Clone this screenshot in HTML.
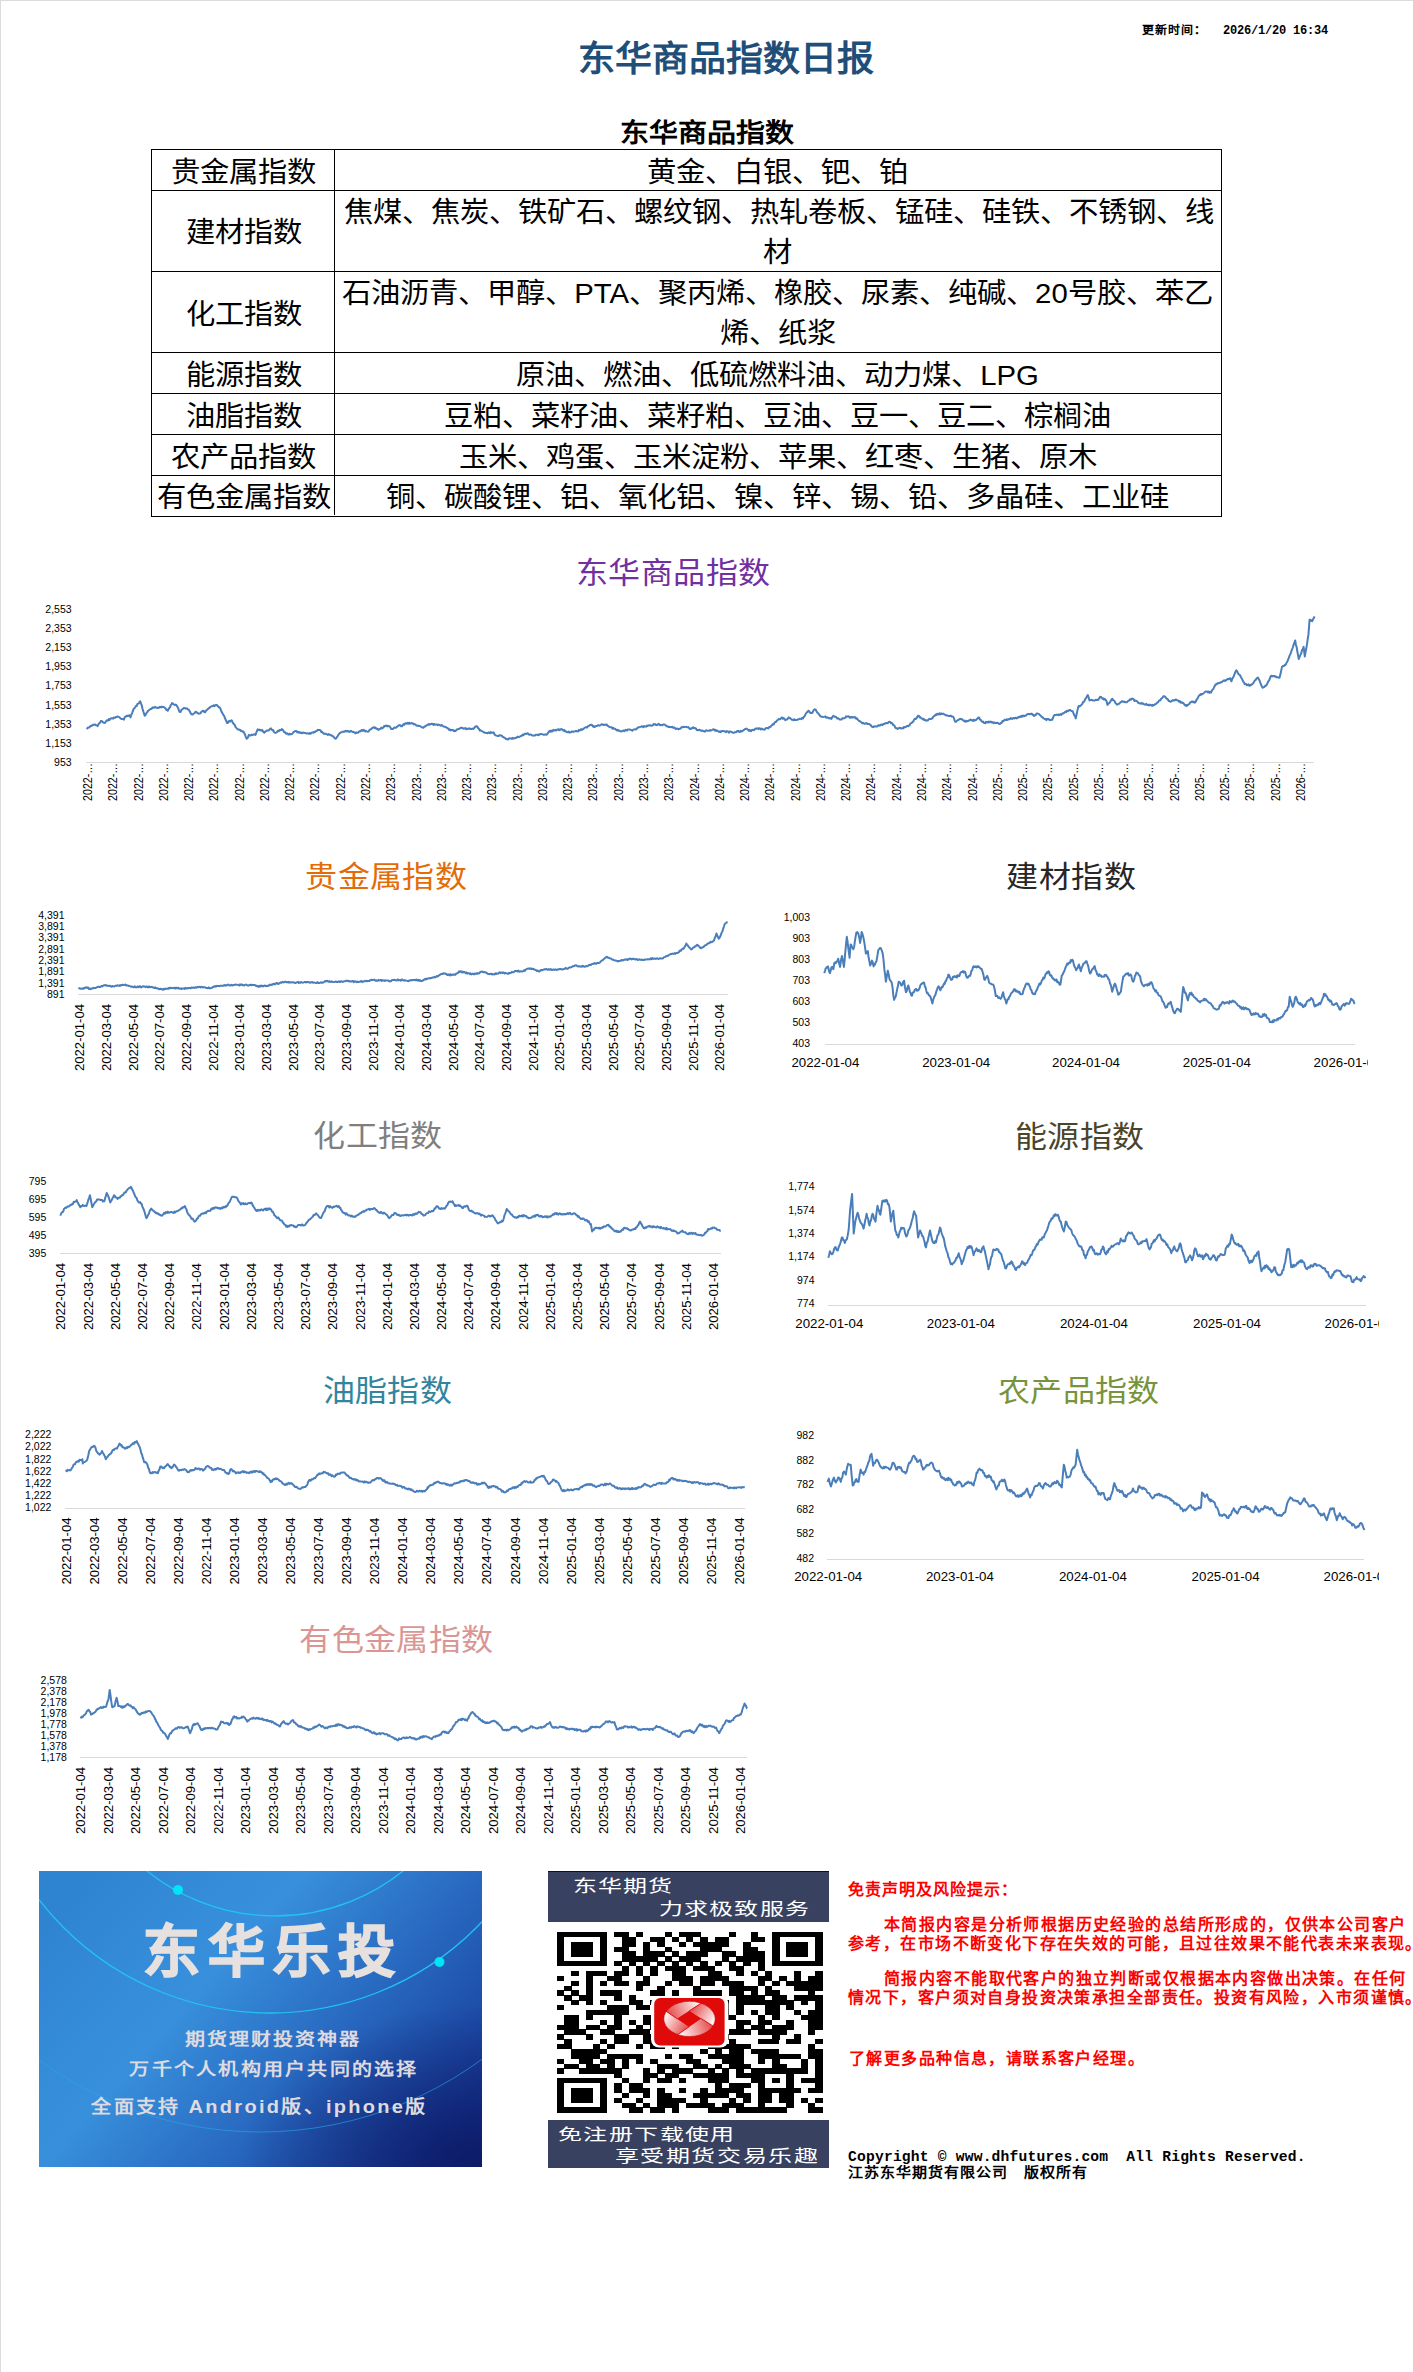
<!DOCTYPE html>
<html lang="zh-CN"><head><meta charset="utf-8"><title>东华商品指数日报</title>
<style>html,body{margin:0;padding:0;background:#fff;} body{position:relative;width:1413px;height:2372px;overflow:hidden;font-family:"Liberation Sans", sans-serif;}</style>
</head><body>
<div style="position:absolute;left:0;top:0;width:1413px;height:1px;background:#dcdcdc"></div>
<div style="position:absolute;left:0;top:0;width:1px;height:2372px;background:#dcdcdc"></div>
<div style="position:absolute;left:1142px;top:24px;font-size:12px;line-height:12px;color:#000;font-weight:bold;white-space:nowrap;font-family:'Liberation Sans', sans-serif;letter-spacing:1px;transform:scaleY(0.95);transform-origin:top;">更新时间：</div>
<div style="position:absolute;left:1223px;top:25px;font-size:12px;line-height:12px;color:#000;font-weight:bold;white-space:nowrap;font-family:'Liberation Mono', monospace;letter-spacing:-0.2px;">2026/1/20 16:34</div>
<div style="position:absolute;left:225.5px;width:1000px;top:41.5px;text-align:center;font-size:37px;line-height:37px;color:#1f4e79;font-weight:bold;white-space:nowrap;font-family:'Liberation Sans', sans-serif;transform:scaleY(0.94);transform-origin:top;">东华商品指数日报</div>
<div style="position:absolute;left:207.0px;width:1000px;top:119.5px;text-align:center;font-size:29px;line-height:29px;color:#000;font-weight:bold;white-space:nowrap;font-family:'Liberation Sans', sans-serif;transform:scaleY(0.9);transform-origin:top;">东华商品指数</div>
<div style="position:absolute;left:151px;top:149px;width:1069px;height:366px;border:1px solid #000;box-sizing:content-box"></div>
<div style="position:absolute;left:151px;top:190px;width:1070px;height:1px;background:#000"></div>
<div style="position:absolute;left:151px;top:271px;width:1070px;height:1px;background:#000"></div>
<div style="position:absolute;left:151px;top:352px;width:1070px;height:1px;background:#000"></div>
<div style="position:absolute;left:151px;top:393px;width:1070px;height:1px;background:#000"></div>
<div style="position:absolute;left:151px;top:434px;width:1070px;height:1px;background:#000"></div>
<div style="position:absolute;left:151px;top:474.5px;width:1070px;height:1px;background:#000"></div>
<div style="position:absolute;left:334px;top:149px;width:1px;height:366px;background:#000"></div>
<div style="position:absolute;left:-256.5px;width:1000px;top:156.5px;text-align:center;font-size:29.33px;line-height:29.33px;color:#000;font-weight:normal;white-space:nowrap;font-family:'Liberation Sans', sans-serif;transform:scaleY(0.96);">贵金属指数</div>
<div style="position:absolute;left:277.5px;width:1000px;top:156.5px;text-align:center;font-size:29.33px;line-height:29.33px;color:#000;font-weight:normal;white-space:nowrap;font-family:'Liberation Sans', sans-serif;transform:scaleY(0.96);">黄金、白银、钯、铂</div>
<div style="position:absolute;left:-256.5px;width:1000px;top:217.0px;text-align:center;font-size:29.33px;line-height:29.33px;color:#000;font-weight:normal;white-space:nowrap;font-family:'Liberation Sans', sans-serif;transform:scaleY(0.96);">建材指数</div>
<div style="position:absolute;left:278.5px;width:1000px;top:197.0px;text-align:center;font-size:29.33px;line-height:29.33px;color:#000;font-weight:normal;white-space:nowrap;font-family:'Liberation Sans', sans-serif;transform:scaleY(0.96);">焦煤、焦炭、铁矿石、螺纹钢、热轧卷板、锰硅、硅铁、不锈钢、线</div>
<div style="position:absolute;left:277.5px;width:1000px;top:236.8px;text-align:center;font-size:29.33px;line-height:29.33px;color:#000;font-weight:normal;white-space:nowrap;font-family:'Liberation Sans', sans-serif;transform:scaleY(0.96);">材</div>
<div style="position:absolute;left:-256.5px;width:1000px;top:298.5px;text-align:center;font-size:29.33px;line-height:29.33px;color:#000;font-weight:normal;white-space:nowrap;font-family:'Liberation Sans', sans-serif;transform:scaleY(0.96);">化工指数</div>
<div style="position:absolute;left:277.5px;width:1000px;top:278.0px;text-align:center;font-size:29.33px;line-height:29.33px;color:#000;font-weight:normal;white-space:nowrap;font-family:'Liberation Sans', sans-serif;transform:scaleY(0.96);">石油沥青、甲醇、PTA、聚丙烯、橡胶、尿素、纯碱、20号胶、苯乙</div>
<div style="position:absolute;left:277.5px;width:1000px;top:318.0px;text-align:center;font-size:29.33px;line-height:29.33px;color:#000;font-weight:normal;white-space:nowrap;font-family:'Liberation Sans', sans-serif;transform:scaleY(0.96);">烯、纸浆</div>
<div style="position:absolute;left:-256.5px;width:1000px;top:359.5px;text-align:center;font-size:29.33px;line-height:29.33px;color:#000;font-weight:normal;white-space:nowrap;font-family:'Liberation Sans', sans-serif;transform:scaleY(0.96);">能源指数</div>
<div style="position:absolute;left:277.5px;width:1000px;top:359.5px;text-align:center;font-size:29.33px;line-height:29.33px;color:#000;font-weight:normal;white-space:nowrap;font-family:'Liberation Sans', sans-serif;transform:scaleY(0.96);">原油、燃油、低硫燃料油、动力煤、LPG</div>
<div style="position:absolute;left:-256.5px;width:1000px;top:400.5px;text-align:center;font-size:29.33px;line-height:29.33px;color:#000;font-weight:normal;white-space:nowrap;font-family:'Liberation Sans', sans-serif;transform:scaleY(0.96);">油脂指数</div>
<div style="position:absolute;left:277.5px;width:1000px;top:400.5px;text-align:center;font-size:29.33px;line-height:29.33px;color:#000;font-weight:normal;white-space:nowrap;font-family:'Liberation Sans', sans-serif;transform:scaleY(0.96);">豆粕、菜籽油、菜籽粕、豆油、豆一、豆二、棕榈油</div>
<div style="position:absolute;left:-256.5px;width:1000px;top:441.5px;text-align:center;font-size:29.33px;line-height:29.33px;color:#000;font-weight:normal;white-space:nowrap;font-family:'Liberation Sans', sans-serif;transform:scaleY(0.96);">农产品指数</div>
<div style="position:absolute;left:277.5px;width:1000px;top:441.5px;text-align:center;font-size:29.33px;line-height:29.33px;color:#000;font-weight:normal;white-space:nowrap;font-family:'Liberation Sans', sans-serif;transform:scaleY(0.96);">玉米、鸡蛋、玉米淀粉、苹果、红枣、生猪、原木</div>
<div style="position:absolute;left:-256.5px;width:1000px;top:481.5px;text-align:center;font-size:29.33px;line-height:29.33px;color:#000;font-weight:normal;white-space:nowrap;font-family:'Liberation Sans', sans-serif;transform:scaleY(0.96);">有色金属指数</div>
<div style="position:absolute;left:277.5px;width:1000px;top:481.5px;text-align:center;font-size:29.33px;line-height:29.33px;color:#000;font-weight:normal;white-space:nowrap;font-family:'Liberation Sans', sans-serif;transform:scaleY(0.96);">铜、碳酸锂、铝、氧化铝、镍、锌、锡、铅、多晶硅、工业硅</div>
<div style="position:absolute;left:173.20000000000005px;width:1000px;top:556.5px;text-align:center;font-size:32px;line-height:32px;color:#7030a0;font-weight:normal;white-space:nowrap;font-family:'Liberation Sans', sans-serif;letter-spacing:0.4px;transform:scaleY(0.92);">东华商品指数</div>
<div style="position:absolute;left:-113.90000000000003px;width:1000px;top:860.5px;text-align:center;font-size:32px;line-height:32px;color:#e36c09;font-weight:normal;white-space:nowrap;font-family:'Liberation Sans', sans-serif;letter-spacing:0.4px;transform:scaleY(0.92);">贵金属指数</div>
<div style="position:absolute;left:571.2px;width:1000px;top:860.5px;text-align:center;font-size:32px;line-height:32px;color:#262626;font-weight:normal;white-space:nowrap;font-family:'Liberation Sans', sans-serif;letter-spacing:0.4px;transform:scaleY(0.92);">建材指数</div>
<div style="position:absolute;left:-122.0px;width:1000px;top:1120.0px;text-align:center;font-size:32px;line-height:32px;color:#7f7f7f;font-weight:normal;white-space:nowrap;font-family:'Liberation Sans', sans-serif;letter-spacing:0.4px;transform:scaleY(0.92);">化工指数</div>
<div style="position:absolute;left:579.8500000000001px;width:1000px;top:1121.0px;text-align:center;font-size:32px;line-height:32px;color:#4a452a;font-weight:normal;white-space:nowrap;font-family:'Liberation Sans', sans-serif;letter-spacing:0.4px;transform:scaleY(0.92);">能源指数</div>
<div style="position:absolute;left:-112.5px;width:1000px;top:1375.0px;text-align:center;font-size:32px;line-height:32px;color:#31859c;font-weight:normal;white-space:nowrap;font-family:'Liberation Sans', sans-serif;letter-spacing:0.4px;transform:scaleY(0.92);">油脂指数</div>
<div style="position:absolute;left:578.9000000000001px;width:1000px;top:1375.0px;text-align:center;font-size:32px;line-height:32px;color:#77933c;font-weight:normal;white-space:nowrap;font-family:'Liberation Sans', sans-serif;letter-spacing:0.4px;transform:scaleY(0.92);">农产品指数</div>
<div style="position:absolute;left:-103.5px;width:1000px;top:1623.5px;text-align:center;font-size:32px;line-height:32px;color:#d99694;font-weight:normal;white-space:nowrap;font-family:'Liberation Sans', sans-serif;letter-spacing:0.4px;transform:scaleY(0.92);">有色金属指数</div>
<svg style="position:absolute;left:0;top:0" width="1413" height="2372" font-family='"Liberation Sans", sans-serif' fill="#000"><text x="71.6" y="612.8" font-size="10.5" text-anchor="end">2,553</text><text x="71.6" y="632.0" font-size="10.5" text-anchor="end">2,353</text><text x="71.6" y="651.1" font-size="10.5" text-anchor="end">2,153</text><text x="71.6" y="670.2" font-size="10.5" text-anchor="end">1,953</text><text x="71.6" y="689.3" font-size="10.5" text-anchor="end">1,753</text><text x="71.6" y="708.5" font-size="10.5" text-anchor="end">1,553</text><text x="71.6" y="727.6" font-size="10.5" text-anchor="end">1,353</text><text x="71.6" y="746.7" font-size="10.5" text-anchor="end">1,153</text><text x="71.6" y="765.8" font-size="10.5" text-anchor="end">953</text><rect x="86" y="762" width="1228" height="1" fill="#d9d9d9"/><text transform="translate(92.0,801.0) rotate(-90)" font-size="12" textLength="38" lengthAdjust="spacingAndGlyphs">2022-…</text><text transform="translate(117.2,801.0) rotate(-90)" font-size="12" textLength="38" lengthAdjust="spacingAndGlyphs">2022-…</text><text transform="translate(142.5,801.0) rotate(-90)" font-size="12" textLength="38" lengthAdjust="spacingAndGlyphs">2022-…</text><text transform="translate(167.8,801.0) rotate(-90)" font-size="12" textLength="38" lengthAdjust="spacingAndGlyphs">2022-…</text><text transform="translate(193.1,801.0) rotate(-90)" font-size="12" textLength="38" lengthAdjust="spacingAndGlyphs">2022-…</text><text transform="translate(218.3,801.0) rotate(-90)" font-size="12" textLength="38" lengthAdjust="spacingAndGlyphs">2022-…</text><text transform="translate(243.6,801.0) rotate(-90)" font-size="12" textLength="38" lengthAdjust="spacingAndGlyphs">2022-…</text><text transform="translate(268.9,801.0) rotate(-90)" font-size="12" textLength="38" lengthAdjust="spacingAndGlyphs">2022-…</text><text transform="translate(294.1,801.0) rotate(-90)" font-size="12" textLength="38" lengthAdjust="spacingAndGlyphs">2022-…</text><text transform="translate(319.4,801.0) rotate(-90)" font-size="12" textLength="38" lengthAdjust="spacingAndGlyphs">2022-…</text><text transform="translate(344.7,801.0) rotate(-90)" font-size="12" textLength="38" lengthAdjust="spacingAndGlyphs">2022-…</text><text transform="translate(370.0,801.0) rotate(-90)" font-size="12" textLength="38" lengthAdjust="spacingAndGlyphs">2022-…</text><text transform="translate(395.2,801.0) rotate(-90)" font-size="12" textLength="38" lengthAdjust="spacingAndGlyphs">2023-…</text><text transform="translate(420.5,801.0) rotate(-90)" font-size="12" textLength="38" lengthAdjust="spacingAndGlyphs">2023-…</text><text transform="translate(445.8,801.0) rotate(-90)" font-size="12" textLength="38" lengthAdjust="spacingAndGlyphs">2023-…</text><text transform="translate(471.0,801.0) rotate(-90)" font-size="12" textLength="38" lengthAdjust="spacingAndGlyphs">2023-…</text><text transform="translate(496.3,801.0) rotate(-90)" font-size="12" textLength="38" lengthAdjust="spacingAndGlyphs">2023-…</text><text transform="translate(521.6,801.0) rotate(-90)" font-size="12" textLength="38" lengthAdjust="spacingAndGlyphs">2023-…</text><text transform="translate(546.8,801.0) rotate(-90)" font-size="12" textLength="38" lengthAdjust="spacingAndGlyphs">2023-…</text><text transform="translate(572.1,801.0) rotate(-90)" font-size="12" textLength="38" lengthAdjust="spacingAndGlyphs">2023-…</text><text transform="translate(597.4,801.0) rotate(-90)" font-size="12" textLength="38" lengthAdjust="spacingAndGlyphs">2023-…</text><text transform="translate(622.7,801.0) rotate(-90)" font-size="12" textLength="38" lengthAdjust="spacingAndGlyphs">2023-…</text><text transform="translate(647.9,801.0) rotate(-90)" font-size="12" textLength="38" lengthAdjust="spacingAndGlyphs">2023-…</text><text transform="translate(673.2,801.0) rotate(-90)" font-size="12" textLength="38" lengthAdjust="spacingAndGlyphs">2023-…</text><text transform="translate(698.5,801.0) rotate(-90)" font-size="12" textLength="38" lengthAdjust="spacingAndGlyphs">2024-…</text><text transform="translate(723.7,801.0) rotate(-90)" font-size="12" textLength="38" lengthAdjust="spacingAndGlyphs">2024-…</text><text transform="translate(749.0,801.0) rotate(-90)" font-size="12" textLength="38" lengthAdjust="spacingAndGlyphs">2024-…</text><text transform="translate(774.3,801.0) rotate(-90)" font-size="12" textLength="38" lengthAdjust="spacingAndGlyphs">2024-…</text><text transform="translate(799.6,801.0) rotate(-90)" font-size="12" textLength="38" lengthAdjust="spacingAndGlyphs">2024-…</text><text transform="translate(824.8,801.0) rotate(-90)" font-size="12" textLength="38" lengthAdjust="spacingAndGlyphs">2024-…</text><text transform="translate(850.1,801.0) rotate(-90)" font-size="12" textLength="38" lengthAdjust="spacingAndGlyphs">2024-…</text><text transform="translate(875.4,801.0) rotate(-90)" font-size="12" textLength="38" lengthAdjust="spacingAndGlyphs">2024-…</text><text transform="translate(900.6,801.0) rotate(-90)" font-size="12" textLength="38" lengthAdjust="spacingAndGlyphs">2024-…</text><text transform="translate(925.9,801.0) rotate(-90)" font-size="12" textLength="38" lengthAdjust="spacingAndGlyphs">2024-…</text><text transform="translate(951.2,801.0) rotate(-90)" font-size="12" textLength="38" lengthAdjust="spacingAndGlyphs">2024-…</text><text transform="translate(976.5,801.0) rotate(-90)" font-size="12" textLength="38" lengthAdjust="spacingAndGlyphs">2024-…</text><text transform="translate(1001.7,801.0) rotate(-90)" font-size="12" textLength="38" lengthAdjust="spacingAndGlyphs">2025-…</text><text transform="translate(1027.0,801.0) rotate(-90)" font-size="12" textLength="38" lengthAdjust="spacingAndGlyphs">2025-…</text><text transform="translate(1052.3,801.0) rotate(-90)" font-size="12" textLength="38" lengthAdjust="spacingAndGlyphs">2025-…</text><text transform="translate(1077.5,801.0) rotate(-90)" font-size="12" textLength="38" lengthAdjust="spacingAndGlyphs">2025-…</text><text transform="translate(1102.8,801.0) rotate(-90)" font-size="12" textLength="38" lengthAdjust="spacingAndGlyphs">2025-…</text><text transform="translate(1128.1,801.0) rotate(-90)" font-size="12" textLength="38" lengthAdjust="spacingAndGlyphs">2025-…</text><text transform="translate(1153.3,801.0) rotate(-90)" font-size="12" textLength="38" lengthAdjust="spacingAndGlyphs">2025-…</text><text transform="translate(1178.6,801.0) rotate(-90)" font-size="12" textLength="38" lengthAdjust="spacingAndGlyphs">2025-…</text><text transform="translate(1203.9,801.0) rotate(-90)" font-size="12" textLength="38" lengthAdjust="spacingAndGlyphs">2025-…</text><text transform="translate(1229.2,801.0) rotate(-90)" font-size="12" textLength="38" lengthAdjust="spacingAndGlyphs">2025-…</text><text transform="translate(1254.4,801.0) rotate(-90)" font-size="12" textLength="38" lengthAdjust="spacingAndGlyphs">2025-…</text><text transform="translate(1279.7,801.0) rotate(-90)" font-size="12" textLength="38" lengthAdjust="spacingAndGlyphs">2025-…</text><text transform="translate(1305.0,801.0) rotate(-90)" font-size="12" textLength="38" lengthAdjust="spacingAndGlyphs">2026-…</text><polyline points="86.6,729.0 87.4,728.2 88.2,727.4 89.1,727.6 89.9,726.8 90.6,725.8 91.3,726.1 92.1,725.5 92.8,724.7 93.5,725.0 94.3,724.6 95.1,724.4 95.9,725.3 96.7,725.2 97.6,726.2 98.4,724.3 99.2,723.5 100.0,722.8 100.8,721.1 101.7,721.0 102.5,721.6 103.3,722.6 104.1,722.9 105.0,722.8 105.8,721.7 106.6,720.7 107.4,720.2 108.1,720.6 108.8,719.1 109.5,720.0 110.2,718.9 111.0,718.5 111.7,718.2 112.4,718.2 113.1,718.7 113.8,717.5 114.5,717.8 115.2,717.7 115.9,717.0 116.6,717.0 117.3,716.7 118.1,716.5 118.9,717.0 119.8,717.6 120.6,718.5 121.4,719.0 122.2,718.9 123.1,719.0 123.9,719.6 125.0,716.7 125.7,716.6 126.4,716.1 127.2,715.7 127.9,716.1 128.6,715.7 129.4,715.2 130.5,717.4 131.3,714.8 132.1,713.1 132.9,710.8 133.8,708.6 134.5,708.3 135.2,707.3 135.9,705.9 136.7,706.1 137.4,704.0 138.1,703.7 138.9,703.3 139.6,701.7 140.3,701.4 141.1,703.8 141.8,705.5 142.5,708.8 143.3,711.4 144.0,713.5 144.7,715.8 145.5,715.1 146.4,713.1 147.2,712.3 148.0,710.8 148.7,710.4 149.5,709.8 150.2,709.1 150.9,709.1 151.7,708.7 152.4,707.5 153.2,707.5 154.0,707.7 154.9,706.9 155.7,707.5 156.5,707.7 157.2,707.6 158.0,708.1 158.8,707.8 159.5,707.0 160.3,707.1 161.1,707.4 161.8,706.5 162.6,707.1 163.4,707.1 164.1,707.2 164.8,707.8 165.6,708.3 166.3,709.9 167.0,709.7 167.8,710.8 168.5,709.2 169.2,708.1 170.0,707.5 170.7,705.1 171.4,704.3 172.1,703.1 172.9,703.6 173.6,704.4 174.3,704.7 175.1,705.1 175.8,704.6 176.5,705.3 177.4,706.8 178.2,708.4 179.0,710.8 179.8,711.9 180.6,711.9 181.3,710.1 182.0,709.5 182.7,708.9 183.5,708.2 184.2,707.9 184.9,708.2 185.7,708.7 186.4,708.5 187.1,708.4 187.9,709.3 188.6,709.7 189.4,710.7 190.2,712.2 191.1,714.0 191.9,714.5 192.6,714.4 193.4,713.7 194.1,713.4 194.8,713.0 195.5,711.7 196.3,711.9 197.1,712.9 197.9,713.2 198.7,713.7 199.6,713.6 200.4,713.4 201.2,712.1 202.0,711.4 202.9,710.8 203.6,710.8 204.3,712.0 205.1,712.3 205.8,711.0 206.5,710.3 207.2,709.7 208.0,708.9 208.7,708.4 209.4,707.9 210.2,707.0 210.9,706.6 211.6,706.4 212.4,706.0 213.1,706.0 213.8,705.2 214.6,706.1 215.3,705.4 216.0,704.9 216.8,705.0 217.5,705.8 218.2,706.5 218.9,707.2 219.7,707.5 220.4,708.6 221.1,710.7 221.9,712.5 222.6,713.3 223.3,714.9 224.1,715.9 224.8,717.6 225.5,719.5 226.3,720.9 227.0,722.9 227.7,722.9 228.5,721.5 229.2,720.9 229.9,721.7 230.7,720.7 231.4,720.2 232.1,721.0 232.8,722.8 233.6,724.0 234.3,724.2 235.0,725.8 235.8,727.4 236.5,728.1 237.2,728.8 238.0,729.4 238.7,729.4 239.5,729.9 240.3,729.9 241.1,731.1 241.9,731.1 242.7,731.7 243.4,731.6 244.3,733.2 245.1,734.8 245.9,737.3 246.7,738.7 247.5,738.1 248.2,736.7 248.9,734.9 249.7,735.4 250.4,735.4 251.1,735.3 251.9,734.5 252.6,735.0 253.3,734.7 254.1,734.3 254.8,734.3 255.5,734.9 256.2,732.8 257.0,730.9 257.7,729.4 258.4,729.8 259.2,730.2 259.9,729.6 260.6,730.3 261.4,730.5 262.1,729.9 262.8,731.5 263.6,731.6 264.3,732.7 265.0,731.9 265.8,731.4 266.5,730.8 267.2,730.4 267.9,730.5 268.7,730.4 269.4,729.8 270.1,728.8 270.9,728.3 271.6,729.3 272.3,730.2 273.1,730.0 273.8,731.5 274.5,732.6 275.3,732.7 276.0,732.7 276.7,732.3 277.5,731.5 278.2,730.6 278.9,731.1 279.6,730.0 280.4,730.3 281.1,730.1 281.8,729.0 282.6,729.7 283.3,730.5 284.0,732.0 284.8,732.5 285.5,732.6 286.2,733.8 287.0,733.4 287.7,733.5 288.4,734.6 289.2,734.6 289.9,733.7 290.6,734.3 291.4,734.2 292.1,733.9 292.8,733.0 293.5,732.0 294.3,731.8 295.0,731.2 295.7,730.9 296.5,730.9 297.2,732.4 297.9,732.1 298.7,732.1 299.4,732.8 300.1,732.3 300.9,733.1 301.6,732.7 302.3,733.3 303.1,732.5 303.8,732.7 304.5,732.9 305.2,732.9 306.0,733.4 306.8,733.6 307.6,733.3 308.4,733.6 309.3,733.8 310.0,733.0 310.7,733.8 311.4,732.8 312.1,732.6 312.8,732.5 313.5,732.7 314.2,731.7 314.9,732.2 315.6,731.3 316.3,731.1 317.0,730.8 317.7,729.8 318.4,730.1 319.1,729.9 319.9,730.0 320.6,730.4 321.3,732.1 322.1,731.8 322.8,732.8 323.5,733.4 324.3,733.9 325.0,733.8 325.7,733.7 326.5,734.1 327.2,734.4 327.9,734.9 328.6,734.1 329.4,734.9 330.1,734.7 330.8,734.9 331.6,735.8 332.3,735.6 333.1,736.4 333.9,737.2 334.8,738.3 335.6,738.7 336.3,738.2 337.1,736.6 337.8,735.9 338.5,734.7 339.3,733.7 340.0,732.7 340.8,732.7 341.5,732.1 342.3,731.9 343.1,731.6 343.9,731.9 344.7,731.3 345.5,730.8 346.2,731.4 346.9,731.6 347.7,730.7 348.4,731.2 349.1,731.9 349.9,731.8 350.6,730.9 351.3,731.0 352.0,731.6 352.9,732.0 353.7,731.9 354.5,732.6 355.3,733.4 356.1,732.4 356.9,732.9 357.6,732.7 358.4,732.5 359.2,731.2 359.9,731.6 360.7,731.2 361.5,730.1 362.3,730.8 363.0,729.9 363.8,730.8 364.5,730.1 365.2,731.4 365.9,730.9 366.7,731.3 367.4,731.6 368.1,731.8 368.9,731.1 369.6,729.7 370.3,729.6 371.1,729.2 371.8,728.5 372.5,727.8 373.3,727.5 374.0,727.2 374.7,728.0 375.5,727.5 376.2,728.6 376.9,728.9 377.6,728.8 378.4,729.9 379.1,729.2 379.8,729.2 380.6,728.7 381.3,727.6 382.0,728.5 382.8,727.8 383.5,727.6 384.2,726.0 385.0,726.2 385.7,725.8 386.5,725.5 387.2,726.5 388.0,725.8 388.8,726.2 389.6,726.3 390.4,727.5 391.2,728.9 392.1,729.0 392.9,729.1 393.7,728.0 394.5,727.5 395.4,727.7 396.2,727.7 397.0,726.7 397.8,726.3 398.6,725.5 399.5,725.1 400.3,725.2 401.1,726.3 401.9,726.2 402.8,725.3 403.6,724.1 404.4,724.6 405.2,723.3 406.0,723.5 406.8,723.7 407.5,722.7 408.3,723.8 409.1,722.7 409.8,723.8 410.6,723.2 411.4,723.1 412.1,723.4 412.9,723.3 413.7,724.4 414.6,724.1 415.4,724.4 416.2,725.5 416.9,725.8 417.7,725.6 418.4,725.7 419.1,726.0 419.9,726.1 420.6,726.5 421.3,726.9 422.1,727.2 422.8,727.7 423.5,727.7 424.3,726.6 425.1,726.6 425.9,725.7 426.6,725.6 427.4,724.8 428.2,724.7 428.9,724.0 429.7,724.7 430.5,724.0 431.2,724.1 431.9,723.7 432.7,724.1 433.4,724.9 434.1,723.8 434.8,724.8 435.6,724.4 436.3,724.5 437.0,724.6 437.8,725.2 438.5,724.6 439.2,724.8 440.0,725.2 440.7,725.7 441.4,725.1 442.2,725.2 442.9,726.3 443.6,726.4 444.4,726.7 445.1,726.7 445.8,727.2 446.6,727.7 447.5,727.9 448.3,728.7 449.1,729.9 449.9,729.4 450.7,730.5 451.5,729.9 452.2,729.9 453.0,729.9 453.8,731.1 454.6,730.8 455.4,731.0 456.1,730.4 456.9,729.5 457.7,729.2 458.4,728.9 459.2,728.9 460.0,728.1 460.7,728.2 461.5,727.7 462.3,727.7 463.1,728.5 463.8,728.7 464.6,728.3 465.4,728.1 466.2,729.3 467.0,728.5 467.8,729.0 468.5,728.8 469.3,728.3 470.1,728.8 470.9,729.0 471.7,729.0 472.5,728.6 473.2,729.0 474.1,728.3 474.9,726.9 475.7,726.5 476.5,726.2 477.4,726.7 478.2,728.2 479.0,728.8 479.8,730.5 480.6,730.2 481.4,730.9 482.2,731.1 483.0,731.9 483.7,732.1 484.5,732.8 485.3,732.7 486.1,732.9 486.8,733.0 487.6,733.2 488.4,732.5 489.1,732.4 489.9,733.3 490.7,732.1 491.5,732.9 492.2,732.7 493.0,732.5 493.8,732.6 494.6,734.5 495.5,735.4 496.3,735.6 497.1,735.8 497.8,735.9 498.6,736.0 499.4,735.1 500.2,735.6 501.0,735.6 501.8,735.6 502.5,736.6 503.3,737.1 504.1,737.6 504.9,737.8 505.7,738.8 506.5,739.0 507.2,739.3 508.0,739.5 508.7,738.7 509.4,738.3 510.2,738.4 510.9,738.6 511.6,738.7 512.4,737.9 513.1,738.8 513.8,738.2 514.6,738.2 515.3,738.0 516.0,737.9 516.8,737.4 517.5,736.6 518.2,737.1 518.9,737.2 519.7,736.8 520.4,736.2 521.1,735.9 521.9,735.8 522.6,734.6 523.3,735.3 524.1,734.3 524.8,733.7 525.5,733.7 526.3,734.0 527.0,733.4 527.7,733.2 528.5,734.2 529.2,734.8 529.9,734.4 530.7,734.4 531.4,734.8 532.1,735.4 532.8,735.7 533.6,735.6 534.3,735.6 535.0,735.6 535.8,734.7 536.5,734.7 537.2,734.7 538.0,735.3 538.7,734.5 539.4,734.8 540.2,733.9 540.9,733.9 541.6,734.1 542.4,734.3 543.1,734.6 543.8,734.7 544.5,734.7 545.3,734.3 546.0,734.7 546.7,734.7 547.5,733.6 548.2,732.6 548.9,731.6 549.7,730.9 550.4,731.8 551.1,730.6 551.9,731.5 552.6,731.3 553.3,729.8 554.1,730.2 554.8,730.5 555.5,729.9 556.2,730.5 557.0,729.7 557.7,729.4 558.4,729.3 559.2,730.3 559.9,729.2 560.6,729.7 561.4,729.0 562.1,729.4 562.8,729.8 563.6,730.8 564.3,730.0 565.0,731.4 565.8,731.3 566.5,731.6 567.2,732.3 567.9,732.1 568.7,731.6 569.4,732.6 570.1,732.2 570.9,732.3 571.6,731.5 572.3,731.4 573.1,731.9 573.8,731.7 574.5,731.4 575.3,731.1 576.0,731.2 576.7,731.1 577.5,731.2 578.2,731.4 578.9,729.9 579.6,730.6 580.4,730.4 581.1,729.1 581.8,729.9 582.6,729.3 583.3,729.2 584.0,728.3 584.8,727.7 585.5,727.4 586.2,727.1 587.0,727.6 587.7,726.6 588.4,726.0 589.2,725.7 589.9,725.1 590.6,725.1 591.4,724.7 592.1,725.1 592.8,726.4 593.5,725.9 594.3,727.1 595.0,726.8 595.7,726.2 596.5,725.9 597.2,725.9 597.9,725.2 598.7,725.2 599.4,725.7 600.1,725.3 600.9,724.9 601.6,724.2 602.3,724.4 603.1,724.9 603.8,725.0 604.5,724.5 605.2,724.9 606.0,724.6 606.7,724.4 607.4,725.8 608.2,725.9 608.9,726.7 609.6,727.0 610.4,727.2 611.1,727.2 611.8,727.2 612.6,728.7 613.3,727.9 614.0,728.7 614.8,728.8 615.5,729.0 616.2,729.9 616.9,730.5 617.7,729.8 618.4,730.7 619.1,730.5 619.9,731.1 620.6,731.2 621.3,731.6 622.1,730.9 622.8,730.7 623.5,730.5 624.3,731.2 625.0,730.4 625.7,729.8 626.5,730.5 627.2,730.4 627.9,729.4 628.6,729.6 629.4,729.4 630.1,729.7 630.8,729.7 631.6,730.3 632.3,730.8 633.0,729.8 633.8,729.6 634.5,729.3 635.2,729.3 636.0,729.4 636.7,728.8 637.4,727.9 638.2,727.5 638.9,727.2 639.6,727.2 640.3,726.9 641.1,726.7 641.8,726.2 642.5,726.4 643.3,727.2 644.0,726.0 644.7,726.4 645.5,726.4 646.2,726.7 646.9,725.6 647.7,725.9 648.4,725.5 649.1,725.3 649.9,725.4 650.6,725.3 651.3,725.8 652.0,725.5 652.8,725.4 653.5,724.1 654.2,724.6 655.0,724.0 655.7,724.9 656.4,725.2 657.2,724.6 657.9,724.7 658.6,723.9 659.4,724.5 660.1,725.2 660.8,725.1 661.6,725.1 662.3,725.3 663.0,724.6 663.8,724.5 664.5,724.6 665.2,724.9 665.9,725.7 666.7,726.2 667.4,726.2 668.1,726.9 668.9,726.8 669.6,726.9 670.3,727.2 671.1,726.9 671.8,727.2 672.5,726.7 673.3,727.9 674.0,727.7 674.7,727.6 675.5,728.9 676.2,728.8 676.9,728.6 677.6,728.6 678.4,729.4 679.1,728.7 679.8,728.9 680.6,728.6 681.3,727.4 682.0,727.0 682.8,727.2 683.3,726.8 684.0,726.9 684.8,727.1 685.5,726.9 686.2,726.7 686.9,727.3 687.7,727.2 688.4,727.1 689.1,728.1 689.9,729.0 690.7,728.5 691.5,728.8 692.3,727.9 693.2,727.2 693.9,728.2 694.6,728.1 695.4,728.2 696.1,728.6 696.8,730.1 697.6,729.9 698.3,730.3 699.0,729.9 699.7,729.7 700.5,730.5 701.2,730.9 701.9,730.6 702.7,730.6 703.4,731.3 704.1,731.2 704.9,731.7 705.6,730.7 706.3,730.3 707.1,730.7 707.8,730.7 708.5,730.8 709.3,730.8 710.1,730.0 710.9,730.6 711.7,730.3 712.4,729.8 713.2,729.2 714.0,729.4 714.7,730.5 715.5,729.9 716.2,731.0 716.9,730.5 717.7,730.9 718.4,731.6 719.2,731.9 720.0,731.2 720.7,732.1 721.5,731.4 722.3,730.9 723.1,730.9 723.9,731.2 724.6,731.2 725.3,731.6 726.1,732.2 726.8,731.1 727.5,731.6 728.3,731.5 729.0,732.6 729.7,731.6 730.5,731.6 731.2,731.7 731.9,732.3 732.7,732.5 733.4,732.9 734.1,732.6 734.8,732.2 735.6,732.3 736.3,732.0 737.0,731.2 737.8,731.0 738.5,730.9 739.2,732.0 740.0,731.8 740.7,730.9 741.4,731.6 742.2,731.4 742.9,730.6 743.6,730.1 744.4,729.6 745.1,729.0 745.8,729.0 746.5,728.6 747.3,729.3 748.0,729.7 748.7,730.8 749.5,729.9 750.2,730.8 751.0,731.2 751.7,729.9 752.5,729.8 753.3,730.2 754.0,730.0 754.8,729.2 755.6,728.4 756.3,728.8 757.1,728.4 757.9,728.3 758.7,729.1 759.5,728.2 760.2,728.6 761.0,729.5 761.8,728.5 762.6,729.2 763.4,729.4 764.1,729.7 764.8,729.5 765.6,728.3 766.3,728.1 767.0,727.9 767.8,728.3 768.5,728.4 769.2,726.9 770.0,727.0 770.7,726.7 771.4,725.4 772.1,725.1 772.9,724.1 773.6,724.4 774.3,723.2 775.1,722.1 775.8,722.1 776.5,721.1 777.3,720.3 778.1,719.7 778.9,718.8 779.7,719.3 780.5,719.0 781.2,718.1 782.0,717.4 782.8,718.7 783.7,718.1 784.5,719.1 785.3,720.2 786.1,719.5 787.0,719.4 787.8,718.7 788.6,717.4 789.4,717.8 790.2,718.2 791.1,719.1 791.9,719.8 792.6,719.7 793.4,720.3 794.1,719.2 794.8,720.0 795.5,719.9 796.3,719.9 797.0,719.8 797.7,719.5 798.5,719.4 799.2,719.0 799.9,718.8 800.7,718.7 801.4,719.2 802.1,718.0 802.9,718.5 803.6,717.0 804.4,716.6 805.2,714.8 806.0,713.5 806.8,712.3 807.6,712.0 808.3,710.8 809.2,711.1 810.0,712.6 810.8,713.0 811.6,713.0 812.5,712.7 813.3,710.8 814.1,709.6 814.9,709.3 815.7,709.7 816.5,711.3 817.3,712.6 818.1,713.2 818.8,713.9 819.6,715.2 820.4,716.3 821.1,716.5 821.9,716.7 822.6,716.8 823.3,717.1 824.1,716.9 824.8,716.7 825.5,716.4 826.3,717.7 827.0,717.2 827.7,717.8 828.5,717.8 829.2,718.5 829.9,718.0 830.7,718.3 831.4,718.9 832.1,717.5 832.8,716.4 833.6,715.8 834.3,716.8 835.0,716.8 835.8,716.8 836.5,717.4 837.2,718.6 838.0,718.3 838.7,718.4 839.4,719.6 840.2,719.6 840.9,719.5 841.6,719.6 842.4,718.1 843.1,718.3 843.8,718.4 844.5,718.1 845.3,717.9 846.0,716.4 846.7,716.7 847.5,716.5 848.2,716.3 848.9,716.4 849.7,717.6 850.4,717.1 851.1,717.6 851.9,716.9 852.6,717.7 853.3,717.1 854.1,716.9 854.8,717.7 855.5,717.4 856.2,718.7 857.0,718.3 857.7,719.6 858.4,720.3 859.2,721.0 859.9,721.0 860.6,721.9 861.4,722.2 862.1,723.3 862.8,723.0 863.6,723.1 864.3,723.7 865.0,723.8 865.8,723.3 866.5,723.1 867.2,723.6 867.9,724.1 868.7,724.0 869.4,724.1 870.1,724.8 870.9,725.2 871.6,726.6 872.3,726.8 873.1,727.2 873.8,726.5 874.5,726.3 875.3,726.6 876.0,726.6 876.7,726.5 877.5,726.2 878.2,725.3 878.9,725.2 879.6,725.7 880.4,725.1 881.1,724.6 881.8,724.4 882.6,725.1 883.3,723.9 884.0,724.0 884.8,723.7 885.6,723.1 886.4,722.9 887.2,723.2 888.0,723.1 888.7,721.9 889.5,721.8 890.3,721.9 891.0,723.2 891.7,723.0 892.4,723.3 893.2,725.1 893.9,725.1 894.6,726.0 895.4,727.7 896.1,728.3 896.9,728.2 897.7,728.9 898.5,728.3 899.2,727.9 900.0,727.7 900.8,728.4 901.6,728.3 902.3,728.3 903.1,728.4 903.8,727.0 904.5,727.5 905.2,726.9 906.0,726.9 906.7,726.1 907.4,726.1 908.2,726.2 908.9,725.5 909.6,725.3 910.4,723.4 911.1,723.2 911.8,722.9 912.6,721.8 913.3,721.6 914.1,719.6 914.9,718.7 915.7,719.0 916.5,718.2 917.3,716.7 918.0,715.8 918.8,715.7 919.6,717.4 920.3,717.1 921.1,718.3 921.9,718.4 922.7,719.2 923.4,718.7 924.2,720.1 925.0,719.8 925.7,720.7 926.5,720.3 927.2,720.7 927.9,720.4 928.6,719.2 929.4,719.1 930.1,719.1 930.8,719.0 931.6,718.6 932.3,718.5 933.1,717.0 933.9,716.1 934.8,715.8 935.6,714.5 936.4,715.0 937.1,713.7 937.9,714.3 938.7,714.5 939.4,713.4 940.2,714.5 941.0,713.4 941.7,714.0 942.5,713.8 943.3,713.6 944.0,714.3 944.7,714.4 945.5,715.2 946.2,715.2 947.0,715.6 947.8,715.5 948.5,716.0 949.3,715.9 950.1,716.0 950.8,715.6 951.6,716.6 952.4,716.5 953.1,716.7 953.9,718.0 954.6,720.5 955.3,721.8 956.1,721.7 956.9,720.9 957.7,720.1 958.5,720.1 959.3,719.2 960.0,718.8 960.8,718.9 961.6,719.3 962.3,719.3 963.0,720.3 963.8,720.8 964.5,720.6 965.2,721.8 965.9,721.7 966.7,720.7 967.4,721.3 968.1,721.1 968.9,720.5 969.6,720.2 970.4,719.6 971.2,720.2 972.0,720.1 972.7,720.9 973.5,719.7 974.3,720.7 975.1,720.2 975.9,720.2 976.7,719.1 977.6,718.5 978.4,717.4 979.2,717.7 979.9,719.6 980.7,719.7 981.5,721.1 982.3,721.9 983.1,721.6 983.9,722.9 984.6,723.1 985.3,723.2 986.0,721.8 986.7,722.1 987.5,722.5 988.2,721.6 988.9,722.4 989.6,721.8 990.4,721.6 991.1,722.5 991.8,721.8 992.6,722.4 993.3,723.2 994.1,722.3 994.8,722.6 995.5,723.1 996.3,723.0 997.0,722.8 997.8,723.1 998.5,723.3 999.2,723.9 1000.1,723.9 1000.9,723.0 1001.7,722.7 1002.5,721.0 1003.3,721.3 1004.1,720.3 1004.8,719.6 1005.5,720.0 1006.2,719.9 1006.9,719.3 1007.7,719.9 1008.4,719.2 1009.1,719.1 1009.8,719.3 1010.6,718.0 1011.3,718.4 1012.1,719.0 1012.9,718.4 1013.7,718.0 1014.5,718.5 1015.3,717.7 1016.1,717.9 1016.8,718.4 1017.5,717.6 1018.2,717.1 1018.9,717.5 1019.6,716.8 1020.4,716.3 1021.1,716.9 1021.8,715.7 1022.5,716.6 1023.2,715.6 1023.9,715.9 1024.6,716.2 1025.3,715.5 1026.0,715.4 1026.8,714.7 1027.5,714.1 1028.2,713.9 1028.9,713.9 1029.6,714.3 1030.3,713.9 1031.0,713.8 1031.7,713.6 1032.5,714.9 1033.3,714.7 1034.1,716.0 1034.9,715.1 1035.6,715.2 1036.3,713.9 1037.0,713.4 1037.7,713.6 1038.5,713.9 1039.2,714.2 1039.9,715.1 1040.6,715.5 1041.4,716.6 1042.1,717.2 1042.8,717.2 1043.5,718.4 1044.2,718.7 1045.0,719.3 1045.7,718.9 1046.4,720.1 1047.1,719.1 1047.9,719.0 1048.6,719.0 1049.3,719.8 1050.0,720.2 1050.7,720.1 1051.5,719.6 1052.2,719.8 1053.0,717.9 1053.8,715.9 1054.6,715.0 1055.3,715.1 1056.0,715.0 1056.8,714.6 1057.5,714.9 1058.2,714.6 1058.9,715.2 1059.6,714.8 1060.4,714.1 1061.1,714.9 1061.8,714.3 1062.5,713.2 1063.3,713.5 1064.0,712.9 1064.7,712.3 1065.4,711.6 1066.1,712.2 1066.9,710.7 1067.6,711.1 1068.3,711.2 1069.0,710.2 1069.7,709.9 1070.5,710.2 1071.2,710.9 1071.9,711.0 1072.6,711.2 1073.4,713.2 1074.2,715.2 1075.0,716.1 1075.8,718.4 1076.6,714.3 1077.4,710.6 1078.2,707.1 1079.0,705.8 1079.8,706.4 1080.6,705.6 1081.4,704.9 1082.3,703.9 1083.1,702.0 1083.8,701.9 1084.6,700.5 1085.4,698.8 1086.2,697.9 1087.0,696.2 1087.8,695.0 1088.6,697.4 1089.5,700.6 1090.2,700.0 1090.9,700.1 1091.6,699.8 1092.3,700.1 1093.0,700.6 1093.7,700.5 1094.4,700.6 1095.1,700.4 1095.8,699.7 1096.5,700.1 1097.2,699.8 1097.9,699.9 1098.7,699.2 1099.5,697.8 1100.3,696.7 1101.1,696.9 1101.8,697.9 1102.6,698.8 1103.3,698.3 1104.1,699.7 1104.8,698.9 1105.6,699.8 1106.3,700.6 1107.5,704.9 1108.3,703.5 1109.1,703.2 1109.9,702.4 1110.7,701.1 1111.5,699.5 1112.3,698.7 1113.1,700.2 1113.9,700.4 1114.7,701.3 1115.5,703.2 1116.3,703.8 1117.2,704.7 1118.0,704.3 1118.8,703.7 1119.6,703.5 1120.4,702.2 1121.2,702.1 1122.0,701.1 1122.8,701.5 1123.6,702.0 1124.4,701.6 1125.2,702.2 1126.0,702.2 1126.8,702.3 1127.6,701.4 1128.4,700.7 1129.2,700.6 1130.0,699.3 1130.8,699.8 1131.6,698.7 1132.3,698.6 1133.0,698.9 1133.8,699.4 1134.5,701.0 1135.2,700.6 1135.9,700.7 1136.6,701.0 1137.4,701.5 1138.1,702.8 1138.8,703.0 1139.5,703.3 1140.3,703.5 1141.0,703.7 1141.8,702.9 1142.5,703.8 1143.2,703.6 1144.0,704.3 1144.7,704.5 1145.5,704.7 1146.2,703.7 1147.0,704.9 1147.7,705.1 1148.4,704.7 1149.2,705.5 1149.9,704.6 1150.6,705.0 1151.3,705.1 1152.0,705.9 1152.8,704.8 1153.5,705.5 1154.3,705.0 1155.0,704.3 1155.8,704.1 1156.6,703.3 1157.3,702.4 1158.1,702.3 1158.8,700.9 1159.6,700.2 1160.3,700.4 1161.1,698.8 1161.8,698.2 1162.6,697.6 1163.3,696.3 1164.1,696.2 1164.8,696.6 1165.6,697.3 1166.3,698.5 1167.1,698.7 1167.8,699.3 1168.6,700.9 1169.3,700.9 1170.1,701.5 1170.8,701.8 1171.6,701.2 1172.3,700.2 1173.1,700.5 1173.8,700.2 1174.6,700.5 1175.4,699.6 1176.1,699.6 1176.9,700.3 1177.6,700.5 1178.4,700.5 1179.1,701.8 1179.9,701.1 1180.6,702.6 1181.4,702.1 1182.1,703.0 1182.9,702.8 1183.7,703.5 1184.5,704.8 1185.3,705.6 1186.1,704.7 1186.9,705.9 1187.7,705.1 1188.5,704.4 1189.3,704.1 1190.1,702.5 1190.9,702.3 1191.7,701.5 1192.5,701.5 1193.2,702.3 1193.9,701.6 1194.6,702.7 1195.4,702.3 1196.1,700.7 1196.8,699.3 1197.5,698.6 1198.2,697.1 1199.0,695.8 1199.7,694.8 1200.4,695.1 1201.1,693.9 1201.8,694.4 1202.6,693.9 1203.3,693.6 1204.0,692.9 1204.7,692.1 1205.5,691.7 1206.2,691.4 1207.0,691.5 1207.8,692.4 1208.6,691.5 1209.4,692.8 1210.2,691.8 1211.0,692.6 1211.8,690.8 1212.6,689.5 1213.4,689.0 1214.2,687.0 1215.0,685.5 1215.8,684.2 1216.6,684.4 1217.4,683.2 1218.2,683.2 1219.0,683.0 1219.8,683.0 1220.6,682.3 1221.4,682.3 1222.1,681.9 1222.8,681.1 1223.6,680.8 1224.3,680.2 1225.1,680.9 1225.8,680.3 1226.5,680.1 1227.3,679.0 1228.0,679.1 1228.8,679.2 1229.5,678.6 1230.2,678.2 1231.4,681.3 1232.2,679.0 1233.0,677.6 1233.8,676.3 1234.7,673.6 1235.5,671.7 1236.3,670.3 1237.1,671.2 1237.9,673.0 1238.7,674.4 1239.5,674.6 1240.3,675.8 1241.1,677.5 1241.8,678.5 1242.5,679.9 1243.2,681.6 1244.0,682.4 1244.7,684.2 1245.4,684.1 1246.2,684.1 1246.9,685.3 1247.7,685.1 1248.4,684.4 1249.2,685.8 1249.9,684.7 1250.7,685.4 1251.4,684.5 1252.1,684.5 1252.9,683.4 1253.6,682.6 1254.3,681.4 1255.0,680.2 1255.7,680.1 1256.5,678.5 1257.2,677.9 1257.9,677.5 1258.7,679.0 1259.5,680.3 1260.3,682.5 1261.1,684.8 1261.9,686.4 1262.7,687.8 1263.4,687.3 1264.2,687.0 1264.9,686.3 1265.6,685.4 1266.3,685.4 1267.1,684.0 1267.9,682.1 1268.7,680.9 1269.5,679.6 1270.3,677.3 1271.1,675.8 1271.9,676.0 1272.7,676.4 1273.6,676.0 1274.4,675.9 1275.2,676.7 1276.0,676.5 1276.7,677.2 1277.4,677.3 1278.1,677.4 1278.8,677.8 1279.6,677.5 1280.4,674.2 1281.2,670.6 1282.0,666.9 1282.7,666.4 1283.4,665.9 1284.1,665.9 1284.9,664.8 1285.6,665.0 1286.4,663.0 1287.2,661.8 1288.0,659.9 1288.8,657.9 1289.6,655.6 1290.4,654.1 1291.2,651.7 1292.0,649.5 1292.8,647.5 1293.6,644.9 1294.4,643.0 1295.2,640.4 1295.9,644.7 1296.7,647.4 1297.4,651.8 1298.1,655.6 1298.8,659.0 1299.6,656.8 1300.4,654.9 1301.2,653.6 1302.0,650.3 1302.8,649.0 1303.6,646.9 1304.8,656.5 1305.6,651.7 1306.3,648.3 1307.0,644.2 1307.7,639.2 1308.4,634.9 1309.6,619.7 1310.4,619.7 1311.2,620.8 1312.1,621.2 1312.9,619.6 1313.7,618.3 1314.5,616.4" fill="none" stroke="#4a7ebb" stroke-width="2" stroke-linejoin="round"/><text x="64.5" y="918.6" font-size="10.5" text-anchor="end">4,391</text><text x="64.5" y="929.9" font-size="10.5" text-anchor="end">3,891</text><text x="64.5" y="941.3" font-size="10.5" text-anchor="end">3,391</text><text x="64.5" y="952.6" font-size="10.5" text-anchor="end">2,891</text><text x="64.5" y="963.9" font-size="10.5" text-anchor="end">2,391</text><text x="64.5" y="975.2" font-size="10.5" text-anchor="end">1,891</text><text x="64.5" y="986.5" font-size="10.5" text-anchor="end">1,391</text><text x="64.5" y="997.8" font-size="10.5" text-anchor="end">891</text><rect x="78" y="994" width="650" height="1" fill="#d9d9d9"/><text transform="translate(84.4,1071.0) rotate(-90)" font-size="12" textLength="67" lengthAdjust="spacingAndGlyphs">2022-01-04</text><text transform="translate(111.0,1071.0) rotate(-90)" font-size="12" textLength="67" lengthAdjust="spacingAndGlyphs">2022-03-04</text><text transform="translate(137.7,1071.0) rotate(-90)" font-size="12" textLength="67" lengthAdjust="spacingAndGlyphs">2022-05-04</text><text transform="translate(164.4,1071.0) rotate(-90)" font-size="12" textLength="67" lengthAdjust="spacingAndGlyphs">2022-07-04</text><text transform="translate(191.0,1071.0) rotate(-90)" font-size="12" textLength="67" lengthAdjust="spacingAndGlyphs">2022-09-04</text><text transform="translate(217.7,1071.0) rotate(-90)" font-size="12" textLength="67" lengthAdjust="spacingAndGlyphs">2022-11-04</text><text transform="translate(244.4,1071.0) rotate(-90)" font-size="12" textLength="67" lengthAdjust="spacingAndGlyphs">2023-01-04</text><text transform="translate(271.0,1071.0) rotate(-90)" font-size="12" textLength="67" lengthAdjust="spacingAndGlyphs">2023-03-04</text><text transform="translate(297.7,1071.0) rotate(-90)" font-size="12" textLength="67" lengthAdjust="spacingAndGlyphs">2023-05-04</text><text transform="translate(324.4,1071.0) rotate(-90)" font-size="12" textLength="67" lengthAdjust="spacingAndGlyphs">2023-07-04</text><text transform="translate(351.0,1071.0) rotate(-90)" font-size="12" textLength="67" lengthAdjust="spacingAndGlyphs">2023-09-04</text><text transform="translate(377.7,1071.0) rotate(-90)" font-size="12" textLength="67" lengthAdjust="spacingAndGlyphs">2023-11-04</text><text transform="translate(404.4,1071.0) rotate(-90)" font-size="12" textLength="67" lengthAdjust="spacingAndGlyphs">2024-01-04</text><text transform="translate(431.0,1071.0) rotate(-90)" font-size="12" textLength="67" lengthAdjust="spacingAndGlyphs">2024-03-04</text><text transform="translate(457.7,1071.0) rotate(-90)" font-size="12" textLength="67" lengthAdjust="spacingAndGlyphs">2024-05-04</text><text transform="translate(484.4,1071.0) rotate(-90)" font-size="12" textLength="67" lengthAdjust="spacingAndGlyphs">2024-07-04</text><text transform="translate(511.0,1071.0) rotate(-90)" font-size="12" textLength="67" lengthAdjust="spacingAndGlyphs">2024-09-04</text><text transform="translate(537.7,1071.0) rotate(-90)" font-size="12" textLength="67" lengthAdjust="spacingAndGlyphs">2024-11-04</text><text transform="translate(564.4,1071.0) rotate(-90)" font-size="12" textLength="67" lengthAdjust="spacingAndGlyphs">2025-01-04</text><text transform="translate(591.0,1071.0) rotate(-90)" font-size="12" textLength="67" lengthAdjust="spacingAndGlyphs">2025-03-04</text><text transform="translate(617.7,1071.0) rotate(-90)" font-size="12" textLength="67" lengthAdjust="spacingAndGlyphs">2025-05-04</text><text transform="translate(644.4,1071.0) rotate(-90)" font-size="12" textLength="67" lengthAdjust="spacingAndGlyphs">2025-07-04</text><text transform="translate(671.0,1071.0) rotate(-90)" font-size="12" textLength="67" lengthAdjust="spacingAndGlyphs">2025-09-04</text><text transform="translate(697.7,1071.0) rotate(-90)" font-size="12" textLength="67" lengthAdjust="spacingAndGlyphs">2025-11-04</text><text transform="translate(724.4,1071.0) rotate(-90)" font-size="12" textLength="67" lengthAdjust="spacingAndGlyphs">2026-01-04</text><polyline points="78.4,988.0 79.1,988.2 79.9,988.5 80.6,988.8 81.3,988.6 82.0,988.7 82.8,988.4 83.6,988.8 84.4,987.7 85.2,988.0 86.0,987.4 86.8,987.3 87.6,988.0 88.3,987.6 89.0,989.0 89.7,988.7 90.5,989.2 91.2,988.5 92.0,988.5 92.7,988.5 93.5,987.8 94.2,988.1 95.0,987.9 95.7,988.0 96.5,987.5 97.2,987.2 97.9,986.9 98.7,986.6 99.4,987.1 100.2,987.1 100.9,986.5 101.7,985.9 102.4,986.4 103.1,985.7 103.9,985.3 104.6,985.1 105.4,985.6 106.1,985.1 106.9,985.7 107.7,985.7 108.5,985.7 109.3,986.0 110.1,985.8 110.9,986.3 111.6,986.8 112.3,986.0 113.1,986.3 113.8,986.4 114.5,986.3 115.2,985.9 116.0,985.6 116.7,985.8 117.4,985.2 118.1,985.6 118.9,985.9 119.6,985.3 120.4,985.8 121.1,985.0 121.9,985.0 122.6,984.8 123.4,984.9 124.1,984.9 124.8,984.7 125.5,984.6 126.2,985.6 126.9,985.3 127.6,985.4 128.3,985.6 129.1,986.0 129.8,986.1 130.5,986.5 131.2,986.7 131.9,986.5 132.6,986.8 133.3,987.3 134.0,987.2 134.7,986.3 135.4,987.2 136.1,987.3 136.8,987.2 137.6,986.4 138.3,987.2 139.0,987.0 139.7,986.2 140.4,986.2 141.1,987.4 141.8,987.0 142.5,986.5 143.3,986.3 144.0,986.4 144.7,986.5 145.4,987.1 146.1,986.6 146.8,986.4 147.5,987.3 148.2,987.2 149.0,986.4 149.7,987.3 150.4,986.9 151.1,987.1 151.8,986.8 152.5,987.2 153.3,987.7 154.0,987.7 154.7,988.0 155.4,987.4 156.1,988.2 156.9,988.2 157.6,988.6 158.3,988.5 159.0,989.2 159.7,989.0 160.5,988.8 161.2,989.0 161.9,989.1 162.6,989.7 163.3,989.5 164.0,988.8 164.7,989.2 165.4,988.6 166.1,988.9 166.8,988.7 167.5,988.6 168.3,988.8 169.0,987.7 169.7,988.5 170.4,987.9 171.1,987.8 171.8,987.9 172.5,988.1 173.2,988.3 173.9,987.8 174.6,987.9 175.3,988.6 176.0,987.6 176.7,988.3 177.4,988.3 178.1,987.6 178.8,988.4 179.6,988.5 180.3,988.8 181.0,988.2 181.7,989.0 182.4,988.5 183.1,988.5 183.8,988.4 184.5,988.9 185.2,987.8 185.9,988.5 186.6,988.4 187.3,988.0 188.0,988.5 188.8,987.9 189.5,988.0 190.2,988.0 190.9,988.2 191.6,987.5 192.3,987.7 193.0,987.6 193.7,987.7 194.4,988.0 195.1,987.5 195.9,987.2 196.6,987.7 197.4,987.1 198.1,987.2 198.9,986.8 199.6,987.0 200.4,987.5 201.1,986.8 201.9,987.1 202.6,987.5 203.4,987.1 204.1,987.2 204.9,987.3 205.6,987.8 206.4,988.0 207.2,988.0 208.0,988.3 208.8,987.4 209.6,988.2 210.4,988.3 211.2,987.9 212.0,987.8 212.8,986.9 213.6,986.9 214.4,986.2 215.2,986.1 216.0,986.7 216.8,985.8 217.5,985.9 218.2,986.0 218.9,986.1 219.6,986.2 220.3,985.8 221.0,985.7 221.7,985.7 222.4,985.8 223.1,985.6 223.8,985.7 224.5,985.1 225.2,985.6 225.9,985.3 226.6,985.6 227.3,984.8 228.0,984.8 228.7,984.6 229.4,985.5 230.1,985.6 230.8,985.2 231.5,984.8 232.2,985.4 232.9,985.3 233.6,984.9 234.3,985.0 235.0,984.6 235.8,984.7 236.5,984.8 237.2,984.7 237.9,984.9 238.6,985.1 239.3,985.5 240.0,984.4 240.7,985.1 241.5,984.4 242.2,984.5 242.9,985.4 243.6,985.1 244.3,985.5 245.0,985.0 245.7,984.5 246.5,984.9 247.2,985.2 247.9,985.6 248.6,985.6 249.3,985.1 250.0,985.0 250.7,984.6 251.4,985.3 252.2,984.8 252.9,985.1 253.7,984.9 254.5,984.9 255.3,985.1 256.1,986.1 256.9,985.7 257.7,986.3 258.4,986.9 259.2,985.8 259.9,986.7 260.6,985.7 261.4,985.6 262.1,986.4 262.9,985.8 263.6,986.3 264.3,985.6 265.1,985.4 265.8,986.2 266.6,986.1 267.3,985.8 268.1,986.0 268.8,985.6 269.6,984.6 270.3,985.0 271.1,984.9 271.8,984.4 272.6,984.7 273.3,983.9 274.1,983.6 274.8,984.4 275.6,984.0 276.3,983.1 277.1,983.0 277.8,983.7 278.6,983.9 279.3,983.4 280.1,982.6 280.8,982.6 281.5,982.8 282.2,981.9 282.9,982.0 283.7,982.5 284.4,982.0 285.1,981.6 285.8,982.0 286.6,982.2 287.3,982.1 288.0,982.4 288.7,981.8 289.4,982.6 290.2,982.2 290.9,982.5 291.6,982.5 292.3,982.3 293.1,982.3 293.8,982.5 294.5,982.8 295.2,983.0 295.9,982.7 296.7,982.5 297.4,982.1 298.1,981.8 298.8,982.9 299.5,982.5 300.3,982.7 301.0,982.0 301.7,982.3 302.4,982.8 303.2,982.6 303.9,982.3 304.6,981.9 305.3,982.0 306.0,982.5 306.8,981.9 307.5,982.2 308.2,982.0 309.0,982.2 309.8,982.7 310.6,982.7 311.4,982.2 312.2,982.0 313.0,982.7 313.8,982.4 314.5,982.6 315.2,982.8 316.0,983.0 316.7,983.1 317.5,982.1 318.2,983.0 318.9,982.9 319.7,983.0 320.4,982.6 321.2,982.2 321.9,982.9 322.6,982.5 323.4,982.4 324.3,981.7 325.1,981.0 325.8,981.6 326.5,981.0 327.3,980.8 328.0,981.4 328.8,981.8 329.5,981.1 330.2,981.9 331.0,982.1 331.7,981.4 332.5,981.9 333.2,982.1 333.9,981.9 334.7,982.0 335.4,981.6 336.1,981.6 336.8,982.1 337.5,982.1 338.2,981.7 338.9,981.2 339.6,982.0 340.3,981.9 341.0,981.2 341.8,981.5 342.5,981.9 343.2,981.8 343.9,981.3 344.6,981.2 345.3,981.3 346.0,980.7 346.7,981.0 347.4,980.7 348.1,980.8 348.8,981.4 349.5,981.1 350.2,981.4 351.0,981.3 351.7,981.5 352.4,981.1 353.1,981.0 353.8,982.2 354.5,981.5 355.2,981.2 355.9,981.9 356.6,982.2 357.3,981.5 358.0,982.1 358.7,982.0 359.4,981.7 360.2,981.8 360.9,981.1 361.6,981.0 362.3,982.1 363.0,981.8 363.7,981.3 364.4,981.3 365.1,980.8 365.8,981.3 366.5,980.8 367.2,981.3 367.9,981.0 368.6,981.0 369.4,981.1 370.1,980.1 370.8,980.3 371.5,979.8 372.2,980.0 372.9,979.9 373.7,979.8 374.4,979.8 375.1,980.4 375.8,980.8 376.5,980.3 377.3,980.8 378.0,980.8 378.7,979.8 379.4,980.4 380.2,980.2 380.9,979.9 381.6,980.9 382.3,980.0 383.0,980.4 383.8,980.5 384.5,980.9 385.2,980.3 386.0,980.6 386.8,980.4 387.6,980.6 388.4,980.4 389.2,981.5 390.0,981.0 390.8,981.4 391.6,980.3 392.4,979.9 393.2,979.9 394.0,979.9 394.8,979.8 395.6,980.3 396.3,980.4 397.1,980.3 397.8,979.4 398.5,980.3 399.3,980.2 400.0,980.1 400.8,980.6 401.5,979.5 402.2,979.6 403.0,980.3 403.7,980.6 404.5,980.1 405.4,980.6 406.3,980.5 407.2,981.0 407.9,981.0 408.7,981.2 409.4,980.3 410.1,980.4 410.8,980.3 411.5,980.0 412.3,980.3 413.0,979.9 413.7,979.9 414.4,980.1 415.1,979.7 415.8,980.4 416.5,979.6 417.2,980.5 417.9,979.9 418.6,979.8 419.3,980.9 420.1,980.1 420.8,981.0 421.5,980.9 422.2,981.0 422.9,980.6 423.6,979.7 424.3,979.7 425.0,978.9 425.7,979.5 426.5,978.6 427.2,978.9 427.9,978.6 428.6,978.3 429.4,978.1 430.1,978.5 430.8,978.0 431.5,978.1 432.2,977.4 433.0,977.4 433.7,977.7 434.5,976.8 435.3,977.3 436.1,976.8 436.9,976.0 437.7,976.5 438.5,975.7 439.3,975.1 440.1,974.8 440.9,974.1 441.7,973.9 442.5,974.1 443.3,973.3 444.1,973.4 444.9,973.4 445.7,974.0 446.5,974.1 447.3,975.0 448.1,974.8 448.8,974.3 449.6,975.4 450.3,974.2 451.0,975.3 451.7,975.0 452.5,974.4 453.2,974.8 453.9,974.5 454.6,974.5 455.3,974.8 456.1,973.7 456.8,973.3 457.5,973.3 458.2,972.7 459.0,971.4 459.7,972.0 460.5,971.2 461.2,971.5 462.0,972.4 462.7,971.5 463.5,972.4 464.2,972.0 465.0,972.4 465.8,973.2 466.6,972.4 467.4,973.6 468.2,973.3 469.0,973.3 469.8,974.1 470.5,973.4 471.2,974.4 471.9,974.0 472.7,973.6 473.4,973.9 474.1,974.4 474.8,973.6 475.6,973.9 476.3,973.4 477.0,973.8 477.8,973.1 478.6,973.5 479.4,973.1 480.2,972.2 481.0,971.7 481.8,971.9 482.5,971.5 483.3,972.2 484.0,972.2 484.7,972.0 485.4,972.4 486.1,972.4 486.9,973.2 487.6,973.6 488.3,974.1 489.0,974.1 489.8,974.2 490.6,973.8 491.4,973.7 492.2,974.5 493.0,974.1 493.8,974.3 494.6,974.4 495.3,973.4 496.0,974.1 496.7,973.3 497.4,973.7 498.2,973.6 498.9,972.9 499.6,972.2 500.3,973.1 501.1,972.4 501.8,972.5 502.5,973.1 503.2,972.5 503.9,972.6 504.7,973.5 505.4,973.1 506.1,973.0 506.8,973.4 507.6,973.8 508.3,973.8 509.0,972.9 509.7,973.3 510.4,972.9 511.2,972.7 511.9,971.9 512.6,972.3 513.3,972.2 514.1,971.9 514.8,971.0 515.5,970.9 516.2,971.2 516.9,970.9 517.7,971.4 518.4,970.6 519.1,971.6 519.8,971.8 520.5,971.3 521.3,971.3 522.0,971.4 522.7,971.4 523.5,971.1 524.2,970.1 525.0,970.9 525.7,969.6 526.5,969.2 527.2,968.8 528.0,968.6 528.7,968.5 529.5,969.0 530.2,968.2 531.0,968.4 531.7,969.2 532.5,968.8 533.2,968.7 534.0,969.5 534.7,969.5 535.5,970.0 536.2,970.3 536.9,970.9 537.6,970.5 538.4,971.4 539.1,971.6 539.9,971.2 540.6,970.1 541.4,970.0 542.1,970.2 542.9,970.0 543.6,969.5 544.4,969.5 545.1,969.0 545.8,969.4 546.5,969.0 547.3,969.6 548.0,969.9 548.7,969.1 549.4,969.6 550.1,969.8 550.9,969.1 551.6,969.9 552.3,970.0 553.0,969.4 553.8,969.4 554.5,969.9 555.2,969.5 555.9,969.4 556.6,970.0 557.4,969.8 558.1,969.3 558.8,969.5 559.5,969.1 560.3,969.1 561.0,969.1 561.8,969.6 562.5,969.3 563.2,969.3 564.0,969.1 564.7,969.0 565.5,967.9 566.2,968.4 567.0,968.8 567.7,968.7 568.4,968.0 569.2,967.5 569.9,967.5 570.6,967.5 571.3,966.9 572.0,966.9 572.8,966.1 573.5,966.3 574.2,966.1 574.9,965.3 575.6,965.6 576.4,965.3 577.1,966.3 577.9,966.2 578.6,966.5 579.4,966.2 580.1,966.5 580.8,966.6 581.6,966.7 582.3,965.7 583.1,966.5 583.8,966.2 584.5,966.7 585.3,966.6 586.0,966.1 586.7,966.1 587.4,966.3 588.2,965.7 588.9,965.0 589.6,965.0 590.3,964.7 591.0,965.0 591.8,964.0 592.5,964.0 593.2,963.6 593.9,963.9 594.7,963.1 595.4,963.6 596.1,963.9 596.8,963.2 597.5,962.8 598.3,962.9 599.0,962.9 599.7,962.7 600.4,961.7 601.2,961.1 601.9,960.5 602.6,960.1 603.3,959.6 604.0,958.9 604.8,958.2 605.5,957.4 606.2,957.4 606.9,956.7 607.7,957.5 608.5,957.7 609.3,958.0 610.1,958.5 610.9,958.4 611.7,959.1 612.5,959.7 613.2,959.7 614.0,960.1 614.7,960.5 615.5,960.6 616.3,960.7 617.0,960.9 617.8,961.5 618.5,961.0 619.3,961.1 620.0,960.8 620.8,960.8 621.5,959.9 622.3,960.1 623.0,960.5 623.8,959.9 624.5,959.5 625.2,959.7 625.9,959.6 626.7,959.2 627.4,960.0 628.1,959.0 628.8,959.5 629.5,958.7 630.3,958.5 631.0,958.9 631.7,959.4 632.5,959.0 633.2,958.6 634.0,959.1 634.7,959.2 635.4,959.6 636.2,958.9 636.9,959.2 637.7,960.1 638.4,959.9 639.1,959.3 639.9,959.6 640.6,959.9 641.3,959.6 642.1,959.9 642.8,959.8 643.5,960.0 644.2,959.9 644.9,959.4 645.7,959.6 646.4,959.6 647.1,959.5 647.8,959.1 648.6,959.4 649.3,959.2 650.0,959.4 650.7,958.4 651.4,959.2 652.2,958.1 652.9,959.0 653.6,958.7 654.3,958.5 655.1,958.4 655.8,959.0 656.5,958.5 657.2,958.3 657.9,958.8 658.7,958.9 659.4,958.5 660.1,958.3 660.8,958.4 661.5,958.4 662.3,958.4 663.0,958.3 663.7,957.4 664.4,957.1 665.2,956.9 665.9,956.4 666.6,955.9 667.3,956.1 668.0,955.8 668.8,955.0 669.5,954.6 670.2,954.4 670.9,953.9 671.7,953.9 672.4,953.6 673.1,953.9 673.8,953.8 674.5,953.1 675.3,953.9 676.0,953.1 676.7,953.1 677.4,953.1 678.2,952.6 678.9,952.2 679.6,950.8 680.3,950.6 681.0,950.7 681.8,949.2 682.5,948.7 683.2,948.9 683.9,948.3 684.7,946.7 685.5,945.6 686.3,943.5 687.1,944.8 687.9,945.5 688.7,947.1 689.5,947.5 690.3,948.5 691.1,949.5 691.9,949.1 692.6,948.2 693.4,947.5 694.2,947.2 694.9,946.3 695.7,946.4 696.4,945.5 697.2,944.7 697.9,945.5 698.6,945.7 699.3,946.7 700.0,947.5 700.8,948.3 701.5,947.9 702.2,947.4 702.9,947.3 703.7,946.9 704.4,945.9 705.1,945.4 705.8,945.1 706.5,945.1 707.3,943.8 708.0,943.5 708.7,943.2 709.5,943.2 710.2,942.0 711.0,941.8 711.7,942.3 712.5,941.7 713.3,941.0 714.0,940.6 714.8,937.7 715.6,936.3 716.4,933.4 717.2,935.4 718.0,937.3 718.8,938.7 719.5,937.8 720.3,936.3 721.0,934.3 721.7,932.5 722.4,931.5 723.2,928.6 724.0,926.3 724.8,923.8 725.6,923.4 726.3,922.7 727.0,922.3 727.7,922.3" fill="none" stroke="#4a7ebb" stroke-width="2" stroke-linejoin="round"/><text x="810.0" y="920.8" font-size="10.5" text-anchor="end">1,003</text><text x="810.0" y="941.9" font-size="10.5" text-anchor="end">903</text><text x="810.0" y="962.9" font-size="10.5" text-anchor="end">803</text><text x="810.0" y="984.0" font-size="10.5" text-anchor="end">703</text><text x="810.0" y="1005.0" font-size="10.5" text-anchor="end">603</text><text x="810.0" y="1026.1" font-size="10.5" text-anchor="end">503</text><text x="810.0" y="1047.1" font-size="10.5" text-anchor="end">403</text><rect x="825" y="1044" width="530" height="1" fill="#d9d9d9"/><clipPath id="cb"><rect x="0" y="0" width="1368" height="2372"/></clipPath><g clip-path="url(#cb)"><text x="791.4" y="1067.4" font-size="12" textLength="68" lengthAdjust="spacingAndGlyphs">2022-01-04</text><text x="922.2" y="1067.4" font-size="12" textLength="68" lengthAdjust="spacingAndGlyphs">2023-01-04</text><text x="1052.0" y="1067.4" font-size="12" textLength="68" lengthAdjust="spacingAndGlyphs">2024-01-04</text><text x="1182.8" y="1067.4" font-size="12" textLength="68" lengthAdjust="spacingAndGlyphs">2025-01-04</text><text x="1313.6" y="1067.4" font-size="12" textLength="68" lengthAdjust="spacingAndGlyphs">2026-01-04</text></g><polyline points="824.2,973.1 825.0,971.0 825.7,968.3 826.5,967.9 827.3,966.6 828.0,966.4 829.0,971.0 829.9,973.1 830.7,970.5 831.5,967.3 832.4,967.1 833.4,969.2 834.3,963.1 835.0,962.5 835.8,963.1 836.5,961.5 837.2,961.6 838.2,958.7 839.1,963.3 840.1,966.9 841.0,960.1 842.0,955.9 842.9,960.9 843.9,966.9 844.6,960.3 845.3,952.1 846.0,944.7 846.8,936.8 847.5,941.2 848.2,947.3 848.9,952.7 849.6,957.8 850.6,944.4 851.3,945.0 852.0,947.2 852.7,948.1 853.4,949.2 854.2,946.4 854.9,941.2 855.6,936.8 856.3,932.9 857.3,932.1 858.2,933.3 859.2,937.2 860.1,942.9 860.9,938.1 861.7,932.0 862.4,933.8 863.2,936.7 864.0,940.6 864.9,946.2 865.9,953.6 866.8,952.4 867.8,951.1 868.5,956.7 869.3,960.9 870.1,965.4 871.0,963.8 872.0,960.6 872.7,962.4 873.5,966.4 874.2,963.9 874.9,964.7 875.7,962.3 876.4,961.6 877.3,956.4 878.3,950.1 879.1,949.1 879.9,948.0 880.8,948.2 881.7,950.3 882.7,953.6 883.5,959.6 884.3,968.7 885.1,974.9 885.9,981.7 886.9,975.8 887.8,970.8 888.8,975.1 889.7,979.7 890.7,980.9 891.7,982.6 892.5,987.2 893.3,995.1 894.1,999.8 894.9,997.8 895.7,996.6 896.4,993.1 897.2,989.1 898.0,985.8 898.7,981.7 899.6,982.3 900.4,983.0 901.2,985.5 901.9,985.4 902.6,984.0 903.4,981.4 904.1,980.7 905.0,987.5 906.0,992.2 906.8,990.8 907.5,987.2 908.3,985.5 909.1,988.3 909.8,991.7 910.6,993.1 911.3,995.6 912.0,995.7 912.7,992.8 913.4,992.2 914.1,992.0 914.8,989.6 915.5,989.3 916.3,989.0 917.0,990.8 917.7,990.0 918.4,990.3 919.4,988.6 920.3,985.5 921.1,984.2 921.9,983.5 922.6,983.4 923.4,982.4 924.1,982.6 924.9,986.5 925.6,987.3 926.3,990.7 927.0,993.1 927.9,993.1 928.7,995.1 929.6,995.7 930.5,996.9 931.4,1000.0 932.4,1003.6 933.1,1000.0 933.9,997.6 934.7,996.0 935.4,994.9 936.2,991.8 937.0,989.6 937.7,987.5 938.5,986.4 939.4,987.8 940.4,990.3 941.1,988.4 941.8,986.8 942.5,987.2 943.3,985.3 944.0,983.6 944.7,983.9 945.4,981.2 946.1,981.1 946.9,978.3 947.7,977.6 948.4,974.6 949.2,975.3 950.1,977.9 950.9,979.7 951.6,979.9 952.3,979.1 953.0,976.7 953.8,976.9 954.6,976.3 955.4,977.1 956.2,976.1 957.0,977.4 957.7,975.3 958.5,975.9 959.3,976.1 960.0,974.0 960.7,972.4 961.4,972.1 962.2,972.0 962.9,971.1 963.7,972.6 964.5,971.5 965.2,972.1 966.2,976.0 967.1,977.8 967.9,977.6 968.6,976.5 969.3,975.7 970.0,975.9 970.7,974.1 971.4,970.9 972.2,970.4 972.9,967.3 973.6,966.2 974.3,967.1 975.0,967.1 975.7,966.3 976.5,967.4 977.2,966.3 977.9,966.9 978.6,966.4 979.4,967.5 980.1,967.8 980.9,969.0 981.7,969.1 982.4,971.2 983.4,974.6 984.3,979.7 985.1,979.7 985.8,977.4 986.5,977.3 987.2,975.9 988.2,978.3 989.1,982.6 989.9,983.4 990.7,983.4 991.5,984.3 992.3,984.4 993.1,984.4 993.9,986.1 994.9,990.5 995.8,996.0 996.6,995.8 997.4,996.0 998.2,998.0 999.0,997.3 999.8,998.1 1000.6,998.9 1001.4,997.7 1002.2,995.1 1003.1,992.2 1003.9,996.0 1004.7,998.8 1005.5,999.8 1006.3,1003.6 1007.0,1001.4 1007.8,999.1 1008.5,999.1 1009.2,996.9 1010.0,996.1 1010.8,994.0 1011.6,992.9 1012.4,992.3 1013.2,991.1 1014.0,989.3 1014.8,989.2 1015.6,991.3 1016.4,990.5 1017.1,991.8 1017.9,991.2 1018.7,992.6 1019.5,991.9 1020.3,994.2 1021.0,994.1 1021.8,994.3 1022.6,994.1 1023.3,990.8 1024.1,988.7 1024.9,986.9 1025.6,984.9 1026.4,983.6 1027.1,983.5 1027.8,984.2 1028.5,983.8 1029.2,985.5 1030.0,986.8 1030.7,989.4 1031.4,990.0 1032.1,992.6 1032.8,993.8 1033.5,993.5 1034.3,994.3 1035.0,994.1 1035.7,991.8 1036.4,990.6 1037.1,989.5 1037.8,987.4 1038.6,985.7 1039.4,983.5 1040.2,984.4 1041.0,983.0 1041.8,980.5 1042.6,979.7 1043.3,977.5 1044.1,978.5 1044.8,976.8 1045.5,974.3 1046.2,973.7 1046.9,972.3 1047.6,973.0 1048.4,971.2 1049.1,971.7 1049.9,974.9 1050.7,975.8 1051.4,975.4 1052.2,977.8 1052.9,978.8 1053.6,978.5 1054.3,979.9 1055.0,980.6 1055.8,979.7 1056.5,979.6 1057.2,982.3 1057.9,981.7 1058.7,982.4 1059.6,984.7 1060.4,984.5 1061.7,975.9 1062.5,974.7 1063.3,973.0 1064.1,971.5 1064.9,969.3 1065.7,967.0 1066.5,965.4 1067.2,963.5 1067.9,964.5 1068.7,963.1 1069.4,962.6 1070.1,962.9 1070.8,960.1 1071.5,961.1 1072.2,959.7 1073.0,960.6 1073.8,964.4 1074.5,966.8 1075.3,967.5 1076.1,970.2 1076.8,968.9 1077.5,968.5 1078.2,966.3 1078.9,964.5 1079.9,967.9 1080.8,971.2 1081.8,967.6 1082.8,965.4 1083.5,963.4 1084.3,963.4 1085.0,962.7 1085.8,961.3 1086.6,961.2 1087.4,963.8 1088.3,966.4 1089.2,971.0 1090.0,973.5 1090.8,972.7 1091.6,970.4 1092.4,969.1 1093.1,968.6 1093.9,967.2 1094.7,966.1 1095.5,970.0 1096.3,971.3 1097.1,974.5 1097.9,974.3 1098.6,976.0 1099.4,974.4 1100.1,975.7 1100.9,975.4 1101.6,976.9 1102.4,976.4 1103.2,976.6 1103.9,976.8 1104.7,974.9 1105.4,975.8 1106.2,974.9 1106.9,976.4 1107.7,977.2 1108.4,979.1 1109.2,979.6 1110.0,983.5 1110.7,984.6 1111.5,988.1 1112.2,991.7 1113.1,988.6 1114.0,985.5 1114.9,983.6 1115.7,985.2 1116.6,988.6 1117.4,991.2 1118.3,994.7 1119.2,994.2 1120.0,992.6 1120.9,991.7 1121.7,985.6 1122.5,981.1 1123.3,976.6 1124.1,976.0 1124.9,975.2 1125.7,974.2 1126.5,973.5 1127.4,974.1 1128.1,973.0 1128.9,975.6 1129.6,975.1 1130.4,974.5 1131.1,975.2 1131.9,978.6 1132.7,981.1 1133.4,981.6 1134.2,979.5 1134.9,976.0 1135.7,974.8 1136.4,972.5 1137.2,973.1 1137.9,973.2 1138.7,974.9 1139.5,975.6 1140.2,976.6 1141.0,981.4 1141.7,983.0 1142.5,985.0 1143.2,985.4 1143.9,986.3 1144.6,985.7 1145.4,984.7 1146.1,984.8 1146.8,984.6 1147.5,985.6 1148.3,983.7 1149.0,985.0 1149.7,984.5 1150.4,982.4 1151.2,982.2 1152.0,983.3 1152.9,986.3 1153.7,988.7 1154.6,989.7 1155.3,991.5 1156.1,990.3 1156.9,992.7 1157.6,992.7 1158.4,994.8 1159.2,995.7 1160.0,995.9 1160.8,996.7 1161.6,998.7 1162.5,1001.4 1163.3,1001.9 1164.1,1003.8 1164.9,1006.1 1165.7,1007.8 1166.4,1006.6 1167.1,1007.0 1167.8,1004.6 1168.6,1003.2 1169.3,1003.7 1170.0,1003.0 1170.7,1001.8 1171.6,1005.4 1172.4,1007.9 1173.3,1011.1 1174.1,1012.9 1174.9,1013.2 1175.6,1011.2 1176.3,1010.4 1177.1,1008.7 1177.8,1008.8 1178.5,1009.1 1179.3,1010.6 1180.0,1010.0 1180.8,1011.9 1181.6,1004.1 1182.4,994.4 1183.2,987.0 1184.0,989.1 1184.8,992.7 1185.5,992.6 1186.3,994.7 1187.1,998.0 1187.9,1000.4 1188.9,995.9 1189.9,993.1 1190.6,994.1 1191.4,992.6 1192.2,995.2 1192.9,994.7 1193.7,996.6 1194.4,997.5 1195.2,997.5 1195.9,998.7 1196.7,998.9 1197.5,1000.6 1198.4,1001.0 1199.2,1001.4 1200.0,1002.4 1200.8,1001.2 1201.6,1000.8 1202.4,1000.6 1203.2,1000.3 1204.0,998.7 1204.8,1000.4 1205.6,999.1 1206.4,1000.0 1207.2,1001.0 1208.0,1001.8 1208.8,1002.7 1209.5,1002.8 1210.2,1003.1 1210.9,1003.6 1211.6,1004.9 1212.4,1006.0 1213.1,1006.8 1213.8,1008.4 1214.5,1008.6 1215.2,1008.8 1216.0,1009.4 1216.7,1009.7 1217.4,1009.2 1218.1,1009.2 1218.9,1008.7 1219.7,1005.3 1220.5,1005.6 1221.3,1004.0 1222.2,1002.4 1222.9,1001.9 1223.7,1002.7 1224.4,1003.7 1225.2,1002.5 1225.9,1003.0 1226.7,1002.2 1227.4,1002.3 1228.2,1002.8 1229.0,1003.6 1229.7,1001.1 1230.5,1001.4 1231.2,1002.4 1232.0,1001.6 1232.7,1000.5 1233.5,1001.8 1234.3,1001.2 1235.0,1001.7 1235.8,1003.0 1236.5,1003.4 1237.3,1004.6 1238.0,1005.5 1238.8,1005.9 1239.5,1006.0 1240.3,1007.8 1241.1,1007.1 1241.8,1009.1 1242.6,1008.3 1243.3,1007.3 1244.1,1009.4 1244.8,1007.9 1245.6,1007.7 1246.4,1008.8 1247.1,1009.2 1247.9,1008.7 1248.6,1009.6 1249.4,1009.8 1250.4,1012.5 1251.4,1014.9 1252.1,1014.0 1252.8,1014.8 1253.6,1013.4 1254.3,1014.3 1255.0,1014.4 1255.7,1012.9 1256.4,1013.9 1257.2,1014.1 1257.9,1013.6 1258.6,1015.0 1259.3,1016.5 1260.0,1016.2 1260.8,1017.0 1261.5,1016.9 1262.2,1016.8 1263.0,1014.4 1263.8,1015.9 1264.5,1013.9 1265.3,1015.5 1266.0,1014.9 1266.8,1017.8 1267.5,1017.9 1268.3,1018.6 1269.0,1019.1 1269.8,1022.1 1270.6,1021.9 1271.3,1021.9 1272.1,1022.3 1272.8,1020.5 1273.6,1022.0 1274.3,1019.9 1275.1,1020.2 1275.9,1020.4 1276.6,1020.5 1277.3,1018.7 1278.1,1019.7 1278.8,1018.2 1279.5,1017.9 1280.2,1018.5 1280.9,1017.2 1281.7,1016.9 1282.5,1016.7 1283.3,1014.8 1284.1,1014.2 1284.9,1012.2 1285.7,1010.8 1286.4,1010.9 1287.2,1009.8 1288.0,1007.0 1288.7,1006.8 1289.7,996.7 1290.5,999.9 1291.2,1001.4 1292.0,1005.0 1292.7,1006.8 1293.5,1004.8 1294.3,1002.6 1295.0,998.3 1295.8,996.7 1296.5,998.0 1297.3,1000.6 1298.0,1002.7 1298.8,1003.2 1299.5,1004.3 1300.2,1003.0 1301.0,1005.0 1301.7,1004.2 1302.4,1005.9 1303.1,1007.1 1303.8,1006.8 1304.6,1004.8 1305.3,1005.9 1306.0,1004.2 1306.7,1002.1 1307.4,1001.0 1308.2,1000.6 1308.9,999.8 1309.6,1000.4 1310.4,999.5 1311.1,998.0 1311.9,998.7 1312.7,999.4 1313.4,1001.6 1314.2,1005.3 1314.9,1006.4 1315.7,1005.1 1316.4,1005.6 1317.2,1004.5 1318.0,1005.1 1318.7,1003.8 1319.5,1002.8 1320.2,1004.2 1321.0,1002.8 1321.7,1000.6 1322.5,998.7 1323.3,996.8 1324.0,993.7 1324.7,995.7 1325.4,994.2 1326.2,995.9 1326.9,996.3 1327.6,998.0 1328.3,999.9 1329.1,999.8 1329.9,1001.5 1330.7,1000.6 1331.5,1002.0 1332.3,1004.6 1333.1,1004.8 1333.9,1005.1 1334.7,1004.1 1335.5,1004.1 1336.3,1003.1 1337.1,1003.8 1337.9,1006.2 1338.6,1006.5 1339.4,1009.3 1340.1,1009.8 1340.9,1008.9 1341.7,1006.2 1342.4,1005.6 1343.2,1004.8 1343.9,1003.9 1344.7,1005.6 1345.4,1004.7 1346.2,1003.1 1347.0,1003.3 1347.7,1003.7 1348.5,1003.8 1349.2,1003.8 1350.2,1001.5 1351.2,998.7 1352.0,999.5 1352.7,1000.4 1353.4,1000.5 1354.1,1003.0 1354.9,1003.8" fill="none" stroke="#4a7ebb" stroke-width="2" stroke-linejoin="round"/><text x="46.3" y="1185.0" font-size="10.5" text-anchor="end">795</text><text x="46.3" y="1203.1" font-size="10.5" text-anchor="end">695</text><text x="46.3" y="1221.1" font-size="10.5" text-anchor="end">595</text><text x="46.3" y="1239.2" font-size="10.5" text-anchor="end">495</text><text x="46.3" y="1257.2" font-size="10.5" text-anchor="end">395</text><rect x="60" y="1253" width="661" height="1" fill="#d9d9d9"/><text transform="translate(65.4,1330.0) rotate(-90)" font-size="12" textLength="67" lengthAdjust="spacingAndGlyphs">2022-01-04</text><text transform="translate(92.6,1330.0) rotate(-90)" font-size="12" textLength="67" lengthAdjust="spacingAndGlyphs">2022-03-04</text><text transform="translate(119.8,1330.0) rotate(-90)" font-size="12" textLength="67" lengthAdjust="spacingAndGlyphs">2022-05-04</text><text transform="translate(146.9,1330.0) rotate(-90)" font-size="12" textLength="67" lengthAdjust="spacingAndGlyphs">2022-07-04</text><text transform="translate(174.1,1330.0) rotate(-90)" font-size="12" textLength="67" lengthAdjust="spacingAndGlyphs">2022-09-04</text><text transform="translate(201.3,1330.0) rotate(-90)" font-size="12" textLength="67" lengthAdjust="spacingAndGlyphs">2022-11-04</text><text transform="translate(228.5,1330.0) rotate(-90)" font-size="12" textLength="67" lengthAdjust="spacingAndGlyphs">2023-01-04</text><text transform="translate(255.7,1330.0) rotate(-90)" font-size="12" textLength="67" lengthAdjust="spacingAndGlyphs">2023-03-04</text><text transform="translate(282.9,1330.0) rotate(-90)" font-size="12" textLength="67" lengthAdjust="spacingAndGlyphs">2023-05-04</text><text transform="translate(310.1,1330.0) rotate(-90)" font-size="12" textLength="67" lengthAdjust="spacingAndGlyphs">2023-07-04</text><text transform="translate(337.3,1330.0) rotate(-90)" font-size="12" textLength="67" lengthAdjust="spacingAndGlyphs">2023-09-04</text><text transform="translate(364.5,1330.0) rotate(-90)" font-size="12" textLength="67" lengthAdjust="spacingAndGlyphs">2023-11-04</text><text transform="translate(391.7,1330.0) rotate(-90)" font-size="12" textLength="67" lengthAdjust="spacingAndGlyphs">2024-01-04</text><text transform="translate(418.9,1330.0) rotate(-90)" font-size="12" textLength="67" lengthAdjust="spacingAndGlyphs">2024-03-04</text><text transform="translate(446.1,1330.0) rotate(-90)" font-size="12" textLength="67" lengthAdjust="spacingAndGlyphs">2024-05-04</text><text transform="translate(473.2,1330.0) rotate(-90)" font-size="12" textLength="67" lengthAdjust="spacingAndGlyphs">2024-07-04</text><text transform="translate(500.4,1330.0) rotate(-90)" font-size="12" textLength="67" lengthAdjust="spacingAndGlyphs">2024-09-04</text><text transform="translate(527.6,1330.0) rotate(-90)" font-size="12" textLength="67" lengthAdjust="spacingAndGlyphs">2024-11-04</text><text transform="translate(554.8,1330.0) rotate(-90)" font-size="12" textLength="67" lengthAdjust="spacingAndGlyphs">2025-01-04</text><text transform="translate(582.0,1330.0) rotate(-90)" font-size="12" textLength="67" lengthAdjust="spacingAndGlyphs">2025-03-04</text><text transform="translate(609.2,1330.0) rotate(-90)" font-size="12" textLength="67" lengthAdjust="spacingAndGlyphs">2025-05-04</text><text transform="translate(636.4,1330.0) rotate(-90)" font-size="12" textLength="67" lengthAdjust="spacingAndGlyphs">2025-07-04</text><text transform="translate(663.6,1330.0) rotate(-90)" font-size="12" textLength="67" lengthAdjust="spacingAndGlyphs">2025-09-04</text><text transform="translate(690.8,1330.0) rotate(-90)" font-size="12" textLength="67" lengthAdjust="spacingAndGlyphs">2025-11-04</text><text transform="translate(718.0,1330.0) rotate(-90)" font-size="12" textLength="67" lengthAdjust="spacingAndGlyphs">2026-01-04</text><polyline points="60.3,1215.7 61.0,1214.2 61.7,1212.5 62.5,1212.0 63.2,1211.7 63.9,1209.0 64.6,1208.5 65.4,1207.5 66.2,1208.0 67.0,1206.9 67.8,1206.5 68.6,1206.5 69.4,1206.1 70.2,1205.1 70.9,1205.0 71.6,1204.3 72.3,1204.4 73.0,1203.9 73.8,1201.7 74.5,1202.0 75.2,1201.7 75.9,1201.3 76.7,1200.1 77.4,1202.0 78.1,1203.2 78.8,1204.6 79.5,1205.6 80.3,1207.3 81.1,1206.1 81.9,1206.2 82.7,1204.9 83.4,1205.7 84.1,1206.1 84.8,1205.9 85.6,1205.5 86.3,1206.1 87.0,1204.3 87.7,1202.1 88.4,1199.6 89.2,1197.6 89.9,1195.3 90.7,1199.0 91.5,1203.4 92.3,1207.3 93.1,1205.8 93.9,1203.9 94.7,1203.1 95.5,1201.7 96.3,1201.5 97.1,1199.4 97.8,1199.5 98.6,1199.5 99.3,1199.5 100.0,1199.7 100.7,1200.1 101.4,1199.9 102.2,1199.9 102.9,1201.5 103.6,1201.0 104.3,1201.3 105.1,1198.4 105.9,1195.8 106.7,1192.9 107.5,1194.5 108.2,1196.2 108.9,1197.9 109.6,1200.2 110.3,1202.5 111.1,1200.7 111.8,1200.0 112.5,1198.2 113.2,1197.4 114.0,1195.3 114.7,1195.7 115.4,1197.4 116.1,1197.6 116.8,1197.5 117.6,1198.9 118.3,1197.8 119.1,1197.8 119.8,1197.8 120.6,1196.2 121.3,1196.3 122.1,1195.1 122.8,1195.3 123.6,1194.1 124.3,1192.6 125.0,1192.6 125.7,1192.5 126.5,1190.8 127.2,1190.1 127.9,1189.0 128.6,1188.5 129.4,1187.9 130.1,1187.9 130.8,1186.8 131.5,1187.8 132.2,1189.6 133.0,1190.7 133.7,1192.8 134.4,1194.1 135.1,1196.1 135.8,1197.2 136.6,1197.9 137.3,1200.2 138.0,1201.3 138.7,1202.5 139.5,1202.4 140.2,1202.1 140.9,1203.7 141.6,1203.7 142.4,1206.7 143.2,1208.2 144.0,1210.3 144.8,1212.8 145.6,1215.8 146.4,1218.1 147.2,1217.1 148.0,1215.1 148.8,1214.0 149.6,1211.2 150.4,1209.8 151.2,1208.5 152.0,1209.7 152.9,1210.3 153.7,1210.8 154.5,1212.0 155.3,1212.2 156.1,1213.3 156.8,1212.9 157.6,1213.8 158.3,1213.5 159.1,1214.7 159.8,1214.5 160.6,1215.1 161.3,1215.6 162.1,1215.7 162.8,1214.6 163.5,1214.2 164.2,1212.8 165.0,1213.5 165.7,1212.1 166.4,1212.3 167.1,1213.0 167.8,1211.6 168.6,1212.6 169.3,1212.8 170.0,1212.3 170.7,1212.0 171.5,1212.1 172.2,1212.2 172.9,1212.8 173.7,1212.9 174.5,1211.5 175.3,1212.4 176.1,1211.4 176.9,1211.3 177.7,1210.9 178.4,1210.6 179.2,1210.0 179.9,1209.7 180.6,1209.1 181.3,1208.2 182.0,1208.4 182.8,1207.1 183.5,1207.4 184.2,1207.0 184.9,1206.1 185.7,1208.2 186.4,1209.2 187.1,1211.6 187.8,1213.6 188.5,1214.5 189.3,1215.3 190.0,1216.0 190.8,1217.3 191.5,1218.8 192.3,1218.4 193.1,1219.1 193.8,1220.8 194.6,1221.7 195.4,1221.0 196.2,1220.2 197.0,1218.5 197.8,1218.5 198.6,1216.3 199.4,1215.7 200.1,1215.8 200.9,1214.3 201.6,1213.9 202.3,1213.7 203.1,1213.2 203.8,1213.5 204.6,1213.2 205.3,1212.2 206.0,1213.1 206.8,1211.8 207.5,1211.1 208.3,1210.8 209.0,1210.9 209.7,1210.8 210.5,1210.7 211.2,1209.0 212.0,1208.3 212.8,1209.1 213.5,1207.8 214.3,1208.5 215.0,1207.3 215.8,1207.4 216.5,1207.8 217.3,1207.5 218.0,1208.4 218.8,1208.0 219.5,1207.9 220.3,1209.0 221.0,1208.5 221.8,1207.6 222.5,1208.3 223.3,1206.9 224.0,1207.5 224.8,1206.8 225.5,1207.3 226.3,1205.7 227.0,1206.1 227.8,1204.7 228.6,1202.9 229.4,1202.2 230.2,1200.7 231.1,1198.7 231.9,1196.9 232.7,1196.6 233.5,1196.8 234.3,1196.9 235.1,1197.3 235.9,1197.1 236.7,1197.7 237.4,1198.4 238.1,1200.5 238.8,1201.5 239.6,1202.2 240.3,1203.7 241.0,1204.5 241.7,1203.2 242.4,1203.8 243.2,1203.1 243.9,1204.3 244.6,1204.3 245.3,1203.3 246.0,1204.1 246.8,1204.2 247.5,1203.7 248.2,1203.1 248.9,1202.9 249.7,1202.9 250.4,1203.3 251.1,1202.5 251.9,1203.3 252.7,1205.4 253.5,1206.6 254.3,1207.7 255.1,1209.2 255.9,1210.4 256.7,1210.9 257.4,1209.8 258.2,1210.8 258.9,1209.8 259.7,1210.4 260.4,1210.5 261.2,1209.3 261.9,1209.7 262.6,1210.2 263.3,1210.4 264.0,1209.2 264.7,1208.7 265.4,1208.8 266.1,1210.1 266.8,1208.5 267.5,1209.9 268.2,1208.6 268.9,1209.5 269.6,1208.4 270.4,1209.0 271.2,1209.6 272.0,1211.5 272.8,1211.7 273.6,1213.2 274.4,1215.3 275.2,1215.7 275.9,1216.7 276.7,1217.5 277.4,1218.3 278.2,1217.4 278.9,1218.3 279.7,1219.8 280.4,1220.2 281.2,1220.5 282.0,1220.8 282.8,1222.5 283.6,1223.1 284.4,1224.4 285.2,1224.9 286.0,1226.5 286.7,1225.6 287.5,1227.0 288.2,1225.8 289.0,1226.5 289.8,1225.2 290.5,1225.6 291.3,1224.9 292.0,1225.3 292.7,1225.6 293.5,1225.6 294.2,1226.8 294.9,1226.3 295.6,1227.3 296.3,1227.2 297.1,1226.3 297.8,1225.2 298.5,1225.1 299.2,1224.9 300.0,1224.9 300.7,1225.5 301.5,1224.6 302.2,1224.4 303.0,1225.6 303.7,1225.5 304.5,1225.2 305.2,1224.9 306.0,1223.6 306.8,1222.5 307.6,1221.7 308.4,1220.5 309.3,1219.5 310.1,1219.3 310.8,1218.6 311.6,1217.7 312.3,1217.2 313.1,1216.1 313.8,1214.8 314.6,1215.1 315.3,1214.3 316.1,1213.3 316.9,1214.2 317.7,1215.0 318.5,1216.0 319.3,1217.3 320.1,1217.9 320.9,1218.1 321.6,1217.0 322.4,1215.0 323.1,1213.3 323.9,1212.0 324.6,1211.4 325.4,1208.9 326.1,1207.4 326.9,1206.1 327.7,1206.1 328.5,1205.9 329.3,1207.5 330.1,1206.1 330.9,1207.3 331.7,1207.3 332.4,1207.9 333.2,1206.7 333.9,1207.1 334.6,1206.6 335.3,1206.3 336.0,1206.1 336.8,1205.8 337.5,1206.9 338.2,1206.7 338.9,1206.1 339.6,1207.9 340.4,1207.8 341.1,1210.0 341.8,1210.6 342.5,1212.1 343.3,1212.7 344.1,1213.0 344.9,1213.0 345.7,1214.5 346.5,1213.3 347.3,1214.5 348.1,1215.1 348.8,1215.6 349.5,1215.3 350.2,1215.6 351.0,1216.5 351.7,1215.5 352.4,1216.4 353.1,1216.8 353.8,1216.5 354.6,1216.9 355.4,1216.7 356.2,1215.7 357.0,1215.4 357.8,1215.0 358.6,1214.6 359.4,1213.8 360.1,1213.1 360.8,1213.2 361.5,1212.6 362.3,1211.7 363.0,1211.9 363.7,1211.0 364.4,1211.6 365.2,1210.5 365.9,1210.5 366.6,1209.7 367.3,1209.6 368.0,1209.5 368.7,1209.0 369.4,1208.7 370.1,1209.9 370.8,1209.1 371.5,1209.0 372.2,1208.9 372.9,1209.3 373.6,1208.3 374.3,1208.1 375.0,1208.5 375.7,1209.7 376.5,1209.9 377.2,1210.9 377.9,1211.9 378.6,1212.1 379.4,1212.9 380.1,1213.0 380.9,1211.8 381.6,1212.5 382.4,1213.4 383.1,1213.5 383.9,1212.6 384.6,1213.3 385.4,1213.6 386.2,1214.5 387.1,1215.1 387.9,1216.3 388.7,1217.8 389.5,1218.1 390.2,1217.4 391.0,1216.5 391.8,1215.2 392.5,1214.9 393.3,1215.1 394.0,1213.9 394.8,1212.8 395.6,1213.2 396.4,1213.8 397.2,1214.8 398.0,1215.2 398.8,1214.7 399.6,1215.7 400.3,1216.0 401.0,1215.4 401.7,1215.7 402.5,1215.2 403.2,1215.4 403.9,1215.3 404.6,1215.3 405.3,1214.7 406.0,1215.0 406.7,1215.5 407.4,1214.7 408.1,1214.9 408.8,1215.7 409.5,1215.0 410.2,1215.0 410.9,1214.9 411.7,1215.2 412.4,1215.5 413.1,1214.1 413.8,1214.7 414.5,1214.8 415.2,1213.5 415.9,1213.5 416.6,1213.9 417.3,1213.3 418.0,1212.7 418.7,1211.9 419.4,1212.3 420.1,1212.1 420.8,1212.6 421.5,1213.9 422.2,1213.9 423.0,1214.8 423.7,1215.7 424.4,1215.4 425.2,1215.1 425.9,1213.9 426.7,1213.4 427.4,1213.1 428.2,1213.1 428.9,1211.4 429.7,1211.4 430.4,1212.0 431.1,1211.5 431.9,1210.9 432.6,1211.3 433.3,1210.9 434.0,1209.7 434.8,1208.3 435.5,1208.4 436.2,1206.9 436.9,1206.1 437.6,1206.7 438.4,1207.2 439.1,1208.5 439.8,1208.8 440.5,1209.0 441.3,1208.1 442.1,1208.8 442.9,1208.4 443.7,1208.3 444.5,1208.7 445.3,1208.0 446.1,1206.6 446.8,1205.5 447.5,1204.9 448.2,1202.9 449.0,1201.8 449.7,1201.7 450.4,1201.6 451.1,1202.0 451.8,1201.6 452.6,1201.3 453.4,1203.3 454.2,1204.3 455.0,1206.1 455.7,1205.1 456.4,1205.9 457.1,1205.5 457.9,1205.6 458.6,1204.9 459.3,1205.9 460.0,1205.5 460.7,1206.3 461.5,1206.7 462.2,1208.0 463.0,1208.1 463.8,1206.6 464.6,1206.2 465.4,1206.8 466.2,1206.1 467.0,1205.6 467.8,1206.5 468.6,1209.1 469.4,1210.4 470.1,1211.0 470.8,1211.0 471.6,1210.6 472.3,1211.9 473.0,1211.7 473.7,1212.3 474.5,1213.2 475.2,1213.2 475.9,1213.6 476.6,1213.3 477.3,1213.0 478.1,1213.5 478.8,1214.1 479.5,1213.5 480.2,1214.5 481.0,1215.6 481.7,1214.8 482.5,1215.0 483.2,1215.4 484.0,1215.6 484.7,1216.9 485.5,1216.7 486.2,1216.9 487.0,1216.7 487.8,1216.4 488.5,1215.6 489.3,1215.8 490.0,1216.5 490.8,1216.1 491.5,1216.0 492.3,1215.2 493.1,1216.0 493.8,1217.1 494.6,1218.0 495.4,1220.0 496.2,1220.9 497.0,1222.2 497.8,1223.4 498.6,1223.0 499.3,1222.7 500.1,1222.0 500.8,1222.2 501.6,1220.9 502.3,1221.6 503.1,1220.5 503.8,1218.3 504.5,1215.2 505.3,1213.3 506.0,1211.3 506.7,1209.0 507.4,1209.7 508.1,1210.8 508.9,1211.3 509.6,1212.1 510.3,1213.3 511.1,1214.5 511.9,1214.4 512.7,1215.8 513.5,1216.7 514.3,1217.1 515.1,1217.6 515.9,1217.3 516.7,1217.9 517.5,1216.8 518.3,1217.3 519.1,1215.7 519.9,1216.2 520.7,1216.0 521.5,1216.3 522.3,1215.2 523.1,1216.5 523.9,1215.1 524.7,1215.7 525.5,1216.3 526.3,1216.0 527.2,1217.6 528.0,1217.4 528.8,1218.2 529.6,1218.1 530.3,1217.8 531.0,1217.8 531.7,1217.5 532.4,1216.6 533.2,1216.2 533.9,1216.9 534.6,1215.5 535.3,1216.5 536.1,1215.1 536.8,1215.2 537.5,1214.8 538.2,1214.9 538.9,1216.2 539.7,1216.6 540.4,1215.9 541.1,1216.5 541.8,1216.0 542.6,1217.2 543.3,1217.0 544.0,1216.9 544.7,1216.4 545.5,1216.2 546.2,1217.2 547.0,1216.2 547.8,1217.5 548.5,1216.6 549.3,1216.5 550.0,1216.9 550.8,1216.4 551.6,1215.4 552.4,1215.2 553.2,1214.0 554.0,1214.6 554.8,1213.3 555.5,1213.1 556.2,1214.1 556.9,1213.1 557.6,1214.2 558.3,1214.6 559.0,1213.7 559.7,1213.3 560.4,1213.9 561.1,1214.4 561.8,1213.9 562.5,1214.5 563.2,1214.5 564.0,1213.7 564.7,1214.2 565.5,1214.4 566.3,1213.8 567.0,1214.0 567.8,1213.0 568.5,1214.0 569.3,1213.3 570.0,1212.8 570.8,1214.1 571.5,1214.3 572.3,1214.3 573.0,1213.7 573.8,1213.3 574.5,1213.5 575.3,1213.8 576.1,1214.9 576.9,1215.2 577.7,1216.6 578.5,1216.0 579.3,1217.4 580.1,1218.1 580.8,1218.9 581.5,1218.8 582.3,1218.9 583.0,1218.4 583.7,1218.7 584.4,1219.2 585.1,1220.4 585.9,1220.6 586.6,1219.9 587.3,1220.5 588.0,1221.9 588.7,1221.2 589.5,1222.9 590.2,1224.2 590.9,1224.1 592.1,1231.4 592.9,1230.1 593.7,1230.0 594.5,1228.2 595.2,1228.5 596.0,1227.5 596.7,1228.0 597.4,1228.1 598.1,1227.8 598.9,1228.6 599.6,1227.7 600.3,1228.7 601.0,1227.9 601.7,1228.2 602.5,1227.1 603.2,1227.5 604.0,1226.3 604.7,1226.6 605.5,1226.6 606.3,1225.9 607.0,1225.2 607.8,1224.9 608.5,1224.8 609.2,1226.2 609.9,1226.2 610.6,1227.7 611.4,1227.5 612.1,1228.9 612.8,1229.2 613.5,1229.9 614.3,1231.0 615.0,1231.4 615.7,1230.8 616.5,1230.8 617.2,1232.1 618.0,1231.1 618.7,1231.9 619.5,1232.0 620.2,1231.3 621.0,1231.4 621.7,1230.1 622.4,1229.3 623.2,1229.8 623.9,1227.9 624.6,1227.7 625.4,1228.1 626.1,1228.5 626.9,1228.2 627.6,1229.1 628.4,1229.0 629.1,1230.0 629.9,1230.3 630.6,1230.6 631.4,1230.1 632.2,1229.6 633.0,1229.6 633.8,1229.0 634.6,1228.6 635.4,1229.0 636.2,1227.3 637.0,1227.1 637.8,1225.3 638.6,1224.8 639.4,1222.2 640.2,1221.7 641.0,1223.7 641.7,1224.3 642.4,1226.1 643.1,1227.0 643.8,1228.2 644.7,1228.3 645.5,1227.2 646.3,1227.8 647.1,1226.6 647.9,1226.4 648.7,1226.5 649.4,1225.8 650.1,1226.5 650.8,1226.7 651.5,1226.4 652.3,1227.4 653.0,1226.2 653.7,1227.0 654.4,1226.5 655.2,1227.1 655.9,1227.5 656.6,1227.4 657.3,1226.4 658.0,1226.8 658.8,1227.4 659.5,1227.3 660.2,1228.2 660.9,1226.8 661.6,1227.9 662.3,1228.1 663.0,1228.5 663.7,1227.9 664.4,1228.7 665.1,1228.3 665.8,1229.2 666.5,1227.9 667.2,1229.5 667.9,1229.0 668.6,1229.1 669.4,1229.3 670.1,1229.1 670.8,1229.6 671.5,1230.7 672.2,1230.9 673.0,1230.3 673.7,1230.9 674.4,1230.8 675.1,1231.2 675.9,1231.5 676.6,1232.0 677.3,1233.3 678.0,1233.6 678.7,1233.0 679.5,1233.0 680.2,1232.0 680.9,1231.6 681.6,1231.6 682.3,1230.6 683.2,1231.8 684.0,1232.1 684.8,1232.4 685.6,1232.2 686.4,1233.4 687.2,1233.8 687.9,1234.2 688.7,1234.0 689.4,1232.8 690.2,1233.8 690.9,1233.1 691.7,1232.7 692.4,1233.9 693.2,1233.0 693.9,1233.5 694.7,1233.8 695.4,1233.0 696.1,1234.3 696.9,1234.7 697.6,1234.8 698.4,1234.7 699.1,1235.1 699.8,1235.2 700.6,1235.0 701.3,1235.0 702.1,1235.8 702.8,1235.4 703.6,1235.1 704.3,1234.4 705.1,1232.7 705.8,1232.9 706.6,1231.4 707.3,1231.3 708.1,1229.1 708.8,1229.0 709.6,1229.5 710.4,1229.0 711.2,1228.0 712.0,1228.7 712.8,1227.5 713.6,1227.7 714.4,1227.6 715.1,1228.3 715.8,1228.2 716.5,1228.9 717.2,1229.8 718.0,1229.8 718.7,1230.1 719.4,1229.9 720.1,1230.8 720.8,1230.6" fill="none" stroke="#4a7ebb" stroke-width="2" stroke-linejoin="round"/><text x="814.5" y="1190.2" font-size="10.5" text-anchor="end">1,774</text><text x="814.5" y="1213.6" font-size="10.5" text-anchor="end">1,574</text><text x="814.5" y="1237.0" font-size="10.5" text-anchor="end">1,374</text><text x="814.5" y="1260.4" font-size="10.5" text-anchor="end">1,174</text><text x="814.5" y="1283.7" font-size="10.5" text-anchor="end">974</text><text x="814.5" y="1307.1" font-size="10.5" text-anchor="end">774</text><rect x="828" y="1305" width="538" height="1" fill="#d9d9d9"/><clipPath id="ce"><rect x="0" y="0" width="1379" height="2372"/></clipPath><g clip-path="url(#ce)"><text x="795.3" y="1328.4" font-size="12" textLength="68" lengthAdjust="spacingAndGlyphs">2022-01-04</text><text x="926.8" y="1328.4" font-size="12" textLength="68" lengthAdjust="spacingAndGlyphs">2023-01-04</text><text x="1059.9" y="1328.4" font-size="12" textLength="68" lengthAdjust="spacingAndGlyphs">2024-01-04</text><text x="1193.0" y="1328.4" font-size="12" textLength="68" lengthAdjust="spacingAndGlyphs">2025-01-04</text><text x="1324.5" y="1328.4" font-size="12" textLength="68" lengthAdjust="spacingAndGlyphs">2026-01-04</text></g><polyline points="828.3,1257.7 829.1,1255.3 829.9,1251.3 830.9,1253.3 831.9,1254.3 832.6,1253.8 833.4,1251.8 834.1,1248.9 834.9,1247.4 835.6,1247.0 836.3,1249.3 837.1,1250.6 837.8,1250.4 838.6,1247.3 839.4,1245.5 840.2,1243.6 841.0,1240.9 841.8,1237.5 842.5,1237.5 843.3,1240.2 844.0,1240.3 844.8,1243.0 845.8,1240.1 846.8,1239.5 847.7,1235.4 848.7,1229.5 850.1,1209.7 851.1,1201.6 852.1,1193.9 852.9,1214.0 853.7,1233.5 854.5,1227.4 855.3,1221.6 856.1,1218.2 856.9,1214.9 857.7,1212.7 858.4,1214.8 859.1,1218.6 859.9,1220.5 860.6,1222.6 861.4,1223.5 862.1,1224.4 862.9,1226.4 863.6,1228.6 864.3,1225.4 865.1,1221.0 865.8,1217.9 866.6,1213.7 867.3,1217.5 868.1,1218.6 868.8,1223.1 869.5,1225.6 870.3,1221.3 871.0,1220.5 871.8,1215.8 872.5,1213.7 873.3,1215.0 874.0,1218.9 874.7,1219.3 875.5,1221.6 876.5,1212.9 877.5,1205.8 878.2,1209.1 879.0,1210.5 879.7,1213.6 880.4,1214.7 881.4,1207.4 882.4,1200.8 883.2,1200.6 884.0,1201.7 884.8,1200.2 885.6,1201.4 886.4,1199.8 887.1,1200.7 887.9,1204.2 888.6,1204.1 889.4,1206.8 890.2,1214.3 890.9,1221.6 891.7,1216.6 892.5,1213.4 893.3,1210.7 894.3,1221.9 895.3,1230.5 896.1,1232.1 896.8,1234.9 897.5,1235.0 898.3,1237.5 899.0,1234.6 899.8,1231.4 900.5,1230.2 901.3,1227.6 902.0,1228.8 902.7,1228.1 903.5,1228.0 904.2,1228.6 905.2,1233.7 906.2,1236.5 907.0,1235.8 907.7,1233.5 908.4,1230.1 909.2,1229.5 910.2,1226.9 911.2,1223.6 911.9,1220.4 912.6,1218.7 913.4,1214.0 914.1,1211.3 915.1,1213.9 916.1,1215.7 917.1,1226.9 918.1,1237.5 919.1,1233.7 920.1,1230.5 920.8,1232.1 921.6,1234.0 922.3,1236.1 923.1,1236.5 923.8,1239.2 924.5,1241.5 925.3,1246.0 926.0,1247.4 926.8,1242.8 927.6,1241.6 928.4,1237.8 929.2,1234.1 930.0,1230.5 930.7,1233.4 931.5,1237.2 932.2,1240.5 933.0,1242.4 933.7,1243.1 934.4,1243.1 935.2,1241.1 935.9,1242.4 936.7,1239.0 937.5,1235.5 938.3,1234.8 939.1,1231.6 939.9,1227.6 940.6,1228.8 941.4,1232.3 942.1,1234.5 942.9,1236.5 943.7,1238.2 944.5,1242.1 945.2,1246.1 946.0,1248.8 946.8,1251.3 947.6,1253.3 948.4,1257.2 949.2,1258.5 950.0,1261.8 950.8,1264.2 951.6,1263.4 952.4,1264.4 953.2,1262.9 954.0,1262.7 954.8,1261.3 955.6,1260.2 956.3,1257.7 957.1,1257.8 957.9,1255.5 958.7,1253.3 959.5,1256.6 960.2,1258.2 961.0,1260.6 961.7,1264.2 962.4,1262.2 963.2,1260.7 963.9,1258.4 964.7,1255.3 965.4,1252.8 966.2,1250.1 966.9,1249.1 967.6,1247.0 968.4,1248.0 969.2,1246.0 970.0,1247.7 970.8,1246.1 971.6,1247.0 972.6,1250.6 973.6,1255.3 974.3,1252.3 975.1,1251.3 975.8,1249.8 976.6,1248.4 977.4,1250.5 978.1,1251.3 978.9,1249.9 979.7,1251.0 980.5,1252.3 981.3,1252.1 982.0,1248.5 982.8,1247.4 983.5,1246.4 984.2,1249.4 985.0,1251.7 985.7,1255.4 986.5,1259.3 987.5,1263.9 988.5,1269.2 989.2,1266.0 989.9,1264.8 990.6,1260.0 991.3,1257.0 992.0,1256.2 992.7,1252.1 993.4,1249.4 994.2,1250.3 995.0,1249.7 995.8,1250.1 996.6,1248.8 997.4,1249.4 998.2,1249.4 999.0,1252.1 999.7,1252.3 1000.5,1253.5 1001.3,1254.3 1002.1,1257.6 1002.9,1260.6 1003.7,1262.0 1004.5,1265.0 1005.3,1268.2 1006.0,1268.4 1006.8,1266.3 1007.5,1264.6 1008.3,1264.2 1009.1,1264.2 1009.9,1262.8 1010.6,1263.8 1011.4,1261.4 1012.2,1262.2 1013.0,1264.9 1013.7,1265.9 1014.5,1267.0 1015.2,1269.2 1016.0,1270.0 1016.8,1267.7 1017.6,1267.3 1018.4,1266.4 1019.2,1267.2 1019.9,1265.8 1020.7,1264.9 1021.4,1263.2 1022.1,1261.3 1022.9,1262.0 1023.6,1264.1 1024.4,1263.1 1025.1,1265.2 1025.8,1263.4 1026.5,1263.1 1027.2,1262.7 1027.9,1260.5 1028.7,1259.4 1029.4,1258.3 1030.1,1256.3 1030.8,1254.8 1031.6,1255.1 1032.3,1253.3 1033.0,1250.9 1033.8,1249.8 1034.5,1249.7 1035.3,1247.2 1036.0,1246.4 1036.8,1244.1 1037.6,1244.7 1038.4,1242.3 1039.2,1240.9 1040.0,1239.5 1040.8,1239.5 1041.6,1239.8 1042.4,1237.2 1043.1,1237.4 1043.9,1237.5 1044.7,1234.3 1045.4,1233.3 1046.2,1231.5 1046.9,1230.5 1047.7,1228.0 1048.4,1225.8 1049.1,1223.3 1049.9,1221.6 1050.7,1220.6 1051.5,1218.4 1052.3,1218.8 1053.1,1217.4 1053.8,1215.3 1054.6,1216.1 1055.4,1214.1 1056.2,1215.4 1057.0,1215.5 1057.8,1214.7 1058.6,1216.4 1059.3,1219.3 1060.0,1221.0 1060.8,1221.6 1061.5,1224.8 1062.3,1227.5 1063.0,1229.5 1063.8,1231.5 1064.7,1227.6 1065.7,1221.6 1066.5,1222.0 1067.3,1225.0 1068.1,1226.3 1068.9,1227.5 1069.7,1228.6 1070.5,1229.3 1071.3,1230.1 1072.1,1233.0 1072.9,1235.0 1073.7,1235.5 1074.5,1236.4 1075.3,1237.9 1076.0,1239.5 1076.8,1240.7 1077.6,1243.4 1078.4,1244.7 1079.2,1246.3 1080.0,1246.6 1080.8,1246.2 1081.6,1247.4 1082.4,1250.1 1083.2,1250.5 1084.0,1254.9 1084.8,1255.6 1085.6,1258.3 1086.3,1254.9 1087.0,1254.7 1087.8,1251.3 1088.5,1250.4 1089.3,1248.7 1090.0,1247.1 1090.8,1247.2 1091.5,1246.4 1092.3,1248.1 1093.1,1250.4 1093.9,1249.9 1094.7,1253.6 1095.5,1254.3 1096.2,1253.2 1097.0,1253.5 1097.7,1254.7 1098.5,1253.9 1099.2,1253.8 1100.0,1254.3 1100.7,1252.5 1101.4,1249.6 1102.2,1249.2 1102.9,1246.4 1103.7,1247.6 1104.4,1251.3 1105.2,1253.2 1105.9,1254.3 1106.6,1253.4 1107.3,1251.0 1108.0,1252.1 1108.7,1249.0 1109.4,1249.4 1110.1,1248.2 1110.9,1247.4 1111.6,1245.7 1112.3,1246.8 1113.1,1246.5 1113.8,1245.6 1114.6,1244.6 1115.3,1244.4 1116.1,1244.2 1116.8,1243.4 1117.8,1243.1 1118.8,1244.4 1119.8,1242.5 1120.8,1238.5 1121.5,1240.4 1122.2,1240.5 1122.9,1241.5 1123.6,1240.4 1124.3,1241.4 1125.2,1240.8 1126.0,1236.3 1126.9,1235.4 1127.7,1233.5 1128.5,1232.3 1129.3,1233.0 1130.1,1233.4 1130.9,1233.3 1131.7,1232.5 1132.4,1233.9 1133.1,1235.0 1133.9,1236.1 1134.6,1238.5 1135.4,1239.4 1136.2,1240.2 1137.0,1241.2 1137.8,1243.9 1138.6,1244.4 1139.3,1244.0 1140.0,1243.4 1140.7,1242.3 1141.4,1243.3 1142.1,1241.4 1142.8,1241.2 1143.6,1241.4 1144.3,1241.0 1145.0,1240.8 1145.8,1241.0 1146.5,1239.1 1147.3,1242.3 1148.0,1245.5 1148.8,1248.0 1149.5,1249.4 1150.2,1248.5 1151.0,1247.0 1151.7,1243.7 1152.5,1243.4 1153.2,1241.6 1154.0,1240.1 1154.7,1241.5 1155.4,1239.5 1156.2,1239.1 1157.0,1237.8 1157.8,1235.8 1158.6,1235.1 1159.4,1234.5 1160.2,1234.9 1161.0,1237.6 1161.8,1240.0 1162.6,1239.5 1163.4,1241.4 1164.2,1240.8 1165.0,1241.7 1165.7,1242.8 1166.5,1244.9 1167.3,1244.4 1168.1,1247.0 1168.9,1247.8 1169.7,1248.6 1170.5,1250.4 1171.3,1253.3 1172.0,1250.6 1172.8,1250.6 1173.5,1248.0 1174.3,1246.4 1175.0,1249.0 1175.8,1250.0 1176.5,1250.9 1177.2,1251.3 1178.0,1249.3 1178.7,1248.3 1179.5,1244.4 1180.2,1243.4 1180.9,1245.0 1181.6,1249.0 1182.3,1251.5 1183.0,1253.4 1183.8,1256.2 1184.5,1258.2 1185.2,1262.2 1185.9,1262.4 1186.6,1260.9 1187.3,1260.5 1188.0,1259.6 1188.7,1257.1 1189.4,1256.9 1190.1,1255.3 1191.1,1257.5 1192.1,1260.3 1192.8,1258.2 1193.6,1255.3 1194.3,1250.3 1195.1,1248.4 1195.8,1249.0 1196.6,1251.5 1197.3,1254.6 1198.1,1256.3 1198.8,1255.8 1199.6,1254.5 1200.4,1256.6 1201.2,1256.3 1202.0,1255.3 1203.0,1259.3 1203.7,1257.8 1204.5,1255.2 1205.2,1256.2 1206.0,1253.7 1206.8,1254.9 1207.6,1254.7 1208.4,1256.6 1209.1,1258.5 1209.9,1259.3 1210.7,1259.6 1211.5,1257.6 1212.3,1257.3 1213.1,1255.3 1213.9,1255.3 1214.9,1257.1 1215.9,1260.3 1216.7,1260.4 1217.5,1258.0 1218.3,1256.2 1219.1,1256.6 1219.9,1255.3 1220.6,1254.1 1221.3,1254.2 1222.0,1254.8 1222.7,1255.0 1223.4,1255.0 1224.1,1255.0 1224.8,1254.3 1225.8,1248.4 1226.6,1247.4 1227.4,1245.6 1228.2,1246.6 1229.0,1244.0 1229.8,1244.4 1230.8,1239.4 1231.7,1234.5 1232.5,1236.4 1233.2,1239.4 1234.0,1241.8 1234.7,1243.4 1235.4,1243.0 1236.1,1244.4 1236.8,1244.8 1237.5,1244.5 1238.3,1243.8 1239.0,1246.3 1239.7,1245.4 1240.4,1246.4 1241.2,1245.7 1241.9,1246.9 1242.6,1248.4 1243.3,1251.0 1244.1,1250.2 1244.8,1251.9 1245.5,1254.3 1246.2,1255.6 1246.9,1256.4 1247.6,1257.3 1248.6,1260.9 1249.6,1263.2 1250.4,1261.1 1251.2,1260.5 1252.0,1262.2 1252.7,1260.9 1253.5,1259.3 1254.2,1256.8 1255.0,1255.7 1255.7,1255.1 1256.4,1255.9 1257.1,1252.8 1257.8,1253.0 1258.5,1251.3 1259.2,1257.5 1260.0,1261.6 1260.7,1267.4 1261.5,1271.2 1262.2,1269.6 1262.9,1268.5 1263.6,1267.3 1264.3,1268.5 1265.0,1265.8 1265.7,1267.4 1266.4,1265.2 1267.1,1266.8 1267.8,1266.3 1268.5,1269.0 1269.3,1268.2 1270.0,1270.2 1270.7,1270.1 1271.4,1272.2 1272.1,1271.7 1272.9,1270.8 1273.6,1269.6 1274.3,1267.2 1275.1,1267.5 1275.8,1271.6 1276.6,1272.6 1277.3,1274.1 1278.1,1275.3 1278.8,1274.6 1279.6,1275.2 1280.3,1275.1 1281.0,1274.2 1281.8,1273.5 1282.5,1270.2 1283.3,1270.2 1284.3,1265.0 1285.2,1262.2 1286.2,1255.9 1287.2,1249.4 1288.2,1248.8 1289.2,1249.4 1290.2,1258.0 1291.2,1267.2 1292.0,1265.4 1292.8,1267.1 1293.6,1264.7 1294.4,1266.5 1295.2,1265.2 1295.9,1265.5 1296.7,1264.0 1297.5,1262.5 1298.2,1263.4 1299.0,1261.6 1299.8,1261.7 1300.6,1260.3 1301.3,1262.1 1302.1,1260.3 1302.8,1261.7 1303.5,1262.4 1304.2,1262.9 1304.9,1266.0 1305.6,1267.6 1306.3,1268.9 1307.0,1269.2 1307.8,1267.5 1308.5,1267.7 1309.2,1266.9 1309.9,1267.6 1310.6,1265.4 1311.3,1266.1 1312.0,1265.2 1312.8,1266.6 1313.5,1266.0 1314.3,1263.8 1315.1,1264.0 1315.9,1264.1 1316.6,1265.8 1317.4,1265.5 1318.2,1265.3 1318.9,1265.2 1319.7,1265.5 1320.4,1265.7 1321.2,1266.6 1321.9,1267.1 1322.7,1268.2 1323.4,1268.1 1324.1,1268.6 1324.9,1268.2 1325.6,1270.6 1326.4,1271.6 1327.1,1272.5 1327.9,1271.8 1328.6,1274.9 1329.3,1276.6 1330.1,1276.7 1330.8,1278.1 1331.6,1277.8 1332.4,1274.4 1333.2,1275.2 1334.0,1272.4 1334.8,1271.2 1335.6,1271.7 1336.4,1270.3 1337.2,1270.4 1338.0,1270.4 1338.8,1270.8 1339.5,1270.9 1340.2,1271.0 1341.0,1272.6 1341.7,1274.8 1342.5,1274.5 1343.2,1276.0 1344.0,1276.2 1344.7,1276.1 1345.4,1277.1 1346.1,1277.5 1346.8,1276.8 1347.5,1275.5 1348.2,1275.4 1348.9,1275.9 1349.7,1276.1 1350.4,1276.3 1351.1,1278.3 1351.9,1281.7 1352.6,1282.1 1353.4,1282.2 1354.2,1279.6 1355.0,1279.8 1355.8,1278.9 1356.6,1277.1 1357.4,1279.0 1358.2,1279.5 1359.0,1279.6 1359.8,1279.2 1360.6,1281.1 1361.3,1280.7 1362.0,1278.1 1362.8,1277.7 1363.5,1276.1 1364.5,1276.7 1365.5,1278.1" fill="none" stroke="#4a7ebb" stroke-width="2" stroke-linejoin="round"/><text x="51.4" y="1438.2" font-size="10.5" text-anchor="end">2,222</text><text x="51.4" y="1450.4" font-size="10.5" text-anchor="end">2,022</text><text x="51.4" y="1462.6" font-size="10.5" text-anchor="end">1,822</text><text x="51.4" y="1474.8" font-size="10.5" text-anchor="end">1,622</text><text x="51.4" y="1487.0" font-size="10.5" text-anchor="end">1,422</text><text x="51.4" y="1499.1" font-size="10.5" text-anchor="end">1,222</text><text x="51.4" y="1511.3" font-size="10.5" text-anchor="end">1,022</text><rect x="65" y="1508" width="680" height="1" fill="#d9d9d9"/><text transform="translate(70.6,1584.5) rotate(-90)" font-size="12" textLength="67" lengthAdjust="spacingAndGlyphs">2022-01-04</text><text transform="translate(98.6,1584.5) rotate(-90)" font-size="12" textLength="67" lengthAdjust="spacingAndGlyphs">2022-03-04</text><text transform="translate(126.7,1584.5) rotate(-90)" font-size="12" textLength="67" lengthAdjust="spacingAndGlyphs">2022-05-04</text><text transform="translate(154.7,1584.5) rotate(-90)" font-size="12" textLength="67" lengthAdjust="spacingAndGlyphs">2022-07-04</text><text transform="translate(182.8,1584.5) rotate(-90)" font-size="12" textLength="67" lengthAdjust="spacingAndGlyphs">2022-09-04</text><text transform="translate(210.9,1584.5) rotate(-90)" font-size="12" textLength="67" lengthAdjust="spacingAndGlyphs">2022-11-04</text><text transform="translate(238.9,1584.5) rotate(-90)" font-size="12" textLength="67" lengthAdjust="spacingAndGlyphs">2023-01-04</text><text transform="translate(267.0,1584.5) rotate(-90)" font-size="12" textLength="67" lengthAdjust="spacingAndGlyphs">2023-03-04</text><text transform="translate(295.0,1584.5) rotate(-90)" font-size="12" textLength="67" lengthAdjust="spacingAndGlyphs">2023-05-04</text><text transform="translate(323.1,1584.5) rotate(-90)" font-size="12" textLength="67" lengthAdjust="spacingAndGlyphs">2023-07-04</text><text transform="translate(351.2,1584.5) rotate(-90)" font-size="12" textLength="67" lengthAdjust="spacingAndGlyphs">2023-09-04</text><text transform="translate(379.2,1584.5) rotate(-90)" font-size="12" textLength="67" lengthAdjust="spacingAndGlyphs">2023-11-04</text><text transform="translate(407.3,1584.5) rotate(-90)" font-size="12" textLength="67" lengthAdjust="spacingAndGlyphs">2024-01-04</text><text transform="translate(435.3,1584.5) rotate(-90)" font-size="12" textLength="67" lengthAdjust="spacingAndGlyphs">2024-03-04</text><text transform="translate(463.4,1584.5) rotate(-90)" font-size="12" textLength="67" lengthAdjust="spacingAndGlyphs">2024-05-04</text><text transform="translate(491.4,1584.5) rotate(-90)" font-size="12" textLength="67" lengthAdjust="spacingAndGlyphs">2024-07-04</text><text transform="translate(519.5,1584.5) rotate(-90)" font-size="12" textLength="67" lengthAdjust="spacingAndGlyphs">2024-09-04</text><text transform="translate(547.6,1584.5) rotate(-90)" font-size="12" textLength="67" lengthAdjust="spacingAndGlyphs">2024-11-04</text><text transform="translate(575.6,1584.5) rotate(-90)" font-size="12" textLength="67" lengthAdjust="spacingAndGlyphs">2025-01-04</text><text transform="translate(603.7,1584.5) rotate(-90)" font-size="12" textLength="67" lengthAdjust="spacingAndGlyphs">2025-03-04</text><text transform="translate(631.7,1584.5) rotate(-90)" font-size="12" textLength="67" lengthAdjust="spacingAndGlyphs">2025-05-04</text><text transform="translate(659.8,1584.5) rotate(-90)" font-size="12" textLength="67" lengthAdjust="spacingAndGlyphs">2025-07-04</text><text transform="translate(687.9,1584.5) rotate(-90)" font-size="12" textLength="67" lengthAdjust="spacingAndGlyphs">2025-09-04</text><text transform="translate(715.9,1584.5) rotate(-90)" font-size="12" textLength="67" lengthAdjust="spacingAndGlyphs">2025-11-04</text><text transform="translate(744.0,1584.5) rotate(-90)" font-size="12" textLength="67" lengthAdjust="spacingAndGlyphs">2026-01-04</text><polyline points="65.4,1470.8 66.2,1470.7 66.9,1471.3 67.6,1469.8 68.3,1470.3 69.0,1470.3 69.7,1470.0 70.4,1470.4 71.1,1469.6 72.0,1467.8 72.8,1466.9 73.6,1464.6 74.4,1464.3 75.1,1464.2 75.9,1462.2 76.6,1461.8 77.3,1461.7 78.0,1461.0 78.8,1461.6 79.5,1459.8 80.2,1459.9 80.9,1460.2 81.6,1460.3 82.3,1459.2 82.8,1463.4 83.5,1462.3 84.3,1462.1 85.0,1461.8 85.8,1461.2 86.5,1460.7 87.2,1459.7 88.2,1455.7 89.2,1451.0 90.0,1449.6 90.7,1448.5 91.5,1447.1 92.2,1446.8 93.0,1446.9 93.9,1445.8 94.7,1446.1 95.5,1447.7 96.3,1450.9 97.2,1452.2 98.0,1453.3 98.8,1454.0 99.6,1454.7 100.5,1453.7 101.3,1452.4 102.1,1451.0 102.9,1453.0 103.6,1454.0 104.3,1455.2 105.1,1456.9 105.8,1459.2 106.6,1457.5 107.3,1457.2 108.1,1455.9 108.8,1455.0 109.5,1454.7 110.3,1453.7 111.0,1453.5 111.8,1452.1 112.5,1450.4 113.3,1449.8 114.0,1450.0 114.7,1448.8 115.5,1448.4 116.2,1448.5 117.0,1448.5 117.8,1446.7 118.6,1445.5 119.5,1443.6 120.2,1444.2 120.9,1445.4 121.7,1445.2 122.4,1447.2 123.2,1447.3 124.0,1447.5 124.8,1448.7 125.6,1448.5 126.4,1447.3 127.2,1448.1 128.0,1446.7 128.7,1447.2 129.5,1446.7 130.3,1446.0 131.1,1444.9 131.8,1444.8 132.5,1443.5 133.3,1443.3 134.0,1443.9 134.7,1442.1 135.4,1442.4 136.1,1441.8 136.8,1441.1 137.5,1443.1 138.3,1444.1 139.0,1445.7 139.8,1447.4 140.5,1449.8 141.2,1453.0 142.0,1454.5 142.7,1457.4 143.5,1459.8 144.2,1462.2 145.0,1462.1 145.9,1462.3 146.7,1463.4 147.4,1464.6 148.2,1467.9 148.9,1468.7 149.7,1472.1 150.4,1473.3 151.2,1472.8 151.9,1473.2 152.6,1472.0 153.4,1472.8 154.1,1472.1 154.9,1471.9 155.6,1472.3 156.4,1472.8 157.1,1472.4 157.8,1473.3 158.7,1470.7 159.5,1469.3 160.3,1466.6 161.1,1466.6 161.8,1467.1 162.6,1468.1 163.3,1467.6 164.0,1468.3 164.8,1467.0 165.5,1466.2 166.3,1465.6 167.0,1464.8 167.8,1464.1 168.5,1465.2 169.2,1465.8 170.0,1467.3 170.7,1466.8 171.5,1468.3 172.3,1467.4 173.1,1466.4 173.9,1464.6 174.7,1465.1 175.4,1465.6 176.1,1467.2 176.8,1467.6 177.5,1469.0 178.2,1470.3 178.9,1470.8 179.7,1470.0 180.4,1469.9 181.2,1470.3 182.0,1469.7 182.8,1469.6 183.5,1469.8 184.3,1469.1 185.1,1469.6 185.9,1469.7 186.7,1471.0 187.6,1472.1 188.3,1471.7 189.0,1472.1 189.7,1471.2 190.5,1470.1 191.2,1470.1 191.9,1470.6 192.6,1470.0 193.3,1470.2 194.1,1470.0 194.8,1469.5 195.5,1468.0 196.2,1468.3 197.0,1469.2 197.7,1468.7 198.5,1468.5 199.2,1468.5 200.0,1469.8 200.7,1468.9 201.4,1468.9 202.2,1469.4 202.9,1470.6 203.7,1470.1 204.4,1469.2 205.2,1468.8 205.9,1466.9 206.6,1466.6 207.4,1465.9 208.2,1466.1 208.9,1466.5 209.7,1467.7 210.5,1467.8 211.3,1467.9 212.0,1469.8 212.8,1469.5 213.6,1470.1 214.3,1469.3 215.0,1468.8 215.7,1469.6 216.4,1469.1 217.1,1468.1 217.8,1468.5 218.5,1468.3 219.2,1469.0 219.9,1468.9 220.7,1468.7 221.4,1469.3 222.1,1469.8 222.8,1470.1 223.5,1470.1 224.2,1470.1 224.9,1471.7 225.6,1472.5 226.3,1472.7 227.0,1473.5 227.7,1473.3 228.4,1474.0 229.3,1473.0 230.1,1470.2 230.9,1469.1 231.6,1469.3 232.3,1470.5 233.0,1471.5 233.7,1470.8 234.5,1471.6 235.2,1472.0 235.9,1473.3 236.6,1473.0 237.4,1472.4 238.1,1472.3 238.8,1473.0 239.6,1472.6 240.3,1473.0 241.1,1471.9 241.8,1472.2 242.6,1471.0 243.3,1471.6 244.0,1472.4 244.7,1471.4 245.4,1472.0 246.1,1472.2 246.8,1473.0 247.6,1472.4 248.3,1472.6 249.0,1473.2 249.7,1472.5 250.5,1471.7 251.2,1472.5 252.0,1471.3 252.7,1472.5 253.5,1471.5 254.2,1470.9 254.9,1472.0 255.7,1471.1 256.5,1471.0 257.2,1471.3 258.0,1471.4 258.8,1472.1 259.6,1471.2 260.3,1472.0 261.1,1471.8 261.9,1472.6 262.7,1473.8 263.4,1473.2 264.2,1474.9 265.0,1475.0 265.8,1476.0 266.5,1476.9 267.3,1477.9 268.1,1478.3 268.9,1478.9 269.7,1480.3 270.6,1482.0 271.3,1480.8 272.0,1481.6 272.7,1479.8 273.4,1479.3 274.1,1479.4 274.8,1478.9 275.5,1478.3 276.3,1479.3 277.1,1478.5 277.8,1479.2 278.6,1479.6 279.4,1480.7 280.2,1481.0 280.9,1481.4 281.7,1482.0 282.5,1483.4 283.4,1483.9 284.2,1484.5 285.0,1484.9 285.7,1484.9 286.5,1483.6 287.3,1484.5 288.0,1483.5 288.8,1482.8 289.6,1484.0 290.4,1483.2 291.1,1483.1 291.9,1483.4 292.6,1484.4 293.3,1484.9 294.1,1485.7 294.9,1486.8 295.6,1487.1 296.4,1486.8 297.2,1487.3 298.0,1488.3 298.7,1488.6 299.5,1488.8 300.3,1488.9 301.1,1488.5 301.8,1487.5 302.6,1487.3 303.4,1487.6 304.1,1487.0 304.9,1487.0 305.7,1486.7 306.5,1485.7 307.3,1484.8 308.1,1481.9 308.9,1480.7 309.7,1479.7 310.5,1480.8 311.3,1479.9 312.0,1479.0 312.8,1479.5 313.6,1478.5 314.4,1478.1 315.1,1478.3 316.0,1476.8 316.8,1475.8 317.6,1474.5 318.4,1474.6 319.1,1473.4 319.8,1474.2 320.6,1473.7 321.3,1473.3 322.1,1473.3 322.8,1473.3 323.6,1471.8 324.3,1472.3 325.0,1472.1 325.8,1472.7 326.5,1473.1 327.2,1473.4 327.9,1473.0 328.7,1474.7 329.4,1474.8 330.1,1474.2 330.8,1474.9 331.6,1476.1 332.3,1475.3 333.0,1476.0 333.7,1476.5 334.5,1476.8 335.2,1476.2 335.9,1474.6 336.7,1474.9 337.4,1474.0 338.2,1473.6 339.0,1473.9 339.8,1473.9 340.5,1472.7 341.3,1472.7 342.1,1472.5 342.9,1472.4 343.6,1472.6 344.4,1472.5 345.1,1473.3 345.9,1474.3 346.6,1475.0 347.3,1475.8 348.1,1475.6 348.9,1476.8 349.7,1477.9 350.4,1477.8 351.2,1477.9 352.0,1478.9 352.8,1478.9 353.5,1479.5 354.3,1479.1 355.0,1479.8 355.7,1479.2 356.4,1480.4 357.1,1479.8 357.9,1480.3 358.6,1481.4 359.3,1481.2 360.0,1481.5 360.8,1481.4 361.5,1481.5 362.2,1481.5 362.9,1481.9 363.7,1482.4 364.4,1481.3 365.2,1482.3 365.9,1481.7 366.7,1481.7 367.4,1482.7 368.1,1482.4 368.9,1482.9 369.6,1482.5 370.4,1482.6 371.2,1481.7 372.0,1480.7 372.7,1480.0 373.5,1480.4 374.3,1480.2 375.1,1479.1 375.8,1479.0 376.6,1478.2 377.3,1477.9 378.1,1478.0 378.8,1478.7 379.5,1478.3 380.3,1477.9 381.0,1478.7 381.7,1479.1 382.4,1480.2 383.2,1481.1 383.9,1480.0 384.6,1480.5 385.3,1482.3 386.0,1482.7 386.8,1481.8 387.5,1482.5 388.2,1483.2 389.0,1483.4 389.7,1483.3 390.4,1483.6 391.2,1483.8 391.9,1483.7 392.7,1483.5 393.4,1483.7 394.2,1484.0 394.9,1484.0 395.6,1485.1 396.4,1485.3 397.1,1484.8 397.9,1485.8 398.6,1485.9 399.4,1485.7 400.1,1485.8 400.8,1486.3 401.6,1486.2 402.3,1487.7 403.1,1487.4 403.8,1486.9 404.6,1487.4 405.3,1488.6 406.0,1488.4 406.8,1488.9 407.6,1489.3 408.4,1488.5 409.1,1489.4 409.9,1488.9 410.7,1489.9 411.4,1489.3 412.1,1490.5 412.9,1490.4 413.6,1491.4 414.4,1491.7 415.1,1491.9 415.9,1491.9 416.6,1491.0 417.3,1490.7 418.1,1491.6 418.8,1491.5 419.6,1490.8 420.3,1490.9 421.1,1491.5 421.8,1490.8 422.5,1491.6 423.3,1491.0 424.0,1491.0 424.8,1491.4 425.5,1490.4 426.2,1489.8 426.9,1489.3 427.6,1487.4 428.3,1487.7 429.0,1486.1 429.7,1485.7 430.5,1485.0 431.2,1485.2 432.0,1484.9 432.7,1484.4 433.4,1484.5 434.2,1483.0 434.9,1482.8 435.7,1483.0 436.4,1482.0 437.2,1482.0 437.9,1481.6 438.7,1481.8 439.5,1482.9 440.3,1483.1 441.0,1483.1 441.8,1483.6 442.6,1483.5 443.3,1483.2 444.1,1483.2 444.9,1483.5 445.7,1484.5 446.4,1483.7 447.2,1484.9 448.0,1484.4 448.8,1484.7 449.5,1485.7 450.3,1485.4 451.0,1484.6 451.7,1485.6 452.4,1485.2 453.2,1484.3 453.9,1483.6 454.6,1483.2 455.3,1483.6 456.0,1483.3 456.8,1482.8 457.5,1483.1 458.2,1482.5 458.9,1482.3 459.7,1482.5 460.4,1481.2 461.1,1481.0 461.8,1481.3 462.5,1481.2 463.3,1480.6 464.0,1481.1 464.7,1480.2 465.4,1480.1 466.2,1480.2 466.9,1480.0 467.6,1480.7 468.3,1481.1 469.0,1480.8 469.7,1481.3 470.4,1482.4 471.1,1482.8 471.8,1482.5 472.6,1482.9 473.3,1482.2 474.1,1483.0 474.8,1483.5 475.6,1483.1 476.3,1482.9 477.0,1484.6 477.8,1484.7 478.5,1483.7 479.3,1484.5 480.0,1484.1 480.7,1484.1 481.4,1483.3 482.1,1482.6 482.8,1483.4 483.5,1483.2 484.2,1482.5 485.0,1483.4 485.7,1483.8 486.5,1485.3 487.2,1485.8 487.9,1487.4 488.7,1488.1 489.4,1486.5 490.2,1486.8 490.9,1487.5 491.7,1486.3 492.4,1486.2 493.1,1486.0 493.9,1486.1 494.6,1486.6 495.4,1486.4 496.1,1487.5 496.8,1486.9 497.5,1487.4 498.3,1488.8 499.0,1488.8 499.7,1489.1 500.4,1489.3 501.1,1490.0 501.9,1491.6 502.6,1490.8 503.3,1491.5 504.0,1492.4 504.8,1492.3 505.5,1492.2 506.3,1491.8 507.0,1490.6 507.8,1491.0 508.5,1490.0 509.2,1489.1 510.0,1489.0 510.7,1488.9 511.5,1488.2 512.2,1488.4 513.0,1487.3 513.8,1487.2 514.6,1488.3 515.3,1486.8 516.1,1487.7 516.9,1486.8 517.7,1486.9 518.4,1485.8 519.2,1485.2 520.0,1484.8 520.8,1485.0 521.5,1483.0 522.3,1483.4 523.1,1481.9 523.9,1481.5 524.6,1481.0 525.3,1482.0 526.0,1481.5 526.7,1481.3 527.5,1481.8 528.2,1482.5 528.9,1482.6 529.6,1482.3 530.4,1481.4 531.1,1482.7 531.8,1482.6 532.5,1482.5 533.3,1482.3 534.0,1481.5 534.8,1479.7 535.5,1479.7 536.2,1478.3 537.0,1478.5 537.7,1477.4 538.5,1477.3 539.2,1477.1 540.0,1476.8 540.7,1476.6 541.4,1475.9 542.2,1475.8 542.9,1476.7 543.7,1475.8 544.4,1476.8 545.1,1478.3 545.8,1479.9 546.5,1480.9 547.2,1481.2 547.9,1483.5 548.6,1484.0 549.3,1483.8 550.0,1483.5 550.7,1482.4 551.5,1481.8 552.2,1481.3 552.9,1479.7 553.6,1479.5 554.3,1480.3 555.0,1480.4 555.7,1481.6 556.4,1481.0 557.1,1482.2 557.8,1482.4 558.5,1483.2 559.3,1485.2 560.0,1485.9 560.8,1488.2 561.5,1489.7 562.2,1490.6 563.0,1491.2 563.8,1489.9 564.6,1491.1 565.3,1490.7 566.1,1490.5 566.9,1490.3 567.7,1489.3 568.4,1489.9 569.1,1490.5 569.9,1489.9 570.6,1489.7 571.3,1489.5 572.0,1490.2 572.7,1490.1 573.4,1490.2 574.1,1489.2 574.8,1489.3 575.5,1489.1 576.2,1488.9 576.9,1489.2 577.6,1488.7 578.4,1489.4 579.1,1489.4 579.8,1488.0 580.6,1487.2 581.3,1486.7 582.1,1487.3 582.8,1485.9 583.6,1485.9 584.3,1485.3 585.0,1485.4 585.8,1484.5 586.5,1485.1 587.2,1484.0 587.9,1484.4 588.6,1484.8 589.3,1484.0 590.0,1484.7 590.7,1484.0 591.4,1484.8 592.2,1484.5 592.9,1485.8 593.6,1485.8 594.3,1485.4 595.0,1486.6 595.7,1486.9 596.4,1487.2 597.1,1486.4 597.8,1486.1 598.5,1485.7 599.2,1486.1 599.9,1485.5 600.6,1484.9 601.4,1484.4 602.1,1484.6 602.8,1484.5 603.5,1485.4 604.2,1484.9 604.9,1483.9 605.6,1485.1 606.3,1483.6 607.0,1484.5 607.7,1484.1 608.4,1484.5 609.1,1484.0 609.8,1483.4 610.6,1484.0 611.3,1484.5 612.0,1485.5 612.7,1485.9 613.4,1485.7 614.1,1486.0 614.8,1487.3 615.5,1487.4 616.2,1488.1 617.0,1487.3 617.7,1488.5 618.5,1488.8 619.2,1488.1 620.0,1488.1 620.7,1488.8 621.5,1489.3 622.2,1488.3 622.9,1488.9 623.6,1488.6 624.4,1488.6 625.1,1489.2 625.8,1488.3 626.5,1488.8 627.2,1488.7 627.9,1488.9 628.6,1488.1 629.3,1489.3 630.0,1489.4 630.7,1488.6 631.4,1489.0 632.1,1487.9 632.8,1489.1 633.6,1488.5 634.3,1488.8 635.0,1488.9 635.7,1488.1 636.4,1488.9 637.1,1487.7 637.8,1488.2 638.5,1487.0 639.3,1487.3 640.0,1487.5 640.8,1487.1 641.5,1486.8 642.3,1485.7 643.0,1485.9 643.7,1484.9 644.5,1483.8 645.2,1484.0 645.9,1484.6 646.6,1485.3 647.4,1485.1 648.1,1485.8 648.8,1485.7 649.5,1486.1 650.2,1486.9 650.9,1486.5 651.6,1486.3 652.4,1485.9 653.1,1485.0 653.8,1484.6 654.5,1484.8 655.2,1485.1 656.0,1484.8 656.7,1483.7 657.4,1483.4 658.1,1483.5 658.9,1483.2 659.6,1482.7 660.3,1483.4 661.1,1483.9 661.8,1482.7 662.6,1483.3 663.3,1483.6 664.1,1483.6 664.8,1483.6 665.5,1483.5 666.3,1483.2 667.0,1482.1 667.7,1482.3 668.4,1481.8 669.1,1479.7 669.8,1480.4 670.5,1478.9 671.2,1478.3 672.0,1477.8 672.7,1478.0 673.4,1479.4 674.1,1479.4 674.9,1478.7 675.6,1479.4 676.3,1479.9 677.0,1480.7 677.7,1479.9 678.5,1480.7 679.2,1480.1 679.9,1480.7 680.6,1480.4 681.4,1480.4 682.1,1480.9 682.8,1481.3 683.5,1480.9 684.2,1480.8 685.0,1481.0 685.7,1480.9 686.4,1481.2 687.1,1481.5 687.9,1481.9 688.6,1482.0 689.3,1481.5 690.1,1482.0 690.8,1482.0 691.6,1482.9 692.3,1482.2 693.0,1483.0 693.8,1482.3 694.5,1481.9 695.3,1482.6 696.0,1482.5 696.8,1482.0 697.5,1482.2 698.2,1482.2 699.0,1483.3 699.7,1483.9 700.5,1483.1 701.2,1483.2 702.0,1483.4 702.7,1483.4 703.4,1484.1 704.2,1483.7 704.9,1483.5 705.7,1484.8 706.4,1484.4 707.2,1484.5 707.9,1483.5 708.6,1484.8 709.4,1484.4 710.1,1483.7 710.9,1484.0 711.6,1484.4 712.4,1483.4 713.1,1483.4 713.8,1483.0 714.6,1483.2 715.3,1483.4 716.1,1483.7 716.8,1484.0 717.6,1484.4 718.3,1483.3 719.0,1483.7 719.8,1484.6 720.5,1484.7 721.3,1484.5 722.0,1484.5 722.8,1485.1 723.5,1484.9 724.3,1486.3 725.0,1486.0 725.7,1486.2 726.5,1486.2 727.2,1486.4 728.0,1488.1 728.7,1488.3 729.5,1488.2 730.2,1487.3 730.9,1487.7 731.7,1487.9 732.4,1487.9 733.2,1487.6 733.9,1488.4 734.7,1487.4 735.4,1487.6 736.1,1488.2 736.9,1487.4 737.6,1487.6 738.3,1487.4 739.0,1487.2 739.8,1487.2 740.5,1487.6 741.2,1487.9 741.9,1487.0 742.6,1487.2 743.4,1487.2 744.1,1487.2 744.8,1487.4" fill="none" stroke="#4a7ebb" stroke-width="2" stroke-linejoin="round"/><text x="814.0" y="1439.1" font-size="10.5" text-anchor="end">982</text><text x="814.0" y="1463.6" font-size="10.5" text-anchor="end">882</text><text x="814.0" y="1488.1" font-size="10.5" text-anchor="end">782</text><text x="814.0" y="1512.6" font-size="10.5" text-anchor="end">682</text><text x="814.0" y="1537.1" font-size="10.5" text-anchor="end">582</text><text x="814.0" y="1561.6" font-size="10.5" text-anchor="end">482</text><rect x="827" y="1559" width="537" height="1" fill="#d9d9d9"/><clipPath id="ca"><rect x="0" y="0" width="1379" height="2372"/></clipPath><g clip-path="url(#ca)"><text x="794.2" y="1581.4" font-size="12" textLength="68" lengthAdjust="spacingAndGlyphs">2022-01-04</text><text x="925.9" y="1581.4" font-size="12" textLength="68" lengthAdjust="spacingAndGlyphs">2023-01-04</text><text x="1058.9" y="1581.4" font-size="12" textLength="68" lengthAdjust="spacingAndGlyphs">2024-01-04</text><text x="1191.6" y="1581.4" font-size="12" textLength="68" lengthAdjust="spacingAndGlyphs">2025-01-04</text><text x="1323.5" y="1581.4" font-size="12" textLength="68" lengthAdjust="spacingAndGlyphs">2026-01-04</text></g><polyline points="827.5,1481.9 828.9,1478.6 829.9,1483.6 830.9,1486.5 831.6,1484.4 832.4,1481.4 833.1,1479.4 833.9,1477.6 834.9,1480.9 835.9,1482.5 836.6,1480.4 837.3,1480.5 838.1,1477.6 838.8,1477.6 839.8,1478.9 840.8,1481.9 841.6,1478.2 842.3,1477.6 843.0,1473.3 843.8,1471.6 844.8,1472.4 845.8,1474.6 846.6,1469.8 847.3,1466.7 848.1,1463.7 849.0,1464.6 849.9,1464.9 850.7,1464.7 851.7,1476.2 852.7,1485.5 853.4,1485.2 854.2,1482.6 854.9,1482.1 855.7,1479.5 856.4,1479.1 857.2,1481.8 857.9,1481.2 858.6,1481.9 859.6,1475.0 860.6,1469.6 861.4,1471.5 862.1,1473.0 862.9,1473.1 863.6,1474.6 864.3,1471.8 865.1,1472.1 865.8,1470.0 866.6,1467.7 867.6,1464.9 868.6,1461.7 869.3,1461.0 870.0,1456.5 870.8,1454.6 871.5,1453.8 872.3,1458.7 873.1,1465.7 874.0,1462.9 874.8,1463.2 875.6,1461.6 876.5,1459.7 877.2,1460.0 878.0,1461.3 878.7,1462.6 879.5,1464.7 880.4,1466.5 881.4,1467.7 882.2,1467.9 883.0,1468.5 883.8,1466.7 884.6,1468.1 885.4,1466.7 886.2,1467.1 887.0,1467.6 887.8,1467.8 888.6,1468.3 889.4,1469.6 890.2,1469.5 890.9,1468.1 891.7,1466.0 892.5,1463.2 893.3,1462.7 894.1,1463.6 894.8,1465.3 895.6,1467.5 896.3,1469.6 897.0,1469.5 897.8,1467.0 898.5,1467.5 899.3,1466.7 900.1,1468.1 900.9,1467.4 901.6,1469.5 902.4,1471.4 903.2,1471.6 904.0,1472.1 904.7,1472.0 905.5,1473.4 906.2,1472.6 907.0,1470.4 907.7,1467.2 908.4,1464.9 909.2,1462.7 909.9,1462.9 910.6,1461.7 911.3,1460.8 912.0,1458.9 912.7,1456.8 913.4,1455.9 914.1,1455.8 914.9,1456.9 915.6,1459.2 916.4,1458.9 917.1,1461.7 917.8,1462.0 918.6,1461.5 919.3,1460.3 920.1,1459.7 920.8,1460.9 921.6,1465.5 922.3,1466.9 923.1,1469.6 923.8,1469.1 924.6,1467.8 925.4,1467.3 926.2,1465.4 927.0,1464.7 927.7,1465.6 928.4,1465.3 929.1,1464.9 929.8,1463.8 930.6,1462.8 931.3,1462.7 932.0,1462.7 932.7,1463.8 933.5,1467.2 934.2,1468.7 934.9,1469.6 935.7,1470.6 936.5,1470.9 937.3,1471.5 938.1,1470.9 938.9,1470.6 939.9,1473.1 940.9,1476.6 941.7,1477.8 942.5,1477.1 943.3,1478.6 944.1,1478.1 944.9,1479.5 945.6,1480.3 946.3,1479.2 947.0,1478.5 947.7,1480.1 948.4,1477.8 949.1,1479.8 949.8,1478.6 950.5,1480.2 951.2,1479.6 951.9,1482.2 952.6,1482.7 953.3,1484.6 954.1,1484.7 954.8,1485.5 955.6,1484.5 956.3,1485.0 957.1,1482.0 957.9,1483.0 958.7,1481.5 959.5,1481.5 960.3,1482.9 961.1,1483.5 961.9,1486.5 962.7,1486.5 963.5,1485.5 964.3,1485.5 965.1,1483.5 965.9,1483.9 966.7,1482.5 967.4,1482.9 968.2,1481.5 969.0,1482.5 969.8,1483.1 970.6,1482.5 971.4,1482.5 972.1,1484.4 972.8,1484.2 973.6,1485.5 974.3,1481.9 975.1,1480.1 975.8,1477.0 976.6,1472.6 977.3,1472.9 978.0,1470.4 978.8,1469.8 979.5,1468.6 980.3,1469.9 981.0,1470.3 981.8,1470.0 982.5,1470.6 983.3,1473.0 984.1,1473.1 984.9,1476.0 985.7,1476.1 986.5,1477.6 987.2,1476.1 988.0,1477.2 988.7,1475.2 989.4,1475.6 990.1,1477.2 990.9,1476.7 991.6,1480.2 992.3,1480.2 993.0,1481.9 993.7,1481.4 994.4,1483.5 995.4,1486.8 996.4,1489.5 997.2,1487.5 998.0,1485.6 998.8,1485.5 999.5,1481.9 1000.3,1481.5 1001.1,1481.1 1001.9,1479.7 1002.7,1481.3 1003.5,1481.0 1004.3,1479.5 1005.0,1480.8 1005.8,1484.4 1006.5,1486.9 1007.3,1489.5 1008.0,1490.3 1008.7,1490.6 1009.4,1489.9 1010.1,1491.7 1010.8,1490.1 1011.5,1490.2 1012.2,1491.4 1013.0,1493.2 1013.8,1492.4 1014.6,1493.6 1015.4,1495.4 1016.2,1496.4 1016.9,1495.8 1017.7,1495.2 1018.4,1497.0 1019.2,1495.6 1019.9,1496.3 1020.7,1494.7 1021.4,1496.2 1022.1,1495.0 1022.8,1493.3 1023.6,1494.2 1024.3,1492.5 1025.0,1492.5 1025.7,1491.0 1026.4,1489.7 1027.1,1488.5 1027.8,1490.8 1028.6,1493.8 1029.3,1495.0 1030.1,1497.4 1030.8,1494.8 1031.5,1495.3 1032.2,1493.5 1032.9,1491.6 1033.6,1490.2 1034.3,1487.3 1035.0,1486.5 1035.8,1485.7 1036.6,1486.0 1037.4,1485.7 1038.2,1484.9 1039.0,1483.1 1039.8,1483.3 1040.6,1485.7 1041.4,1486.5 1042.2,1487.1 1042.9,1488.5 1043.9,1485.1 1044.9,1483.5 1045.6,1483.0 1046.3,1484.3 1047.1,1484.8 1047.8,1484.6 1048.5,1485.3 1049.2,1486.2 1049.9,1486.5 1050.7,1486.4 1051.5,1485.1 1052.3,1483.2 1053.1,1484.3 1053.8,1482.5 1054.6,1482.0 1055.4,1483.3 1056.2,1483.2 1057.0,1480.8 1057.8,1481.5 1058.6,1482.9 1059.4,1485.1 1060.2,1484.8 1061.0,1486.4 1061.8,1487.5 1062.8,1475.6 1063.8,1464.7 1064.5,1466.7 1065.2,1470.4 1066.0,1473.4 1066.7,1477.6 1067.5,1476.8 1068.2,1477.4 1069.0,1477.0 1069.7,1476.6 1070.7,1474.3 1071.7,1469.6 1072.5,1469.1 1073.3,1467.3 1074.1,1467.8 1074.9,1466.0 1075.6,1464.7 1076.4,1457.4 1077.2,1449.8 1078.0,1454.4 1078.8,1457.5 1079.6,1460.7 1080.4,1462.6 1081.1,1465.4 1081.8,1466.9 1082.6,1469.6 1083.4,1472.4 1084.2,1472.1 1085.0,1475.6 1085.8,1474.8 1086.5,1477.6 1087.3,1477.0 1088.0,1479.2 1088.8,1479.0 1089.5,1480.6 1090.3,1480.3 1091.0,1482.9 1091.7,1483.2 1092.5,1483.5 1093.2,1484.7 1094.0,1486.1 1094.7,1487.0 1095.5,1486.5 1096.2,1488.9 1097.0,1491.0 1097.7,1491.1 1098.4,1494.4 1099.2,1493.0 1099.9,1493.8 1100.7,1494.9 1101.4,1493.0 1102.2,1493.4 1102.9,1493.0 1103.7,1493.3 1104.4,1496.0 1105.2,1498.8 1105.9,1499.4 1106.7,1499.6 1107.5,1500.2 1108.3,1498.1 1109.1,1498.6 1109.9,1499.4 1110.9,1495.6 1111.8,1493.4 1112.7,1490.8 1113.6,1485.5 1114.4,1483.1 1115.2,1486.3 1116.0,1486.7 1116.8,1489.5 1117.5,1490.8 1118.3,1490.2 1119.0,1490.1 1119.8,1492.2 1120.5,1491.1 1121.3,1492.2 1122.0,1490.9 1122.7,1492.4 1123.5,1494.4 1124.2,1496.0 1125.0,1494.8 1125.7,1497.0 1126.5,1496.9 1127.3,1495.0 1128.1,1493.9 1128.9,1493.8 1129.7,1493.4 1130.5,1492.6 1131.4,1492.1 1132.2,1491.0 1133.0,1488.5 1133.9,1491.1 1134.8,1491.4 1135.6,1492.4 1136.6,1492.3 1137.6,1491.4 1138.6,1486.5 1139.3,1485.9 1140.1,1487.7 1140.8,1487.6 1141.6,1487.4 1142.3,1489.1 1143.1,1487.8 1143.8,1487.8 1144.5,1489.1 1145.3,1489.0 1146.1,1489.7 1146.9,1491.7 1147.7,1493.0 1148.5,1493.0 1149.3,1493.2 1150.1,1495.2 1150.9,1496.4 1151.7,1497.5 1152.5,1498.4 1153.2,1497.6 1154.0,1497.3 1154.7,1495.4 1155.4,1494.9 1156.2,1495.3 1156.9,1494.3 1157.7,1495.1 1158.4,1493.8 1159.2,1493.7 1160.0,1495.7 1160.8,1494.7 1161.6,1494.8 1162.4,1496.4 1163.1,1496.4 1163.8,1496.3 1164.5,1496.2 1165.2,1497.4 1165.9,1496.1 1166.6,1497.3 1167.3,1497.0 1168.1,1498.3 1168.9,1497.8 1169.7,1498.4 1170.5,1500.0 1171.3,1499.4 1172.0,1500.7 1172.8,1500.7 1173.5,1501.5 1174.3,1503.7 1175.0,1502.9 1175.7,1503.7 1176.4,1503.3 1177.1,1505.0 1177.8,1504.7 1178.5,1504.6 1179.2,1505.3 1180.0,1506.5 1180.8,1508.8 1181.6,1508.2 1182.4,1509.2 1183.2,1511.3 1184.0,1510.2 1184.8,1509.6 1185.6,1510.5 1186.4,1509.4 1187.2,1508.3 1187.9,1507.6 1188.7,1506.4 1189.5,1505.6 1190.3,1505.2 1191.1,1505.7 1191.9,1507.5 1192.7,1507.9 1193.5,1507.5 1194.3,1509.7 1195.1,1510.3 1195.8,1508.6 1196.6,1509.3 1197.3,1508.3 1198.1,1508.3 1198.8,1507.0 1199.5,1508.4 1200.3,1508.1 1201.0,1507.3 1202.0,1492.4 1202.8,1493.6 1203.5,1493.8 1204.2,1496.3 1205.0,1497.0 1206.0,1495.5 1207.0,1494.4 1208.0,1497.5 1209.0,1499.8 1209.7,1499.1 1210.4,1501.5 1211.1,1499.6 1211.8,1500.5 1212.5,1501.3 1213.2,1501.2 1213.9,1502.3 1214.6,1502.5 1215.4,1505.3 1216.1,1507.3 1216.9,1507.3 1217.6,1508.9 1218.4,1510.8 1219.1,1514.0 1219.9,1515.6 1220.6,1514.8 1221.3,1515.3 1222.1,1516.0 1222.8,1515.2 1223.6,1514.5 1224.3,1514.2 1225.1,1515.4 1225.8,1515.2 1226.8,1517.7 1227.8,1517.6 1228.5,1518.0 1229.3,1515.2 1230.0,1515.5 1230.8,1514.8 1231.5,1513.2 1232.2,1510.8 1233.0,1510.4 1233.7,1508.3 1234.5,1509.5 1235.2,1511.6 1236.0,1511.5 1236.7,1513.2 1237.4,1513.5 1238.1,1512.2 1238.8,1510.4 1239.5,1508.7 1240.2,1508.7 1240.9,1506.8 1241.7,1506.9 1242.4,1507.3 1243.2,1507.2 1244.0,1506.7 1244.8,1507.7 1245.6,1506.3 1246.3,1505.8 1247.0,1508.2 1247.7,1509.0 1248.4,1507.9 1249.2,1509.1 1249.9,1509.0 1250.6,1510.9 1251.3,1511.4 1252.1,1512.1 1252.8,1511.5 1253.5,1512.2 1254.5,1509.8 1255.5,1506.3 1256.3,1507.0 1257.1,1509.0 1257.9,1508.9 1258.7,1511.8 1259.5,1511.6 1260.2,1510.8 1261.0,1509.0 1261.7,1508.6 1262.5,1509.6 1263.2,1509.3 1263.9,1508.0 1264.7,1506.1 1265.4,1506.3 1266.2,1507.9 1267.0,1508.1 1267.8,1507.1 1268.6,1508.4 1269.4,1509.3 1270.1,1509.7 1270.9,1508.0 1271.6,1508.1 1272.4,1509.3 1273.2,1509.9 1274.0,1512.2 1274.7,1513.5 1275.5,1512.8 1276.3,1514.2 1277.1,1515.4 1277.8,1515.1 1278.6,1515.4 1279.3,1514.8 1280.0,1515.8 1280.8,1515.0 1281.5,1515.9 1282.3,1514.8 1283.0,1514.3 1283.8,1512.7 1284.5,1512.9 1285.2,1512.2 1286.2,1507.7 1287.2,1503.3 1288.0,1501.4 1288.7,1500.0 1289.5,1498.9 1290.2,1497.4 1290.9,1498.4 1291.7,1498.1 1292.4,1499.0 1293.2,1500.4 1294.0,1500.5 1294.8,1500.6 1295.6,1500.5 1296.3,1501.3 1297.1,1500.9 1297.9,1501.0 1298.6,1502.7 1299.4,1502.9 1300.1,1504.3 1300.9,1503.8 1301.7,1502.5 1302.5,1501.5 1303.3,1499.6 1304.1,1498.4 1304.8,1498.9 1305.5,1501.7 1306.2,1501.8 1306.9,1502.6 1307.6,1503.5 1308.3,1504.9 1309.0,1506.3 1309.8,1506.6 1310.6,1506.6 1311.4,1505.4 1312.2,1505.8 1313.0,1504.9 1313.8,1505.0 1314.6,1506.5 1315.4,1507.2 1316.2,1507.9 1317.0,1509.3 1317.8,1510.2 1318.5,1512.5 1319.3,1513.7 1320.1,1513.6 1320.9,1515.6 1321.7,1514.3 1322.4,1515.2 1323.2,1514.2 1323.9,1513.2 1324.6,1515.4 1325.4,1517.1 1326.1,1518.9 1326.9,1520.2 1327.7,1517.2 1328.5,1514.3 1329.2,1512.7 1330.0,1509.4 1330.8,1508.3 1331.6,1509.5 1332.3,1508.3 1333.1,1508.7 1333.8,1508.3 1334.5,1512.5 1335.3,1515.0 1336.0,1516.5 1336.8,1520.2 1337.5,1518.0 1338.3,1515.7 1339.0,1515.7 1339.7,1513.2 1340.5,1515.3 1341.2,1516.2 1342.0,1517.4 1342.7,1519.2 1343.7,1517.4 1344.7,1516.8 1345.4,1517.6 1346.2,1518.9 1346.9,1520.2 1347.7,1520.9 1348.4,1521.7 1349.2,1521.4 1349.9,1522.1 1350.6,1523.1 1351.4,1523.2 1352.1,1525.5 1352.9,1524.0 1353.6,1524.4 1354.4,1525.3 1355.1,1527.5 1355.9,1527.9 1356.6,1527.5 1357.4,1526.2 1358.2,1526.7 1359.0,1525.9 1359.8,1523.8 1360.6,1523.1 1361.5,1523.3 1362.5,1525.1 1363.5,1528.3 1364.5,1530.1" fill="none" stroke="#4a7ebb" stroke-width="2" stroke-linejoin="round"/><text x="66.9" y="1684.0" font-size="10.5" text-anchor="end">2,578</text><text x="66.9" y="1695.0" font-size="10.5" text-anchor="end">2,378</text><text x="66.9" y="1706.0" font-size="10.5" text-anchor="end">2,178</text><text x="66.9" y="1716.9" font-size="10.5" text-anchor="end">1,978</text><text x="66.9" y="1727.9" font-size="10.5" text-anchor="end">1,778</text><text x="66.9" y="1738.9" font-size="10.5" text-anchor="end">1,578</text><text x="66.9" y="1749.9" font-size="10.5" text-anchor="end">1,378</text><text x="66.9" y="1760.8" font-size="10.5" text-anchor="end">1,178</text><rect x="80" y="1757" width="667" height="1" fill="#d9d9d9"/><text transform="translate(85.4,1834.0) rotate(-90)" font-size="12" textLength="67" lengthAdjust="spacingAndGlyphs">2022-01-04</text><text transform="translate(112.9,1834.0) rotate(-90)" font-size="12" textLength="67" lengthAdjust="spacingAndGlyphs">2022-03-04</text><text transform="translate(140.4,1834.0) rotate(-90)" font-size="12" textLength="67" lengthAdjust="spacingAndGlyphs">2022-05-04</text><text transform="translate(167.9,1834.0) rotate(-90)" font-size="12" textLength="67" lengthAdjust="spacingAndGlyphs">2022-07-04</text><text transform="translate(195.4,1834.0) rotate(-90)" font-size="12" textLength="67" lengthAdjust="spacingAndGlyphs">2022-09-04</text><text transform="translate(222.9,1834.0) rotate(-90)" font-size="12" textLength="67" lengthAdjust="spacingAndGlyphs">2022-11-04</text><text transform="translate(250.4,1834.0) rotate(-90)" font-size="12" textLength="67" lengthAdjust="spacingAndGlyphs">2023-01-04</text><text transform="translate(277.9,1834.0) rotate(-90)" font-size="12" textLength="67" lengthAdjust="spacingAndGlyphs">2023-03-04</text><text transform="translate(305.4,1834.0) rotate(-90)" font-size="12" textLength="67" lengthAdjust="spacingAndGlyphs">2023-05-04</text><text transform="translate(332.9,1834.0) rotate(-90)" font-size="12" textLength="67" lengthAdjust="spacingAndGlyphs">2023-07-04</text><text transform="translate(360.4,1834.0) rotate(-90)" font-size="12" textLength="67" lengthAdjust="spacingAndGlyphs">2023-09-04</text><text transform="translate(387.9,1834.0) rotate(-90)" font-size="12" textLength="67" lengthAdjust="spacingAndGlyphs">2023-11-04</text><text transform="translate(415.4,1834.0) rotate(-90)" font-size="12" textLength="67" lengthAdjust="spacingAndGlyphs">2024-01-04</text><text transform="translate(442.9,1834.0) rotate(-90)" font-size="12" textLength="67" lengthAdjust="spacingAndGlyphs">2024-03-04</text><text transform="translate(470.4,1834.0) rotate(-90)" font-size="12" textLength="67" lengthAdjust="spacingAndGlyphs">2024-05-04</text><text transform="translate(497.9,1834.0) rotate(-90)" font-size="12" textLength="67" lengthAdjust="spacingAndGlyphs">2024-07-04</text><text transform="translate(525.4,1834.0) rotate(-90)" font-size="12" textLength="67" lengthAdjust="spacingAndGlyphs">2024-09-04</text><text transform="translate(552.9,1834.0) rotate(-90)" font-size="12" textLength="67" lengthAdjust="spacingAndGlyphs">2024-11-04</text><text transform="translate(580.4,1834.0) rotate(-90)" font-size="12" textLength="67" lengthAdjust="spacingAndGlyphs">2025-01-04</text><text transform="translate(607.9,1834.0) rotate(-90)" font-size="12" textLength="67" lengthAdjust="spacingAndGlyphs">2025-03-04</text><text transform="translate(635.4,1834.0) rotate(-90)" font-size="12" textLength="67" lengthAdjust="spacingAndGlyphs">2025-05-04</text><text transform="translate(662.9,1834.0) rotate(-90)" font-size="12" textLength="67" lengthAdjust="spacingAndGlyphs">2025-07-04</text><text transform="translate(690.4,1834.0) rotate(-90)" font-size="12" textLength="67" lengthAdjust="spacingAndGlyphs">2025-09-04</text><text transform="translate(717.9,1834.0) rotate(-90)" font-size="12" textLength="67" lengthAdjust="spacingAndGlyphs">2025-11-04</text><text transform="translate(745.4,1834.0) rotate(-90)" font-size="12" textLength="67" lengthAdjust="spacingAndGlyphs">2026-01-04</text><polyline points="80.4,1718.3 81.2,1717.5 81.9,1716.5 82.7,1717.1 83.4,1715.8 84.2,1715.1 84.9,1714.6 85.7,1713.8 86.4,1712.3 87.1,1710.9 87.9,1710.5 88.6,1709.7 89.4,1711.1 90.3,1712.2 91.1,1714.6 91.8,1713.9 92.6,1714.1 93.3,1712.9 94.1,1712.9 94.8,1712.2 95.6,1711.6 96.3,1710.2 97.0,1709.2 97.8,1709.5 98.5,1708.4 99.3,1708.4 100.0,1707.6 100.8,1707.2 101.5,1708.0 102.2,1707.2 103.0,1707.8 103.7,1706.6 104.5,1707.0 105.2,1706.9 106.0,1706.7 106.8,1704.1 107.6,1701.3 108.4,1699.8 109.7,1689.9 110.5,1695.4 111.3,1701.7 112.2,1707.2 113.0,1707.0 113.8,1706.4 114.6,1706.0 115.6,1701.3 116.6,1697.8 117.5,1701.4 118.3,1706.0 119.1,1705.8 119.8,1706.2 120.5,1706.3 121.2,1707.3 121.9,1706.2 122.6,1707.8 123.3,1707.2 124.0,1706.4 124.7,1706.9 125.4,1705.5 126.1,1705.6 126.8,1704.9 127.5,1703.9 128.3,1704.2 129.0,1705.2 129.8,1705.8 130.6,1705.4 131.4,1706.8 132.1,1706.8 132.9,1708.2 133.7,1707.2 134.5,1708.4 135.2,1709.1 135.9,1709.8 136.6,1711.3 137.3,1712.4 138.0,1713.4 138.7,1713.8 139.4,1714.6 140.1,1714.1 140.8,1714.4 141.5,1712.9 142.2,1712.8 142.9,1713.3 143.7,1712.4 144.4,1712.2 145.1,1712.9 145.9,1711.4 146.7,1711.9 147.5,1711.4 148.2,1711.1 149.0,1711.1 149.8,1711.1 150.6,1711.7 151.3,1712.5 152.0,1713.7 152.8,1714.9 153.5,1715.7 154.3,1717.1 155.0,1718.9 155.8,1720.1 156.5,1722.3 157.2,1722.5 158.0,1724.5 158.7,1725.8 159.5,1727.0 160.2,1728.1 161.0,1730.1 161.7,1730.7 162.4,1731.0 163.2,1732.8 163.9,1732.7 164.7,1733.4 165.4,1734.5 166.2,1736.1 167.1,1737.5 167.9,1738.9 168.7,1736.7 169.5,1734.4 170.4,1733.2 171.1,1733.2 171.9,1731.5 172.6,1730.4 173.3,1730.5 174.1,1729.5 174.8,1729.2 175.5,1728.5 176.2,1728.2 176.9,1728.6 177.6,1727.5 178.3,1727.2 179.0,1727.0 179.7,1727.9 180.5,1727.2 181.2,1727.4 181.9,1727.2 182.6,1728.2 183.3,1728.3 184.0,1728.3 184.7,1727.8 185.5,1727.4 186.2,1726.8 187.0,1727.3 187.7,1726.5 188.5,1728.7 189.4,1731.5 190.2,1733.2 191.0,1730.8 191.8,1729.3 192.6,1726.0 193.4,1724.5 194.1,1723.9 194.8,1724.9 195.5,1724.2 196.2,1724.0 196.9,1723.5 197.6,1723.3 198.4,1724.6 199.1,1725.5 199.8,1726.8 200.6,1728.9 201.3,1730.0 202.0,1730.1 202.7,1729.1 203.5,1729.5 204.2,1728.4 204.9,1728.9 205.6,1728.0 206.3,1728.3 207.0,1728.3 207.8,1728.0 208.5,1728.3 209.3,1727.7 210.0,1728.2 210.7,1728.4 211.5,1727.7 212.2,1728.0 213.0,1728.5 213.7,1728.3 214.5,1728.6 215.2,1728.9 215.9,1729.4 216.7,1729.4 217.4,1729.5 218.2,1727.5 218.9,1726.2 219.7,1725.3 220.4,1723.3 221.1,1721.6 221.9,1722.2 222.6,1721.8 223.3,1722.2 224.0,1723.3 224.7,1723.3 225.4,1723.3 226.1,1723.3 226.8,1722.9 227.6,1724.0 228.3,1723.3 229.1,1725.0 229.8,1724.5 230.6,1723.7 231.3,1721.7 232.0,1719.4 232.8,1718.8 233.5,1716.6 234.2,1716.3 234.9,1717.6 235.7,1717.4 236.4,1716.8 237.1,1718.5 237.8,1718.0 238.5,1718.3 239.2,1718.6 239.9,1718.2 240.6,1717.7 241.3,1717.9 242.0,1716.6 242.7,1717.5 243.4,1716.6 244.2,1717.3 244.9,1717.8 245.7,1719.3 246.4,1719.9 247.2,1721.6 247.9,1720.4 248.7,1720.8 249.5,1719.5 250.3,1719.0 251.0,1718.8 251.8,1718.2 252.6,1718.8 253.4,1717.6 254.1,1718.3 254.9,1718.4 255.7,1718.7 256.4,1717.9 257.2,1718.5 258.0,1717.8 258.8,1718.9 259.5,1718.3 260.3,1719.1 261.1,1719.2 261.9,1718.6 262.6,1718.6 263.4,1720.1 264.2,1719.7 265.0,1720.0 265.7,1720.1 266.5,1720.9 267.2,1719.9 268.0,1721.0 268.7,1720.8 269.5,1721.5 270.2,1721.2 270.9,1721.0 271.7,1722.4 272.4,1721.5 273.2,1722.1 273.9,1723.0 274.7,1723.7 275.5,1723.3 276.3,1724.6 277.0,1724.7 277.8,1725.0 278.6,1725.5 279.4,1726.5 280.1,1726.3 280.8,1724.3 281.6,1723.6 282.3,1722.6 283.1,1721.6 283.8,1721.2 284.5,1722.8 285.2,1723.2 285.9,1723.9 286.6,1723.5 287.3,1723.7 288.0,1724.5 288.8,1723.6 289.5,1723.4 290.3,1722.6 291.0,1721.4 291.7,1720.9 292.5,1720.1 293.3,1720.3 294.0,1722.4 294.8,1722.5 295.6,1723.3 296.4,1724.6 297.2,1724.5 297.9,1725.8 298.6,1726.4 299.4,1726.0 300.1,1727.0 300.8,1726.1 301.5,1726.7 302.2,1727.5 302.9,1727.5 303.6,1727.8 304.3,1728.0 305.0,1728.7 305.7,1728.5 306.4,1729.2 307.1,1728.8 307.8,1730.0 308.6,1730.2 309.3,1729.1 310.0,1729.8 310.7,1729.1 311.4,1728.9 312.1,1728.7 312.8,1728.3 313.6,1727.2 314.3,1727.8 315.1,1726.5 315.9,1727.0 316.7,1726.4 317.4,1725.8 318.2,1725.5 319.0,1724.5 319.8,1724.9 320.5,1725.7 321.3,1726.7 322.1,1725.9 322.9,1726.2 323.6,1727.2 324.4,1727.8 325.2,1728.3 325.9,1727.5 326.6,1727.4 327.4,1728.2 328.1,1727.3 328.8,1726.7 329.5,1726.5 330.2,1726.9 331.0,1726.1 331.7,1726.4 332.4,1726.3 333.1,1725.9 333.9,1725.8 334.6,1725.6 335.4,1726.0 336.2,1724.5 337.0,1725.8 337.7,1724.5 338.5,1724.1 339.3,1725.1 340.0,1724.5 340.8,1725.0 341.5,1725.3 342.3,1725.2 343.0,1726.5 343.8,1726.1 344.5,1727.1 345.3,1726.7 346.0,1727.6 346.7,1728.1 347.5,1728.3 348.2,1727.9 349.0,1727.9 349.7,1727.0 350.5,1727.8 351.2,1727.7 351.9,1726.7 352.7,1727.1 353.4,1727.2 354.2,1726.1 354.9,1726.5 355.7,1727.2 356.4,1727.5 357.1,1726.3 357.9,1726.8 358.6,1726.7 359.4,1727.2 360.1,1727.1 360.9,1727.9 361.6,1727.7 362.3,1728.3 363.1,1728.3 363.8,1728.8 364.6,1729.0 365.3,1730.0 366.1,1730.2 366.8,1729.6 367.5,1730.1 368.3,1730.0 369.0,1730.9 369.8,1731.5 370.5,1731.1 371.3,1732.3 372.0,1732.7 372.7,1733.3 373.5,1732.3 374.2,1732.2 375.0,1733.6 375.7,1733.3 376.5,1734.4 377.2,1734.0 378.0,1733.7 378.8,1733.5 379.5,1733.0 380.3,1734.3 381.1,1733.5 381.8,1733.3 382.6,1733.2 383.4,1733.2 384.2,1734.0 384.9,1734.4 385.7,1734.1 386.5,1733.9 387.3,1734.6 388.0,1735.7 388.8,1735.2 389.6,1735.7 390.3,1736.4 391.1,1736.6 391.8,1736.9 392.6,1737.5 393.3,1737.4 394.0,1738.3 394.8,1739.2 395.5,1738.4 396.3,1739.3 397.0,1739.9 397.7,1740.3 398.4,1740.2 399.1,1738.4 399.9,1739.1 400.6,1738.9 401.3,1739.0 402.0,1738.2 402.7,1738.0 403.5,1737.4 404.2,1737.6 404.9,1738.2 405.7,1738.2 406.4,1737.2 407.2,1737.9 407.9,1737.8 408.7,1737.7 409.4,1737.4 410.1,1736.9 410.9,1737.7 411.6,1737.7 412.4,1738.4 413.1,1738.2 413.9,1738.0 414.6,1739.1 415.4,1738.7 416.1,1739.7 416.8,1739.4 417.5,1738.7 418.3,1738.8 419.0,1738.8 419.7,1737.4 420.4,1738.0 421.1,1736.6 421.8,1736.9 422.5,1737.5 423.2,1736.0 424.0,1737.0 424.7,1736.4 425.4,1736.0 426.1,1736.4 426.9,1736.6 427.6,1737.1 428.3,1737.4 429.0,1737.2 429.7,1738.2 430.4,1738.2 431.1,1738.9 431.8,1739.2 432.6,1737.7 433.3,1737.3 434.1,1736.5 434.8,1736.4 435.6,1736.9 436.4,1735.7 437.1,1735.9 437.9,1736.0 438.7,1735.0 439.5,1735.4 440.2,1734.3 441.0,1734.5 441.8,1732.8 442.7,1731.7 443.5,1731.5 444.2,1731.6 444.9,1732.6 445.6,1731.7 446.3,1732.4 447.0,1733.1 447.7,1732.6 448.4,1733.2 449.2,1731.6 450.0,1731.1 450.8,1729.8 451.5,1729.6 452.3,1728.4 453.1,1726.3 453.9,1725.7 454.6,1724.5 455.4,1723.5 456.1,1722.0 456.9,1721.8 457.6,1721.6 458.3,1720.1 459.1,1719.6 459.8,1719.9 460.5,1720.0 461.2,1718.8 461.9,1720.1 462.6,1718.6 463.3,1719.1 464.0,1719.1 464.8,1720.1 465.5,1719.4 466.3,1720.3 467.0,1720.8 467.7,1719.0 468.4,1718.3 469.1,1716.3 469.8,1715.3 470.6,1714.2 471.3,1712.7 472.0,1712.2 472.7,1712.1 473.4,1712.9 474.1,1714.1 474.8,1714.1 475.5,1715.9 476.2,1715.8 476.9,1716.6 477.7,1716.9 478.4,1717.6 479.2,1719.2 479.9,1718.7 480.6,1720.1 481.4,1720.9 482.2,1720.2 483.0,1722.0 483.7,1721.5 484.5,1722.3 485.3,1723.1 486.1,1722.3 486.8,1723.3 487.6,1722.4 488.3,1723.1 489.1,1722.7 489.8,1722.7 490.6,1721.7 491.3,1721.8 492.0,1721.1 492.8,1721.2 493.5,1720.7 494.3,1720.8 495.0,1721.5 495.7,1721.6 496.4,1722.1 497.1,1723.2 497.8,1722.8 498.5,1724.5 499.2,1724.5 500.0,1725.6 500.7,1726.3 501.5,1727.2 502.2,1728.9 502.9,1730.0 503.6,1730.0 504.4,1730.3 505.1,1729.8 505.8,1729.9 506.5,1730.6 507.2,1729.6 507.9,1730.0 508.6,1730.3 509.4,1729.6 510.1,1729.3 510.9,1728.7 511.6,1727.5 512.3,1727.0 513.0,1727.7 513.7,1727.3 514.4,1726.5 515.1,1727.6 515.9,1726.9 516.6,1726.5 517.3,1727.7 518.0,1728.0 518.7,1728.0 519.4,1729.9 520.1,1729.5 520.8,1730.4 521.5,1731.5 522.3,1731.4 523.1,1730.4 523.8,1730.5 524.6,1730.6 525.4,1729.3 526.2,1729.9 526.9,1728.7 527.7,1729.0 528.5,1728.5 529.2,1728.2 529.9,1727.8 530.7,1726.3 531.4,1726.5 532.1,1726.3 532.8,1727.8 533.5,1727.1 534.3,1727.4 535.0,1727.6 535.7,1728.3 536.4,1728.3 537.1,1728.5 537.9,1728.2 538.6,1727.6 539.3,1727.7 540.1,1727.4 540.8,1726.7 541.6,1727.8 542.3,1727.6 543.1,1727.1 543.8,1726.5 544.6,1726.8 545.4,1725.4 546.1,1725.4 546.9,1723.9 547.7,1724.1 548.5,1723.5 549.2,1723.3 550.0,1722.1 550.8,1724.4 551.7,1726.3 552.5,1727.5 553.2,1727.1 553.9,1727.9 554.6,1727.4 555.4,1727.0 556.1,1727.1 556.8,1727.7 557.5,1727.8 558.3,1727.7 559.0,1727.4 559.7,1726.6 560.4,1726.5 561.1,1727.0 561.9,1727.3 562.6,1727.0 563.4,1727.4 564.1,1727.2 564.9,1727.5 565.6,1728.6 566.4,1728.0 567.1,1729.2 567.8,1728.5 568.6,1729.0 569.3,1729.6 570.0,1728.8 570.7,1728.8 571.4,1729.1 572.1,1728.6 572.8,1729.3 573.5,1729.3 574.2,1728.8 574.9,1730.2 575.7,1729.5 576.4,1729.0 577.1,1730.6 577.8,1729.5 578.5,1730.0 579.2,1729.8 579.9,1729.7 580.6,1730.0 581.3,1731.2 582.0,1731.2 582.7,1731.3 583.4,1731.5 584.1,1730.9 584.9,1730.7 585.6,1731.6 586.3,1730.4 587.0,1731.2 587.7,1730.8 588.4,1730.0 589.1,1728.7 589.9,1729.2 590.6,1727.1 591.4,1727.6 592.1,1726.5 592.9,1727.1 593.6,1727.0 594.3,1726.9 595.1,1727.4 595.8,1726.5 596.6,1727.2 597.3,1726.8 598.1,1727.2 598.8,1726.9 599.5,1727.5 600.3,1727.1 601.1,1726.1 601.9,1725.7 602.6,1724.7 603.4,1724.0 604.2,1723.7 605.0,1722.8 605.7,1721.6 606.5,1721.7 607.2,1721.4 607.9,1722.4 608.6,1721.5 609.3,1721.1 610.1,1721.6 610.8,1722.2 611.5,1722.6 612.2,1722.2 613.0,1722.2 613.7,1722.7 614.4,1722.1 615.2,1725.0 616.1,1726.9 616.9,1729.5 617.6,1729.2 618.3,1729.4 619.1,1728.5 619.8,1727.9 620.5,1728.4 621.2,1728.5 621.9,1727.4 622.7,1727.8 623.4,1727.9 624.1,1726.4 624.8,1726.2 625.6,1726.5 626.3,1726.6 627.0,1726.4 627.8,1727.4 628.5,1727.5 629.3,1726.7 630.0,1727.3 630.8,1727.1 631.5,1726.4 632.2,1727.7 633.0,1727.0 633.8,1726.8 634.5,1727.0 635.3,1727.9 636.1,1727.5 636.9,1728.5 637.6,1728.7 638.4,1729.9 639.2,1729.5 639.9,1729.3 640.6,1730.0 641.3,1729.8 642.1,1729.5 642.8,1728.9 643.5,1728.9 644.2,1729.2 645.0,1729.0 645.7,1729.4 646.4,1729.1 647.1,1728.8 647.8,1729.0 648.6,1729.3 649.3,1730.1 650.0,1728.9 650.7,1729.3 651.4,1728.9 652.1,1729.2 652.8,1730.0 653.5,1728.4 654.3,1728.2 655.0,1728.0 655.8,1726.9 656.5,1725.8 657.2,1726.9 658.0,1727.0 658.7,1727.0 659.4,1727.3 660.1,1726.8 660.9,1727.7 661.6,1727.9 662.3,1728.8 663.0,1728.2 663.7,1729.4 664.5,1729.4 665.2,1730.0 665.9,1730.3 666.6,1730.4 667.3,1730.2 668.0,1731.5 668.7,1731.9 669.4,1731.8 670.1,1732.0 670.8,1731.7 671.6,1732.8 672.3,1733.6 673.0,1734.2 673.7,1734.2 674.4,1733.4 675.1,1734.5 675.8,1735.6 676.6,1735.7 677.3,1735.6 678.1,1737.1 678.8,1736.9 679.6,1736.5 680.3,1735.6 681.0,1733.6 681.8,1733.1 682.5,1732.0 683.3,1731.6 684.0,1731.3 684.8,1731.8 685.5,1731.4 686.2,1730.7 687.0,1730.9 687.7,1731.3 688.5,1730.5 689.2,1730.9 690.0,1730.0 690.7,1730.7 691.4,1732.1 692.2,1731.2 692.9,1732.5 693.7,1733.2 694.4,1732.1 695.2,1731.3 696.0,1730.5 696.8,1728.8 697.5,1727.4 698.3,1726.6 699.1,1725.2 699.9,1724.0 700.6,1724.8 701.3,1725.6 702.0,1724.5 702.7,1725.5 703.4,1726.8 704.1,1725.9 704.8,1727.0 705.5,1727.3 706.2,1725.9 706.9,1726.7 707.7,1726.8 708.4,1725.7 709.1,1725.8 709.8,1725.8 710.5,1725.6 711.3,1726.5 712.1,1726.5 712.9,1726.8 713.6,1726.6 714.4,1727.2 715.2,1728.0 716.0,1727.5 716.8,1729.4 717.6,1731.1 718.4,1731.4 719.2,1733.2 719.9,1731.9 720.7,1730.3 721.4,1728.8 722.2,1728.2 722.9,1725.8 723.6,1725.0 724.4,1724.0 725.1,1722.9 725.9,1720.8 726.6,1720.2 727.3,1720.7 728.0,1721.1 728.7,1721.9 729.4,1720.8 730.1,1722.0 730.8,1721.6 731.6,1720.7 732.4,1720.2 733.2,1720.1 733.9,1718.0 734.7,1717.7 735.5,1716.7 736.2,1716.0 737.0,1715.9 737.8,1715.3 738.5,1715.7 739.3,1715.3 740.0,1714.3 740.7,1714.6 741.5,1712.9 742.2,1710.2 743.0,1707.4 743.7,1706.2 744.5,1703.5 745.2,1705.2 745.9,1705.5 746.7,1707.9 747.4,1708.4" fill="none" stroke="#4a7ebb" stroke-width="2" stroke-linejoin="round"/></svg>
<svg style="position:absolute;left:39px;top:1871px" width="443" height="296">
<defs>
<linearGradient id="bg" x1="0" y1="0.2" x2="1" y2="0.8">
<stop offset="0" stop-color="#2f84d2"/><stop offset="0.35" stop-color="#3890dc"/><stop offset="0.65" stop-color="#2868c0"/><stop offset="1" stop-color="#163a98"/>
</linearGradient>
<radialGradient id="hl" cx="1" cy="1" r="0.55"><stop offset="0" stop-color="#0c1660" stop-opacity="0.9"/><stop offset="1" stop-color="#0c1660" stop-opacity="0"/></radialGradient>
<clipPath id="bclip"><rect x="0" y="0" width="443" height="296"/></clipPath>
</defs>
<g clip-path="url(#bclip)">
<rect width="443" height="296" fill="url(#bg)"/>
<rect width="443" height="296" fill="url(#hl)"/>
<circle cx="231" cy="-150" r="292" fill="none" stroke="#22c4f0" stroke-width="1.3"/>
<circle cx="236" cy="-159.5" r="204.5" fill="none" stroke="#22c4f0" stroke-width="1.3"/>
<circle cx="221" cy="-114" r="375" fill="none" stroke="#2aa8e8" stroke-width="1" opacity="0.6"/>
<circle cx="139" cy="19" r="5" fill="#00e5f5"/>
<circle cx="400.5" cy="91" r="5" fill="#00e5f5"/>
</g></svg>
<div style="position:absolute;left:-227.5px;width:1000px;top:1924px;text-align:center;font-size:57px;line-height:57px;color:#e6e1de;font-weight:bold;white-space:nowrap;font-family:'Liberation Sans', sans-serif;letter-spacing:8px;transform:scaleY(0.98);transform-origin:top;-webkit-text-stroke:1.6px #e6e1de;">东华乐投</div>
<div style="position:absolute;left:-227.0px;width:1000px;top:2029px;text-align:center;font-size:20px;line-height:20px;color:#dedbe0;font-weight:bold;white-space:nowrap;font-family:'Liberation Sans', sans-serif;letter-spacing:2px;transform:scaleY(0.85);">期货理财投资神器</div>
<div style="position:absolute;left:-226.0px;width:1000px;top:2059px;text-align:center;font-size:20px;line-height:20px;color:#dedbe0;font-weight:bold;white-space:nowrap;font-family:'Liberation Sans', sans-serif;letter-spacing:2.25px;transform:scaleY(0.85);">万千个人机构用户共同的选择</div>
<div style="position:absolute;left:-240.5px;width:1000px;top:2097px;text-align:center;font-size:20px;line-height:20px;color:#dedbe0;font-weight:bold;white-space:nowrap;font-family:'Liberation Sans', sans-serif;letter-spacing:2.3px;transform:scaleY(0.9);">全面支持 Android版、iphone版</div>
<div style="position:absolute;left:548px;top:1871px;width:281px;height:51px;background:#384160;border-top:1px solid #111;box-sizing:border-box"></div>
<div style="position:absolute;left:548px;top:2119.5px;width:281px;height:48.5px;background:#384160"></div>
<div style="position:absolute;left:572.5px;top:1877.5px;font-size:24px;line-height:24px;color:#fff;font-weight:500;white-space:nowrap;font-family:'Liberation Sans', sans-serif;letter-spacing:1.2px;transform:scaleY(0.72);transform-origin:top;">东华期货</div>
<div style="position:absolute;left:658.5px;top:1900.5px;font-size:24px;line-height:24px;color:#fff;font-weight:500;white-space:nowrap;font-family:'Liberation Sans', sans-serif;letter-spacing:1.3px;transform:scaleY(0.7);transform-origin:top;">力求极致服务</div>
<div style="position:absolute;left:558px;top:2126px;font-size:24px;line-height:24px;color:#fff;font-weight:500;white-space:nowrap;font-family:'Liberation Sans', sans-serif;letter-spacing:1.4px;transform:scaleY(0.68);transform-origin:top;">免注册下载使用</div>
<div style="position:absolute;left:614.5px;top:2147.5px;font-size:24px;line-height:24px;color:#fff;font-weight:500;white-space:nowrap;font-family:'Liberation Sans', sans-serif;letter-spacing:1.66px;transform:scaleY(0.7);transform-origin:top;">享受期货交易乐趣</div>
<svg style="position:absolute;left:557.2px;top:1931.9px" width="266.2" height="181.3" fill="#000" shape-rendering="crispEdges"><rect x="0.00" y="0.00" width="50.47" height="5.17"/><rect x="57.34" y="0.00" width="14.64" height="5.17"/><rect x="78.84" y="0.00" width="7.47" height="5.17"/><rect x="107.51" y="0.00" width="7.47" height="5.17"/><rect x="121.85" y="0.00" width="21.80" height="5.17"/><rect x="172.02" y="0.00" width="7.47" height="5.17"/><rect x="193.52" y="0.00" width="7.47" height="5.17"/><rect x="215.03" y="0.00" width="50.47" height="5.17"/><rect x="0.00" y="4.87" width="7.47" height="5.17"/><rect x="43.01" y="4.87" width="7.47" height="5.17"/><rect x="64.51" y="4.87" width="14.64" height="5.17"/><rect x="93.18" y="4.87" width="14.64" height="5.17"/><rect x="114.68" y="4.87" width="7.47" height="5.17"/><rect x="129.02" y="4.87" width="7.47" height="5.17"/><rect x="143.35" y="4.87" width="7.47" height="5.17"/><rect x="157.69" y="4.87" width="14.64" height="5.17"/><rect x="193.52" y="4.87" width="14.64" height="5.17"/><rect x="215.03" y="4.87" width="7.47" height="5.17"/><rect x="258.03" y="4.87" width="7.47" height="5.17"/><rect x="0.00" y="9.75" width="7.47" height="5.17"/><rect x="14.34" y="9.75" width="21.80" height="5.17"/><rect x="43.01" y="9.75" width="7.47" height="5.17"/><rect x="64.51" y="9.75" width="14.64" height="5.17"/><rect x="86.01" y="9.75" width="7.47" height="5.17"/><rect x="100.35" y="9.75" width="7.47" height="5.17"/><rect x="121.85" y="9.75" width="7.47" height="5.17"/><rect x="136.18" y="9.75" width="36.14" height="5.17"/><rect x="186.36" y="9.75" width="7.47" height="5.17"/><rect x="215.03" y="9.75" width="7.47" height="5.17"/><rect x="229.36" y="9.75" width="21.80" height="5.17"/><rect x="258.03" y="9.75" width="7.47" height="5.17"/><rect x="0.00" y="14.62" width="7.47" height="5.17"/><rect x="14.34" y="14.62" width="21.80" height="5.17"/><rect x="43.01" y="14.62" width="7.47" height="5.17"/><rect x="57.34" y="14.62" width="14.64" height="5.17"/><rect x="86.01" y="14.62" width="7.47" height="5.17"/><rect x="107.51" y="14.62" width="7.47" height="5.17"/><rect x="143.35" y="14.62" width="21.80" height="5.17"/><rect x="186.36" y="14.62" width="14.64" height="5.17"/><rect x="215.03" y="14.62" width="7.47" height="5.17"/><rect x="229.36" y="14.62" width="21.80" height="5.17"/><rect x="258.03" y="14.62" width="7.47" height="5.17"/><rect x="0.00" y="19.49" width="7.47" height="5.17"/><rect x="14.34" y="19.49" width="21.80" height="5.17"/><rect x="43.01" y="19.49" width="7.47" height="5.17"/><rect x="64.51" y="19.49" width="14.64" height="5.17"/><rect x="86.01" y="19.49" width="21.80" height="5.17"/><rect x="114.68" y="19.49" width="7.47" height="5.17"/><rect x="129.02" y="19.49" width="21.80" height="5.17"/><rect x="164.85" y="19.49" width="14.64" height="5.17"/><rect x="186.36" y="19.49" width="21.80" height="5.17"/><rect x="215.03" y="19.49" width="7.47" height="5.17"/><rect x="229.36" y="19.49" width="21.80" height="5.17"/><rect x="258.03" y="19.49" width="7.47" height="5.17"/><rect x="0.00" y="24.36" width="7.47" height="5.17"/><rect x="43.01" y="24.36" width="7.47" height="5.17"/><rect x="64.51" y="24.36" width="36.14" height="5.17"/><rect x="107.51" y="24.36" width="7.47" height="5.17"/><rect x="121.85" y="24.36" width="21.80" height="5.17"/><rect x="164.85" y="24.36" width="7.47" height="5.17"/><rect x="179.19" y="24.36" width="28.97" height="5.17"/><rect x="215.03" y="24.36" width="7.47" height="5.17"/><rect x="258.03" y="24.36" width="7.47" height="5.17"/><rect x="0.00" y="29.24" width="50.47" height="5.17"/><rect x="57.34" y="29.24" width="7.47" height="5.17"/><rect x="71.68" y="29.24" width="7.47" height="5.17"/><rect x="86.01" y="29.24" width="7.47" height="5.17"/><rect x="100.35" y="29.24" width="7.47" height="5.17"/><rect x="114.68" y="29.24" width="7.47" height="5.17"/><rect x="129.02" y="29.24" width="7.47" height="5.17"/><rect x="143.35" y="29.24" width="7.47" height="5.17"/><rect x="157.69" y="29.24" width="7.47" height="5.17"/><rect x="172.02" y="29.24" width="7.47" height="5.17"/><rect x="186.36" y="29.24" width="7.47" height="5.17"/><rect x="200.69" y="29.24" width="7.47" height="5.17"/><rect x="215.03" y="29.24" width="50.47" height="5.17"/><rect x="64.51" y="34.11" width="7.47" height="5.17"/><rect x="78.84" y="34.11" width="7.47" height="5.17"/><rect x="93.18" y="34.11" width="7.47" height="5.17"/><rect x="107.51" y="34.11" width="21.80" height="5.17"/><rect x="136.18" y="34.11" width="21.80" height="5.17"/><rect x="172.02" y="34.11" width="14.64" height="5.17"/><rect x="200.69" y="34.11" width="7.47" height="5.17"/><rect x="14.34" y="38.98" width="7.47" height="5.17"/><rect x="28.67" y="38.98" width="21.80" height="5.17"/><rect x="57.34" y="38.98" width="14.64" height="5.17"/><rect x="78.84" y="38.98" width="7.47" height="5.17"/><rect x="93.18" y="38.98" width="7.47" height="5.17"/><rect x="114.68" y="38.98" width="14.64" height="5.17"/><rect x="150.52" y="38.98" width="14.64" height="5.17"/><rect x="179.19" y="38.98" width="7.47" height="5.17"/><rect x="193.52" y="38.98" width="7.47" height="5.17"/><rect x="207.86" y="38.98" width="7.47" height="5.17"/><rect x="236.53" y="38.98" width="7.47" height="5.17"/><rect x="258.03" y="38.98" width="7.47" height="5.17"/><rect x="0.00" y="43.86" width="7.47" height="5.17"/><rect x="28.67" y="43.86" width="7.47" height="5.17"/><rect x="50.17" y="43.86" width="14.64" height="5.17"/><rect x="86.01" y="43.86" width="7.47" height="5.17"/><rect x="114.68" y="43.86" width="21.80" height="5.17"/><rect x="143.35" y="43.86" width="28.97" height="5.17"/><rect x="200.69" y="43.86" width="14.64" height="5.17"/><rect x="222.19" y="43.86" width="7.47" height="5.17"/><rect x="236.53" y="43.86" width="7.47" height="5.17"/><rect x="250.86" y="43.86" width="14.64" height="5.17"/><rect x="14.34" y="48.73" width="7.47" height="5.17"/><rect x="28.67" y="48.73" width="7.47" height="5.17"/><rect x="43.01" y="48.73" width="7.47" height="5.17"/><rect x="57.34" y="48.73" width="14.64" height="5.17"/><rect x="78.84" y="48.73" width="14.64" height="5.17"/><rect x="107.51" y="48.73" width="7.47" height="5.17"/><rect x="121.85" y="48.73" width="14.64" height="5.17"/><rect x="143.35" y="48.73" width="14.64" height="5.17"/><rect x="164.85" y="48.73" width="21.80" height="5.17"/><rect x="200.69" y="48.73" width="7.47" height="5.17"/><rect x="215.03" y="48.73" width="7.47" height="5.17"/><rect x="229.36" y="48.73" width="36.14" height="5.17"/><rect x="7.17" y="53.60" width="7.47" height="5.17"/><rect x="28.67" y="53.60" width="7.47" height="5.17"/><rect x="78.84" y="53.60" width="7.47" height="5.17"/><rect x="100.35" y="53.60" width="7.47" height="5.17"/><rect x="136.18" y="53.60" width="7.47" height="5.17"/><rect x="172.02" y="53.60" width="28.97" height="5.17"/><rect x="207.86" y="53.60" width="7.47" height="5.17"/><rect x="236.53" y="53.60" width="28.97" height="5.17"/><rect x="0.00" y="58.48" width="7.47" height="5.17"/><rect x="14.34" y="58.48" width="7.47" height="5.17"/><rect x="28.67" y="58.48" width="7.47" height="5.17"/><rect x="43.01" y="58.48" width="21.80" height="5.17"/><rect x="93.18" y="58.48" width="14.64" height="5.17"/><rect x="114.68" y="58.48" width="7.47" height="5.17"/><rect x="136.18" y="58.48" width="28.97" height="5.17"/><rect x="172.02" y="58.48" width="14.64" height="5.17"/><rect x="193.52" y="58.48" width="7.47" height="5.17"/><rect x="207.86" y="58.48" width="14.64" height="5.17"/><rect x="250.86" y="58.48" width="7.47" height="5.17"/><rect x="7.17" y="63.35" width="7.47" height="5.17"/><rect x="21.50" y="63.35" width="14.64" height="5.17"/><rect x="57.34" y="63.35" width="7.47" height="5.17"/><rect x="71.68" y="63.35" width="7.47" height="5.17"/><rect x="136.18" y="63.35" width="14.64" height="5.17"/><rect x="179.19" y="63.35" width="28.97" height="5.17"/><rect x="215.03" y="63.35" width="14.64" height="5.17"/><rect x="236.53" y="63.35" width="28.97" height="5.17"/><rect x="14.34" y="68.22" width="7.47" height="5.17"/><rect x="28.67" y="68.22" width="7.47" height="5.17"/><rect x="43.01" y="68.22" width="7.47" height="5.17"/><rect x="71.68" y="68.22" width="14.64" height="5.17"/><rect x="93.18" y="68.22" width="21.80" height="5.17"/><rect x="129.02" y="68.22" width="21.80" height="5.17"/><rect x="164.85" y="68.22" width="7.47" height="5.17"/><rect x="179.19" y="68.22" width="57.64" height="5.17"/><rect x="243.70" y="68.22" width="7.47" height="5.17"/><rect x="258.03" y="68.22" width="7.47" height="5.17"/><rect x="0.00" y="73.09" width="7.47" height="5.17"/><rect x="50.17" y="73.09" width="21.80" height="5.17"/><rect x="78.84" y="73.09" width="14.64" height="5.17"/><rect x="100.35" y="73.09" width="7.47" height="5.17"/><rect x="114.68" y="73.09" width="14.64" height="5.17"/><rect x="136.18" y="73.09" width="14.64" height="5.17"/><rect x="164.85" y="73.09" width="7.47" height="5.17"/><rect x="179.19" y="73.09" width="7.47" height="5.17"/><rect x="207.86" y="73.09" width="14.64" height="5.17"/><rect x="229.36" y="73.09" width="7.47" height="5.17"/><rect x="258.03" y="73.09" width="7.47" height="5.17"/><rect x="28.67" y="77.97" width="43.31" height="5.17"/><rect x="114.68" y="77.97" width="7.47" height="5.17"/><rect x="150.52" y="77.97" width="21.80" height="5.17"/><rect x="179.19" y="77.97" width="7.47" height="5.17"/><rect x="193.52" y="77.97" width="7.47" height="5.17"/><rect x="207.86" y="77.97" width="14.64" height="5.17"/><rect x="236.53" y="77.97" width="7.47" height="5.17"/><rect x="250.86" y="77.97" width="14.64" height="5.17"/><rect x="7.17" y="82.84" width="14.64" height="5.17"/><rect x="28.67" y="82.84" width="7.47" height="5.17"/><rect x="57.34" y="82.84" width="7.47" height="5.17"/><rect x="86.01" y="82.84" width="28.97" height="5.17"/><rect x="121.85" y="82.84" width="7.47" height="5.17"/><rect x="136.18" y="82.84" width="14.64" height="5.17"/><rect x="157.69" y="82.84" width="21.80" height="5.17"/><rect x="200.69" y="82.84" width="7.47" height="5.17"/><rect x="215.03" y="82.84" width="7.47" height="5.17"/><rect x="243.70" y="82.84" width="21.80" height="5.17"/><rect x="7.17" y="87.71" width="14.64" height="5.17"/><rect x="43.01" y="87.71" width="7.47" height="5.17"/><rect x="57.34" y="87.71" width="7.47" height="5.17"/><rect x="71.68" y="87.71" width="7.47" height="5.17"/><rect x="86.01" y="87.71" width="14.64" height="5.17"/><rect x="107.51" y="87.71" width="7.47" height="5.17"/><rect x="121.85" y="87.71" width="7.47" height="5.17"/><rect x="143.35" y="87.71" width="7.47" height="5.17"/><rect x="157.69" y="87.71" width="7.47" height="5.17"/><rect x="179.19" y="87.71" width="14.64" height="5.17"/><rect x="200.69" y="87.71" width="14.64" height="5.17"/><rect x="229.36" y="87.71" width="7.47" height="5.17"/><rect x="250.86" y="87.71" width="14.64" height="5.17"/><rect x="0.00" y="92.59" width="21.80" height="5.17"/><rect x="28.67" y="92.59" width="14.64" height="5.17"/><rect x="50.17" y="92.59" width="14.64" height="5.17"/><rect x="78.84" y="92.59" width="7.47" height="5.17"/><rect x="93.18" y="92.59" width="21.80" height="5.17"/><rect x="121.85" y="92.59" width="7.47" height="5.17"/><rect x="150.52" y="92.59" width="14.64" height="5.17"/><rect x="179.19" y="92.59" width="7.47" height="5.17"/><rect x="193.52" y="92.59" width="14.64" height="5.17"/><rect x="215.03" y="92.59" width="21.80" height="5.17"/><rect x="250.86" y="92.59" width="14.64" height="5.17"/><rect x="7.17" y="97.46" width="21.80" height="5.17"/><rect x="43.01" y="97.46" width="14.64" height="5.17"/><rect x="71.68" y="97.46" width="21.80" height="5.17"/><rect x="100.35" y="97.46" width="7.47" height="5.17"/><rect x="129.02" y="97.46" width="7.47" height="5.17"/><rect x="143.35" y="97.46" width="14.64" height="5.17"/><rect x="172.02" y="97.46" width="21.80" height="5.17"/><rect x="200.69" y="97.46" width="28.97" height="5.17"/><rect x="250.86" y="97.46" width="7.47" height="5.17"/><rect x="0.00" y="102.33" width="7.47" height="5.17"/><rect x="28.67" y="102.33" width="7.47" height="5.17"/><rect x="57.34" y="102.33" width="14.64" height="5.17"/><rect x="86.01" y="102.33" width="14.64" height="5.17"/><rect x="114.68" y="102.33" width="36.14" height="5.17"/><rect x="164.85" y="102.33" width="7.47" height="5.17"/><rect x="215.03" y="102.33" width="7.47" height="5.17"/><rect x="236.53" y="102.33" width="7.47" height="5.17"/><rect x="7.17" y="107.21" width="7.47" height="5.17"/><rect x="43.01" y="107.21" width="7.47" height="5.17"/><rect x="57.34" y="107.21" width="14.64" height="5.17"/><rect x="86.01" y="107.21" width="14.64" height="5.17"/><rect x="114.68" y="107.21" width="14.64" height="5.17"/><rect x="143.35" y="107.21" width="21.80" height="5.17"/><rect x="172.02" y="107.21" width="7.47" height="5.17"/><rect x="200.69" y="107.21" width="21.80" height="5.17"/><rect x="229.36" y="107.21" width="14.64" height="5.17"/><rect x="258.03" y="107.21" width="7.47" height="5.17"/><rect x="0.00" y="112.08" width="14.64" height="5.17"/><rect x="35.84" y="112.08" width="7.47" height="5.17"/><rect x="50.17" y="112.08" width="7.47" height="5.17"/><rect x="78.84" y="112.08" width="7.47" height="5.17"/><rect x="93.18" y="112.08" width="14.64" height="5.17"/><rect x="114.68" y="112.08" width="7.47" height="5.17"/><rect x="150.52" y="112.08" width="43.31" height="5.17"/><rect x="250.86" y="112.08" width="7.47" height="5.17"/><rect x="14.34" y="116.95" width="36.14" height="5.17"/><rect x="143.35" y="116.95" width="7.47" height="5.17"/><rect x="157.69" y="116.95" width="7.47" height="5.17"/><rect x="172.02" y="116.95" width="14.64" height="5.17"/><rect x="193.52" y="116.95" width="28.97" height="5.17"/><rect x="250.86" y="116.95" width="14.64" height="5.17"/><rect x="14.34" y="121.82" width="28.97" height="5.17"/><rect x="50.17" y="121.82" width="36.14" height="5.17"/><rect x="107.51" y="121.82" width="7.47" height="5.17"/><rect x="121.85" y="121.82" width="14.64" height="5.17"/><rect x="150.52" y="121.82" width="36.14" height="5.17"/><rect x="200.69" y="121.82" width="43.31" height="5.17"/><rect x="250.86" y="121.82" width="14.64" height="5.17"/><rect x="0.00" y="126.70" width="7.47" height="5.17"/><rect x="21.50" y="126.70" width="14.64" height="5.17"/><rect x="43.01" y="126.70" width="14.64" height="5.17"/><rect x="64.51" y="126.70" width="7.47" height="5.17"/><rect x="78.84" y="126.70" width="7.47" height="5.17"/><rect x="93.18" y="126.70" width="7.47" height="5.17"/><rect x="129.02" y="126.70" width="14.64" height="5.17"/><rect x="164.85" y="126.70" width="21.80" height="5.17"/><rect x="200.69" y="126.70" width="7.47" height="5.17"/><rect x="215.03" y="126.70" width="7.47" height="5.17"/><rect x="243.70" y="126.70" width="7.47" height="5.17"/><rect x="258.03" y="126.70" width="7.47" height="5.17"/><rect x="7.17" y="131.57" width="14.64" height="5.17"/><rect x="28.67" y="131.57" width="14.64" height="5.17"/><rect x="50.17" y="131.57" width="7.47" height="5.17"/><rect x="64.51" y="131.57" width="7.47" height="5.17"/><rect x="100.35" y="131.57" width="21.80" height="5.17"/><rect x="136.18" y="131.57" width="14.64" height="5.17"/><rect x="157.69" y="131.57" width="7.47" height="5.17"/><rect x="172.02" y="131.57" width="21.80" height="5.17"/><rect x="215.03" y="131.57" width="14.64" height="5.17"/><rect x="243.70" y="131.57" width="7.47" height="5.17"/><rect x="258.03" y="131.57" width="7.47" height="5.17"/><rect x="0.00" y="136.44" width="7.47" height="5.17"/><rect x="21.50" y="136.44" width="43.31" height="5.17"/><rect x="86.01" y="136.44" width="7.47" height="5.17"/><rect x="100.35" y="136.44" width="7.47" height="5.17"/><rect x="114.68" y="136.44" width="21.80" height="5.17"/><rect x="150.52" y="136.44" width="7.47" height="5.17"/><rect x="164.85" y="136.44" width="7.47" height="5.17"/><rect x="179.19" y="136.44" width="7.47" height="5.17"/><rect x="193.52" y="136.44" width="57.64" height="5.17"/><rect x="258.03" y="136.44" width="7.47" height="5.17"/><rect x="57.34" y="141.32" width="7.47" height="5.17"/><rect x="86.01" y="141.32" width="14.64" height="5.17"/><rect x="107.51" y="141.32" width="14.64" height="5.17"/><rect x="136.18" y="141.32" width="36.14" height="5.17"/><rect x="179.19" y="141.32" width="28.97" height="5.17"/><rect x="229.36" y="141.32" width="7.47" height="5.17"/><rect x="258.03" y="141.32" width="7.47" height="5.17"/><rect x="0.00" y="146.19" width="50.47" height="5.17"/><rect x="64.51" y="146.19" width="7.47" height="5.17"/><rect x="86.01" y="146.19" width="7.47" height="5.17"/><rect x="100.35" y="146.19" width="14.64" height="5.17"/><rect x="121.85" y="146.19" width="7.47" height="5.17"/><rect x="150.52" y="146.19" width="21.80" height="5.17"/><rect x="193.52" y="146.19" width="14.64" height="5.17"/><rect x="215.03" y="146.19" width="7.47" height="5.17"/><rect x="229.36" y="146.19" width="7.47" height="5.17"/><rect x="243.70" y="146.19" width="21.80" height="5.17"/><rect x="0.00" y="151.06" width="7.47" height="5.17"/><rect x="43.01" y="151.06" width="7.47" height="5.17"/><rect x="57.34" y="151.06" width="7.47" height="5.17"/><rect x="71.68" y="151.06" width="14.64" height="5.17"/><rect x="157.69" y="151.06" width="7.47" height="5.17"/><rect x="172.02" y="151.06" width="21.80" height="5.17"/><rect x="200.69" y="151.06" width="7.47" height="5.17"/><rect x="229.36" y="151.06" width="7.47" height="5.17"/><rect x="258.03" y="151.06" width="7.47" height="5.17"/><rect x="0.00" y="155.94" width="7.47" height="5.17"/><rect x="14.34" y="155.94" width="21.80" height="5.17"/><rect x="43.01" y="155.94" width="7.47" height="5.17"/><rect x="57.34" y="155.94" width="7.47" height="5.17"/><rect x="71.68" y="155.94" width="21.80" height="5.17"/><rect x="100.35" y="155.94" width="7.47" height="5.17"/><rect x="121.85" y="155.94" width="7.47" height="5.17"/><rect x="143.35" y="155.94" width="7.47" height="5.17"/><rect x="157.69" y="155.94" width="28.97" height="5.17"/><rect x="200.69" y="155.94" width="43.31" height="5.17"/><rect x="250.86" y="155.94" width="14.64" height="5.17"/><rect x="0.00" y="160.81" width="7.47" height="5.17"/><rect x="14.34" y="160.81" width="21.80" height="5.17"/><rect x="43.01" y="160.81" width="7.47" height="5.17"/><rect x="64.51" y="160.81" width="7.47" height="5.17"/><rect x="86.01" y="160.81" width="7.47" height="5.17"/><rect x="100.35" y="160.81" width="14.64" height="5.17"/><rect x="136.18" y="160.81" width="36.14" height="5.17"/><rect x="179.19" y="160.81" width="14.64" height="5.17"/><rect x="200.69" y="160.81" width="14.64" height="5.17"/><rect x="222.19" y="160.81" width="14.64" height="5.17"/><rect x="0.00" y="165.68" width="7.47" height="5.17"/><rect x="14.34" y="165.68" width="21.80" height="5.17"/><rect x="43.01" y="165.68" width="7.47" height="5.17"/><rect x="57.34" y="165.68" width="7.47" height="5.17"/><rect x="78.84" y="165.68" width="7.47" height="5.17"/><rect x="100.35" y="165.68" width="28.97" height="5.17"/><rect x="143.35" y="165.68" width="7.47" height="5.17"/><rect x="172.02" y="165.68" width="7.47" height="5.17"/><rect x="186.36" y="165.68" width="7.47" height="5.17"/><rect x="200.69" y="165.68" width="14.64" height="5.17"/><rect x="222.19" y="165.68" width="14.64" height="5.17"/><rect x="243.70" y="165.68" width="7.47" height="5.17"/><rect x="258.03" y="165.68" width="7.47" height="5.17"/><rect x="0.00" y="170.55" width="7.47" height="5.17"/><rect x="43.01" y="170.55" width="7.47" height="5.17"/><rect x="64.51" y="170.55" width="14.64" height="5.17"/><rect x="86.01" y="170.55" width="7.47" height="5.17"/><rect x="100.35" y="170.55" width="21.80" height="5.17"/><rect x="129.02" y="170.55" width="28.97" height="5.17"/><rect x="164.85" y="170.55" width="21.80" height="5.17"/><rect x="200.69" y="170.55" width="7.47" height="5.17"/><rect x="229.36" y="170.55" width="7.47" height="5.17"/><rect x="250.86" y="170.55" width="7.47" height="5.17"/><rect x="0.00" y="175.43" width="50.47" height="5.17"/><rect x="71.68" y="175.43" width="14.64" height="5.17"/><rect x="93.18" y="175.43" width="14.64" height="5.17"/><rect x="114.68" y="175.43" width="7.47" height="5.17"/><rect x="150.52" y="175.43" width="21.80" height="5.17"/><rect x="179.19" y="175.43" width="50.47" height="5.17"/><rect x="250.86" y="175.43" width="14.64" height="5.17"/></svg>
<svg style="position:absolute;left:648px;top:1993px" width="84" height="58">
<defs>
<clipPath id="ell"><ellipse cx="41.5" cy="25.9" rx="25.7" ry="17.6"/></clipPath>
<linearGradient id="b1" gradientUnits="userSpaceOnUse" x1="52" y1="9" x2="22" y2="22"><stop offset="0" stop-color="#fff"/><stop offset="1" stop-color="#e65050"/></linearGradient>
<linearGradient id="b2" gradientUnits="userSpaceOnUse" x1="17" y1="20" x2="40" y2="34"><stop offset="0" stop-color="#fff"/><stop offset="1" stop-color="#e65050"/></linearGradient>
<linearGradient id="b3" gradientUnits="userSpaceOnUse" x1="31" y1="42" x2="62" y2="30"><stop offset="0" stop-color="#fff"/><stop offset="1" stop-color="#e65050"/></linearGradient>
<linearGradient id="b4" gradientUnits="userSpaceOnUse" x1="65" y1="33" x2="42" y2="19"><stop offset="0" stop-color="#fff"/><stop offset="1" stop-color="#e65050"/></linearGradient>
</defs>
<rect x="3" y="3" width="77.4" height="51.6" rx="8" fill="#fff"/>
<rect x="6.2" y="5" width="70.4" height="47.4" rx="6" fill="#e00a0a"/>
<g clip-path="url(#ell)">
<polygon points="0,-10 0,6.1 29.2,25.78 84,-9.9 84,-10" fill="url(#b1)"/>
<polygon points="0,6.1 41.08,33.76 0,62.4" fill="url(#b2)"/>
<polygon points="0,62.4 53,25.44 84,45 84,70 0,70" fill="url(#b3)"/>
<polygon points="41.15,17.99 84,-9.9 84,45" fill="url(#b4)"/>
<path d="M41.15 17.99 L84 -9.9 M53 25.44 L84 45 M41.08 33.76 L0 62.4 M29.2 25.78 L0 6.1" stroke="#d80808" stroke-width="0.9" fill="none"/><polygon points="29.2,25.78 41.15,17.99 53,25.44 41.08,33.76" fill="#e00a0a"/>
</g>
<ellipse cx="41.5" cy="25.9" rx="25.7" ry="17.6" fill="none" stroke="#c00" stroke-width="0.6"/>
</svg>
<div style="position:absolute;left:848px;top:1881.5px;font-size:16px;line-height:16px;color:#ff0000;font-weight:bold;white-space:nowrap;font-family:'Liberation Sans', sans-serif;letter-spacing:0.95px;">免责声明及风险提示：</div>
<div style="position:absolute;left:884px;top:1916.5px;font-size:16px;line-height:16px;color:#ff0000;font-weight:bold;white-space:nowrap;font-family:'Liberation Sans', sans-serif;letter-spacing:1.42px;">本简报内容是分析师根据历史经验的总结所形成的，仅供本公司客户</div>
<div style="position:absolute;left:848px;top:1935.5px;font-size:16px;line-height:16px;color:#ff0000;font-weight:bold;white-space:nowrap;font-family:'Liberation Sans', sans-serif;letter-spacing:1.42px;">参考，在市场不断变化下存在失效的可能，且过往效果不能代表未来表现。</div>
<div style="position:absolute;left:884px;top:1970.5px;font-size:16px;line-height:16px;color:#ff0000;font-weight:bold;white-space:nowrap;font-family:'Liberation Sans', sans-serif;letter-spacing:1.42px;">简报内容不能取代客户的独立判断或仅根据本内容做出决策。在任何</div>
<div style="position:absolute;left:848px;top:1989.5px;font-size:16px;line-height:16px;color:#ff0000;font-weight:bold;white-space:nowrap;font-family:'Liberation Sans', sans-serif;letter-spacing:1.42px;">情况下，客户须对自身投资决策承担全部责任。投资有风险，入市须谨慎。</div>
<div style="position:absolute;left:849px;top:2051.0px;font-size:16px;line-height:16px;color:#ff0000;font-weight:bold;white-space:nowrap;font-family:'Liberation Sans', sans-serif;letter-spacing:1.42px;">了解更多品种信息，请联系客户经理。</div>
<div style="position:absolute;left:848px;top:2149.5px;font-size:14.63px;line-height:14.63px;color:#000;font-weight:bold;white-space:nowrap;font-family:'Liberation Mono', monospace;letter-spacing:0.2px;">Copyright © www.dhfutures.com&nbsp; All Rights Reserved.</div>
<div style="position:absolute;left:848px;top:2166px;font-size:15px;line-height:15px;color:#000;font-weight:bold;white-space:nowrap;font-family:'Liberation Sans', sans-serif;letter-spacing:1px;transform:scaleY(0.88);transform-origin:top;">江苏东华期货有限公司&nbsp;&nbsp;&nbsp;版权所有</div>
</body></html>
